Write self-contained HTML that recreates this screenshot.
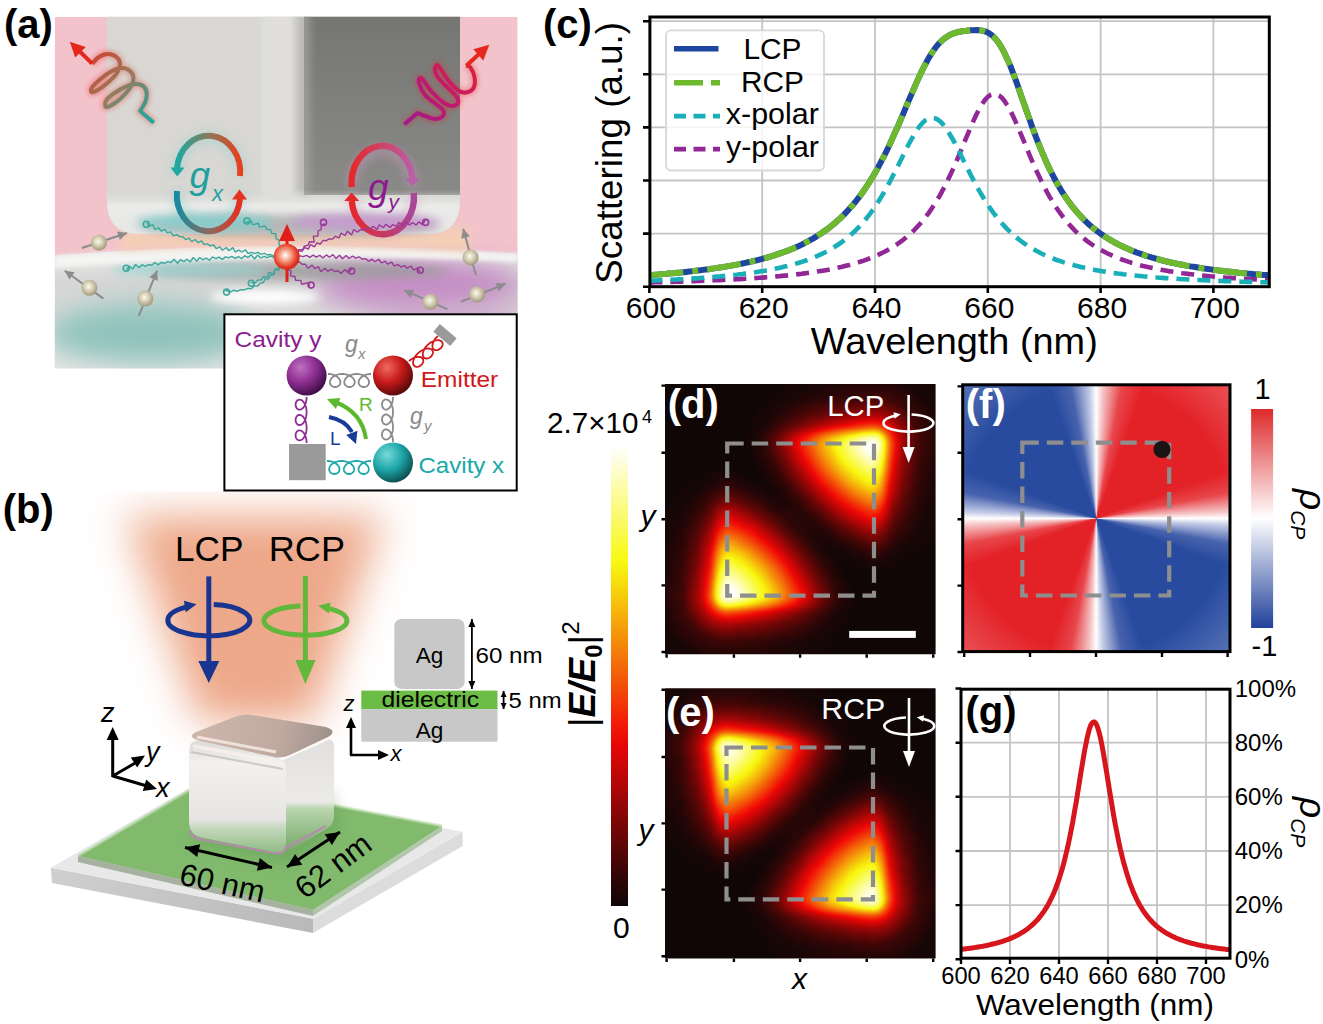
<!DOCTYPE html>
<html><head><meta charset="utf-8"><style>
html,body{margin:0;padding:0;background:#fff;}
body{width:1323px;height:1024px;position:relative;overflow:hidden;font-family:"Liberation Sans",sans-serif;}
svg{position:absolute;left:0;top:0;font-family:"Liberation Sans",sans-serif;}
#fmap{position:absolute;left:964px;top:386px;width:265px;height:265px;background:radial-gradient(circle at 132.2px 132.4px,rgba(255,255,255,0) 135px,rgba(255,255,255,0.22) 190px),conic-gradient(from 0deg at 132.2px 132.4px,#fff 0deg,#f5c4c6 3deg,#e8464b 11deg,#e32228 20deg,#e32228 70deg,#e8464b 79deg,#f5c4c6 87deg,#fff 90deg,#c4cbe6 93deg,#4863ad 101deg,#284ba0 110deg,#284ba0 160deg,#4863ad 169deg,#c4cbe6 177deg,#fff 180deg,#f5c4c6 183deg,#e8464b 191deg,#e32228 200deg,#e32228 250deg,#e8464b 259deg,#f5c4c6 267deg,#fff 270deg,#c4cbe6 273deg,#4863ad 281deg,#284ba0 290deg,#284ba0 340deg,#4863ad 349deg,#c4cbe6 357deg,#fff 360deg);}
</style></head><body>
<div id="fmap"></div>
<svg width="1323" height="1024" viewBox="0 0 1323 1024">
<defs><clipPath id="clipC"><rect x="651" y="18.5" width="617" height="266.7"/></clipPath></defs>
<path d="M762.2,18V286M875,18V286M987.8,18V286M1100.6,18V286M1213.4,18V286M651,21.2H1268M651,74.3H1268M651,127.4H1268M651,180.5H1268M651,233.6H1268" stroke="#c4c4c4" stroke-width="1.8" fill="none"/>
<g clip-path="url(#clipC)" fill="none" stroke-linejoin="round">
<path d="M649.4,282.5 L652.2,282.4 L655,282.3 L657.9,282.3 L660.7,282.2 L663.5,282.1 L666.3,282 L669.1,281.9 L672,281.9 L674.8,281.8 L677.6,281.7 L680.4,281.6 L683.2,281.5 L686.1,281.4 L688.9,281.3 L691.7,281.2 L694.5,281.1 L697.3,281 L700.2,280.9 L703,280.8 L705.8,280.7 L708.6,280.6 L711.4,280.5 L714.3,280.3 L717.1,280.2 L719.9,280.1 L722.7,280 L725.5,279.8 L728.4,279.7 L731.2,279.5 L734,279.4 L736.8,279.2 L739.6,279.1 L742.5,278.9 L745.3,278.7 L748.1,278.6 L750.9,278.4 L753.7,278.2 L756.6,278 L759.4,277.8 L762.2,277.6 L765,277.4 L767.8,277.2 L770.7,276.9 L773.5,276.7 L776.3,276.4 L779.1,276.2 L781.9,275.9 L784.8,275.6 L787.6,275.4 L790.4,275.1 L793.2,274.8 L796,274.4 L798.9,274.1 L801.7,273.8 L804.5,273.4 L807.3,273 L810.1,272.6 L813,272.2 L815.8,271.8 L818.6,271.3 L821.4,270.9 L824.2,270.4 L827.1,269.9 L829.9,269.4 L832.7,268.8 L835.5,268.2 L838.3,267.6 L841.2,267 L844,266.3 L846.8,265.6 L849.6,264.9 L852.4,264.1 L855.3,263.3 L858.1,262.4 L860.9,261.5 L863.7,260.6 L866.5,259.6 L869.4,258.5 L872.2,257.4 L875,256.2 L877.8,255 L880.6,253.7 L883.5,252.3 L886.3,250.8 L889.1,249.2 L891.9,247.6 L894.7,245.8 L897.6,243.9 L900.4,241.9 L903.2,239.8 L906,237.5 L908.8,235.1 L911.7,232.5 L914.5,229.8 L917.3,226.8 L920.1,223.7 L922.9,220.4 L925.8,216.8 L928.6,213.1 L931.4,209 L934.2,204.7 L937,200.2 L939.9,195.3 L942.7,190.2 L945.5,184.8 L948.3,179.1 L951.1,173.2 L954,166.9 L956.8,160.5 L959.6,153.8 L962.4,147.1 L965.2,140.2 L968.1,133.4 L970.9,126.8 L973.7,120.3 L976.5,114.3 L979.3,108.8 L982.2,104 L985,99.9 L987.8,96.8 L990.6,94.8 L993.4,93.9 L996.3,94.1 L999.1,95.4 L1001.9,97.8 L1004.7,101.3 L1007.5,105.6 L1010.4,110.7 L1013.2,116.4 L1016,122.6 L1018.8,129.1 L1021.6,135.9 L1024.5,142.7 L1027.3,149.5 L1030.1,156.3 L1032.9,162.8 L1035.7,169.2 L1038.6,175.3 L1041.4,181.2 L1044.2,186.8 L1047,192.1 L1049.8,197.1 L1052.7,201.8 L1055.5,206.3 L1058.3,210.5 L1061.1,214.4 L1063.9,218.1 L1066.8,221.6 L1069.6,224.9 L1072.4,227.9 L1075.2,230.8 L1078,233.5 L1080.9,236 L1083.7,238.3 L1086.5,240.6 L1089.3,242.6 L1092.1,244.6 L1095,246.4 L1097.8,248.2 L1100.6,249.8 L1103.4,251.3 L1106.2,252.8 L1109.1,254.2 L1111.9,255.4 L1114.7,256.7 L1117.5,257.8 L1120.3,258.9 L1123.2,260 L1126,260.9 L1128.8,261.9 L1131.6,262.8 L1134.4,263.6 L1137.3,264.4 L1140.1,265.2 L1142.9,265.9 L1145.7,266.6 L1148.5,267.2 L1151.4,267.8 L1154.2,268.4 L1157,269 L1159.8,269.6 L1162.6,270.1 L1165.5,270.6 L1168.3,271.1 L1171.1,271.5 L1173.9,271.9 L1176.7,272.4 L1179.6,272.8 L1182.4,273.2 L1185.2,273.5 L1188,273.9 L1190.8,274.2 L1193.7,274.5 L1196.5,274.9 L1199.3,275.2 L1202.1,275.5 L1204.9,275.7 L1207.8,276 L1210.6,276.3 L1213.4,276.5 L1216.2,276.8 L1219,277 L1221.9,277.2 L1224.7,277.5 L1227.5,277.7 L1230.3,277.9 L1233.1,278.1 L1236,278.3 L1238.8,278.4 L1241.6,278.6 L1244.4,278.8 L1247.2,279 L1250.1,279.1 L1252.9,279.3 L1255.7,279.4 L1258.5,279.6 L1261.3,279.7 L1264.2,279.9 L1267,280 L1269.8,280.1" stroke="#912896" stroke-width="4.6" stroke-dasharray="13 8"/>
<path d="M649.4,280.7 L652.2,280.6 L655,280.5 L657.9,280.4 L660.7,280.2 L663.5,280.1 L666.3,280 L669.1,279.8 L672,279.7 L674.8,279.5 L677.6,279.4 L680.4,279.2 L683.2,279.1 L686.1,278.9 L688.9,278.7 L691.7,278.6 L694.5,278.4 L697.3,278.2 L700.2,278 L703,277.8 L705.8,277.6 L708.6,277.3 L711.4,277.1 L714.3,276.9 L717.1,276.6 L719.9,276.4 L722.7,276.1 L725.5,275.9 L728.4,275.6 L731.2,275.3 L734,275 L736.8,274.7 L739.6,274.3 L742.5,274 L745.3,273.6 L748.1,273.3 L750.9,272.9 L753.7,272.5 L756.6,272 L759.4,271.6 L762.2,271.1 L765,270.7 L767.8,270.2 L770.7,269.6 L773.5,269.1 L776.3,268.5 L779.1,267.9 L781.9,267.3 L784.8,266.6 L787.6,265.9 L790.4,265.2 L793.2,264.4 L796,263.6 L798.9,262.8 L801.7,261.9 L804.5,261 L807.3,260 L810.1,258.9 L813,257.8 L815.8,256.6 L818.6,255.4 L821.4,254.1 L824.2,252.7 L827.1,251.3 L829.9,249.7 L832.7,248.1 L835.5,246.3 L838.3,244.5 L841.2,242.5 L844,240.4 L846.8,238.2 L849.6,235.9 L852.4,233.4 L855.3,230.7 L858.1,227.9 L860.9,224.8 L863.7,221.6 L866.5,218.2 L869.4,214.6 L872.2,210.8 L875,206.8 L877.8,202.5 L880.6,198 L883.5,193.3 L886.3,188.3 L889.1,183.1 L891.9,177.8 L894.7,172.3 L897.6,166.7 L900.4,161 L903.2,155.2 L906,149.6 L908.8,144.1 L911.7,138.9 L914.5,134 L917.3,129.5 L920.1,125.7 L922.9,122.5 L925.8,120.1 L928.6,118.5 L931.4,117.8 L934.2,118.1 L937,119.2 L939.9,121.2 L942.7,124 L945.5,127.6 L948.3,131.8 L951.1,136.5 L954,141.5 L956.8,146.9 L959.6,152.5 L962.4,158.2 L965.2,163.9 L968.1,169.6 L970.9,175.2 L973.7,180.6 L976.5,185.8 L979.3,190.9 L982.2,195.7 L985,200.4 L987.8,204.7 L990.6,208.9 L993.4,212.8 L996.3,216.5 L999.1,220 L1001.9,223.3 L1004.7,226.4 L1007.5,229.4 L1010.4,232.1 L1013.2,234.7 L1016,237.1 L1018.8,239.4 L1021.6,241.5 L1024.5,243.6 L1027.3,245.5 L1030.1,247.3 L1032.9,248.9 L1035.7,250.5 L1038.6,252 L1041.4,253.5 L1044.2,254.8 L1047,256.1 L1049.8,257.3 L1052.7,258.4 L1055.5,259.5 L1058.3,260.5 L1061.1,261.4 L1063.9,262.4 L1066.8,263.2 L1069.6,264.1 L1072.4,264.8 L1075.2,265.6 L1078,266.3 L1080.9,267 L1083.7,267.6 L1086.5,268.2 L1089.3,268.8 L1092.1,269.4 L1095,269.9 L1097.8,270.4 L1100.6,270.9 L1103.4,271.4 L1106.2,271.8 L1109.1,272.3 L1111.9,272.7 L1114.7,273.1 L1117.5,273.5 L1120.3,273.8 L1123.2,274.2 L1126,274.5 L1128.8,274.8 L1131.6,275.1 L1134.4,275.4 L1137.3,275.7 L1140.1,276 L1142.9,276.3 L1145.7,276.5 L1148.5,276.8 L1151.4,277 L1154.2,277.2 L1157,277.5 L1159.8,277.7 L1162.6,277.9 L1165.5,278.1 L1168.3,278.3 L1171.1,278.5 L1173.9,278.6 L1176.7,278.8 L1179.6,279 L1182.4,279.2 L1185.2,279.3 L1188,279.5 L1190.8,279.6 L1193.7,279.8 L1196.5,279.9 L1199.3,280 L1202.1,280.2 L1204.9,280.3 L1207.8,280.4 L1210.6,280.6 L1213.4,280.7 L1216.2,280.8 L1219,280.9 L1221.9,281 L1224.7,281.1 L1227.5,281.2 L1230.3,281.3 L1233.1,281.4 L1236,281.5 L1238.8,281.6 L1241.6,281.7 L1244.4,281.8 L1247.2,281.9 L1250.1,281.9 L1252.9,282 L1255.7,282.1 L1258.5,282.2 L1261.3,282.3 L1264.2,282.3 L1267,282.4 L1269.8,282.5" stroke="#19afb9" stroke-width="4.6" stroke-dasharray="13 8"/>
<path d="M649.4,275.1 L652.2,274.9 L655,274.7 L657.9,274.5 L660.7,274.2 L663.5,274 L666.3,273.8 L669.1,273.5 L672,273.3 L674.8,273 L677.6,272.7 L680.4,272.5 L683.2,272.2 L686.1,271.9 L688.9,271.6 L691.7,271.3 L694.5,270.9 L697.3,270.6 L700.2,270.3 L703,269.9 L705.8,269.5 L708.6,269.2 L711.4,268.8 L714.3,268.4 L717.1,267.9 L719.9,267.5 L722.7,267.1 L725.5,266.6 L728.4,266.1 L731.2,265.6 L734,265.1 L736.8,264.6 L739.6,264.1 L742.5,263.5 L745.3,262.9 L748.1,262.3 L750.9,261.7 L753.7,261 L756.6,260.3 L759.4,259.6 L762.2,258.9 L765,258.1 L767.8,257.3 L770.7,256.5 L773.5,255.6 L776.3,254.7 L779.1,253.7 L781.9,252.8 L784.8,251.7 L787.6,250.7 L790.4,249.6 L793.2,248.4 L796,247.2 L798.9,245.9 L801.7,244.6 L804.5,243.2 L807.3,241.7 L810.1,240.2 L813,238.6 L815.8,236.9 L818.6,235.1 L821.4,233.3 L824.2,231.3 L827.1,229.3 L829.9,227.1 L832.7,224.9 L835.5,222.5 L838.3,220 L841.2,217.4 L844,214.6 L846.8,211.7 L849.6,208.6 L852.4,205.4 L855.3,202 L858.1,198.4 L860.9,194.7 L863.7,190.7 L866.5,186.6 L869.4,182.2 L872.2,177.7 L875,172.9 L877.8,167.9 L880.6,162.6 L883.5,157.2 L886.3,151.5 L889.1,145.7 L891.9,139.6 L894.7,133.3 L897.6,126.9 L900.4,120.4 L903.2,113.8 L906,107.1 L908.8,100.4 L911.7,93.8 L914.5,87.3 L917.3,80.9 L920.1,74.8 L922.9,68.9 L925.8,63.4 L928.6,58.3 L931.4,53.6 L934.2,49.5 L937,45.8 L939.9,42.6 L942.7,39.9 L945.5,37.7 L948.3,35.9 L951.1,34.4 L954,33.3 L956.8,32.4 L959.6,31.8 L962.4,31.3 L965.2,30.9 L968.1,30.6 L970.9,30.3 L973.7,30.2 L976.5,30.1 L979.3,30.2 L982.2,30.6 L985,31.4 L987.8,32.5 L990.6,34.3 L993.4,36.6 L996.3,39.7 L999.1,43.5 L1001.9,48.1 L1004.7,53.4 L1007.5,59.4 L1010.4,66.1 L1013.2,73.3 L1016,80.9 L1018.8,88.8 L1021.6,96.9 L1024.5,105 L1027.3,113.1 L1030.1,121.1 L1032.9,128.9 L1035.7,136.4 L1038.6,143.7 L1041.4,150.6 L1044.2,157.2 L1047,163.5 L1049.8,169.5 L1052.7,175.2 L1055.5,180.5 L1058.3,185.5 L1061.1,190.3 L1063.9,194.7 L1066.8,198.9 L1069.6,202.8 L1072.4,206.6 L1075.2,210 L1078,213.3 L1080.9,216.4 L1083.7,219.3 L1086.5,222.1 L1089.3,224.7 L1092.1,227.1 L1095,229.4 L1097.8,231.6 L1100.6,233.7 L1103.4,235.6 L1106.2,237.5 L1109.1,239.2 L1111.9,240.9 L1114.7,242.5 L1117.5,244 L1120.3,245.4 L1123.2,246.8 L1126,248.1 L1128.8,249.3 L1131.6,250.5 L1134.4,251.6 L1137.3,252.7 L1140.1,253.7 L1142.9,254.7 L1145.7,255.6 L1148.5,256.5 L1151.4,257.4 L1154.2,258.2 L1157,259 L1159.8,259.7 L1162.6,260.5 L1165.5,261.2 L1168.3,261.8 L1171.1,262.5 L1173.9,263.1 L1176.7,263.7 L1179.6,264.3 L1182.4,264.8 L1185.2,265.4 L1188,265.9 L1190.8,266.4 L1193.7,266.8 L1196.5,267.3 L1199.3,267.8 L1202.1,268.2 L1204.9,268.6 L1207.8,269 L1210.6,269.4 L1213.4,269.8 L1216.2,270.1 L1219,270.5 L1221.9,270.8 L1224.7,271.2 L1227.5,271.5 L1230.3,271.8 L1233.1,272.1 L1236,272.4 L1238.8,272.7 L1241.6,272.9 L1244.4,273.2 L1247.2,273.5 L1250.1,273.7 L1252.9,274 L1255.7,274.2 L1258.5,274.4 L1261.3,274.7 L1264.2,274.9 L1267,275.1 L1269.8,275.3" stroke="#1e46a0" stroke-width="6"/>
<path d="M649.4,275.1 L652.2,274.9 L655,274.7 L657.9,274.5 L660.7,274.2 L663.5,274 L666.3,273.8 L669.1,273.5 L672,273.3 L674.8,273 L677.6,272.7 L680.4,272.5 L683.2,272.2 L686.1,271.9 L688.9,271.6 L691.7,271.3 L694.5,270.9 L697.3,270.6 L700.2,270.3 L703,269.9 L705.8,269.5 L708.6,269.2 L711.4,268.8 L714.3,268.4 L717.1,267.9 L719.9,267.5 L722.7,267.1 L725.5,266.6 L728.4,266.1 L731.2,265.6 L734,265.1 L736.8,264.6 L739.6,264.1 L742.5,263.5 L745.3,262.9 L748.1,262.3 L750.9,261.7 L753.7,261 L756.6,260.3 L759.4,259.6 L762.2,258.9 L765,258.1 L767.8,257.3 L770.7,256.5 L773.5,255.6 L776.3,254.7 L779.1,253.7 L781.9,252.8 L784.8,251.7 L787.6,250.7 L790.4,249.6 L793.2,248.4 L796,247.2 L798.9,245.9 L801.7,244.6 L804.5,243.2 L807.3,241.7 L810.1,240.2 L813,238.6 L815.8,236.9 L818.6,235.1 L821.4,233.3 L824.2,231.3 L827.1,229.3 L829.9,227.1 L832.7,224.9 L835.5,222.5 L838.3,220 L841.2,217.4 L844,214.6 L846.8,211.7 L849.6,208.6 L852.4,205.4 L855.3,202 L858.1,198.4 L860.9,194.7 L863.7,190.7 L866.5,186.6 L869.4,182.2 L872.2,177.7 L875,172.9 L877.8,167.9 L880.6,162.6 L883.5,157.2 L886.3,151.5 L889.1,145.7 L891.9,139.6 L894.7,133.3 L897.6,126.9 L900.4,120.4 L903.2,113.8 L906,107.1 L908.8,100.4 L911.7,93.8 L914.5,87.3 L917.3,80.9 L920.1,74.8 L922.9,68.9 L925.8,63.4 L928.6,58.3 L931.4,53.6 L934.2,49.5 L937,45.8 L939.9,42.6 L942.7,39.9 L945.5,37.7 L948.3,35.9 L951.1,34.4 L954,33.3 L956.8,32.4 L959.6,31.8 L962.4,31.3 L965.2,30.9 L968.1,30.6 L970.9,30.3 L973.7,30.2 L976.5,30.1 L979.3,30.2 L982.2,30.6 L985,31.4 L987.8,32.5 L990.6,34.3 L993.4,36.6 L996.3,39.7 L999.1,43.5 L1001.9,48.1 L1004.7,53.4 L1007.5,59.4 L1010.4,66.1 L1013.2,73.3 L1016,80.9 L1018.8,88.8 L1021.6,96.9 L1024.5,105 L1027.3,113.1 L1030.1,121.1 L1032.9,128.9 L1035.7,136.4 L1038.6,143.7 L1041.4,150.6 L1044.2,157.2 L1047,163.5 L1049.8,169.5 L1052.7,175.2 L1055.5,180.5 L1058.3,185.5 L1061.1,190.3 L1063.9,194.7 L1066.8,198.9 L1069.6,202.8 L1072.4,206.6 L1075.2,210 L1078,213.3 L1080.9,216.4 L1083.7,219.3 L1086.5,222.1 L1089.3,224.7 L1092.1,227.1 L1095,229.4 L1097.8,231.6 L1100.6,233.7 L1103.4,235.6 L1106.2,237.5 L1109.1,239.2 L1111.9,240.9 L1114.7,242.5 L1117.5,244 L1120.3,245.4 L1123.2,246.8 L1126,248.1 L1128.8,249.3 L1131.6,250.5 L1134.4,251.6 L1137.3,252.7 L1140.1,253.7 L1142.9,254.7 L1145.7,255.6 L1148.5,256.5 L1151.4,257.4 L1154.2,258.2 L1157,259 L1159.8,259.7 L1162.6,260.5 L1165.5,261.2 L1168.3,261.8 L1171.1,262.5 L1173.9,263.1 L1176.7,263.7 L1179.6,264.3 L1182.4,264.8 L1185.2,265.4 L1188,265.9 L1190.8,266.4 L1193.7,266.8 L1196.5,267.3 L1199.3,267.8 L1202.1,268.2 L1204.9,268.6 L1207.8,269 L1210.6,269.4 L1213.4,269.8 L1216.2,270.1 L1219,270.5 L1221.9,270.8 L1224.7,271.2 L1227.5,271.5 L1230.3,271.8 L1233.1,272.1 L1236,272.4 L1238.8,272.7 L1241.6,272.9 L1244.4,273.2 L1247.2,273.5 L1250.1,273.7 L1252.9,274 L1255.7,274.2 L1258.5,274.4 L1261.3,274.7 L1264.2,274.9 L1267,275.1 L1269.8,275.3" stroke="#6eb92d" stroke-width="6" stroke-dasharray="34 9 6 9"/>
</g>
<rect x="666.1" y="30.3" width="157.9" height="140.2" rx="5" fill="#fff" fill-opacity="0.8" stroke="#d8d8d8" stroke-width="1.8"/>
<path d="M674,48.8H718.5" stroke="#1e46a0" stroke-width="5.5"/>
<path d="M674,82.7H720" stroke="#6eb92d" stroke-width="5.5" stroke-dasharray="29 8 9 9"/>
<path d="M674,116.2H720" stroke="#19afb9" stroke-width="4.8" stroke-dasharray="12 7.5"/>
<path d="M674,149.1H720" stroke="#912896" stroke-width="4.8" stroke-dasharray="12 7.5"/>
<text x="743.5" y="58.5" font-size="30" textLength="58" lengthAdjust="spacingAndGlyphs">LCP</text>
<text x="741" y="91.6" font-size="30" textLength="63" lengthAdjust="spacingAndGlyphs">RCP</text>
<text x="725.8" y="123.8" font-size="30" textLength="93" lengthAdjust="spacingAndGlyphs">x-polar</text>
<text x="726" y="156.8" font-size="30" textLength="93" lengthAdjust="spacingAndGlyphs">y-polar</text>
<rect x="649.9" y="17" width="619.4" height="269.7" fill="none" stroke="#000" stroke-width="3"/>
<path d="M643,21.2H650M643,74.3H650M643,127.4H650M643,180.5H650M643,233.6H650M643,286.7H650M649.4,286V293M762.2,286V293M875,286V293M987.8,286V293M1100.6,286V293M1213.4,286V293" stroke="#000" stroke-width="2.6"/>
<text x="650.9" y="318" font-size="30" text-anchor="middle">600</text>
<text x="763.7" y="318" font-size="30" text-anchor="middle">620</text>
<text x="876.5" y="318" font-size="30" text-anchor="middle">640</text>
<text x="989.3" y="318" font-size="30" text-anchor="middle">660</text>
<text x="1102.1" y="318" font-size="30" text-anchor="middle">680</text>
<text x="1214.9" y="318" font-size="30" text-anchor="middle">700</text>
<text x="810.8" y="353.5" font-size="37" textLength="287" lengthAdjust="spacingAndGlyphs">Wavelength (nm)</text>
<text transform="translate(622.4,283.7) rotate(-90)" font-size="37.5" textLength="261.7" lengthAdjust="spacingAndGlyphs">Scattering (a.u.)</text>
<text x="3.9" y="37.5" font-size="40" font-weight="bold">(a)</text>
<text x="542.9" y="37.5" font-size="40" font-weight="bold">(c)</text>
<text x="2.7" y="522.5" font-size="40" font-weight="bold">(b)</text>
<defs><filter id="hotf" x="0" y="0" width="1323" height="1024" filterUnits="userSpaceOnUse" color-interpolation-filters="sRGB"><feGaussianBlur stdDeviation="2.6"/><feComponentTransfer><feFuncR type="table" tableValues="0.063 0.102 0.164 0.226 0.288 0.350 0.412 0.474 0.537 0.599 0.661 0.723 0.785 0.847 0.909 0.947 0.949 0.951 0.953 0.954 0.956 0.958 0.960 0.961 0.963 0.965 0.967 0.968 0.970 0.972 0.974 0.976 0.979 0.982 0.984 0.987 0.990 0.992 0.995 0.997 1.000"/><feFuncG type="table" tableValues="0.024 0.024 0.024 0.024 0.024 0.024 0.024 0.024 0.024 0.024 0.024 0.024 0.024 0.024 0.026 0.052 0.114 0.176 0.238 0.300 0.362 0.424 0.486 0.548 0.611 0.673 0.735 0.797 0.859 0.921 0.974 0.976 0.979 0.982 0.984 0.987 0.990 0.992 0.995 0.997 1.000"/><feFuncB type="table" tableValues="0.024 0.024 0.024 0.024 0.024 0.024 0.024 0.024 0.024 0.024 0.024 0.024 0.024 0.024 0.026 0.027 0.029 0.031 0.033 0.034 0.036 0.038 0.040 0.041 0.043 0.045 0.047 0.048 0.050 0.052 0.068 0.161 0.255 0.348 0.441 0.534 0.627 0.720 0.814 0.907 1.000"/></feComponentTransfer></filter>
<clipPath id="clipD"><rect x="665" y="384" width="270.6" height="270.3"/></clipPath><clipPath id="clipE"><rect x="665" y="688.2" width="270.6" height="270.3"/></clipPath></defs>
<g clip-path="url(#clipD)"><g filter="url(#hotf)"><rect x="645" y="364" width="310.6" height="310.3" fill="#000"/><path fill="#040404" d="M785 379h40v5h-40zM900 379h30v5h-30zM780 384h30v5h-30zM910 384h25v5h-25zM775 389h25v5h-25zM915 389h25v5h-25zM770 394h25v5h-25zM920 394h25v5h-25zM765 399h20v5h-20zM925 399h25v5h-25zM760 404h15v5h-15zM930 404h20v5h-20zM755 409h15v5h-15zM935 409h15v5h-15zM755 414h15v5h-15zM935 414h15v5h-15zM750 419h15v5h-15zM935 419h15v5h-15zM750 424h10v5h-10zM940 424h10v5h-10zM750 429h5v5h-5zM940 429h10v5h-10zM745 434h10v5h-10zM940 434h10v5h-10zM745 439h5v5h-5zM940 439h10v5h-10zM750 444h5v5h-5zM940 444h10v5h-10zM750 449h5v5h-5zM940 449h10v5h-10zM750 454h5v5h-5zM940 454h10v5h-10zM755 459h5v5h-5zM940 459h10v5h-10zM755 464h5v5h-5zM940 464h10v5h-10zM710 469h25v5h-25zM760 469h5v5h-5zM940 469h10v5h-10zM700 474h15v5h-15zM735 474h10v5h-10zM760 474h5v5h-5zM940 474h10v5h-10zM690 479h20v5h-20zM745 479h10v5h-10zM765 479h5v5h-5zM940 479h10v5h-10zM685 484h20v5h-20zM755 484h20v5h-20zM935 484h15v5h-15zM680 489h20v5h-20zM765 489h10v5h-10zM935 489h15v5h-15zM675 494h15v5h-15zM935 494h15v5h-15zM670 499h20v5h-20zM935 499h10v5h-10zM665 504h20v5h-20zM930 504h15v5h-15zM660 509h20v5h-20zM930 509h15v5h-15zM660 514h20v5h-20zM925 514h15v5h-15zM660 519h15v5h-15zM925 519h15v5h-15zM660 524h10v5h-10zM920 524h20v5h-20zM660 529h10v5h-10zM915 529h20v5h-20zM660 534h10v5h-10zM915 534h20v5h-20zM660 539h5v5h-5zM910 539h20v5h-20zM660 544h5v5h-5zM825 544h10v5h-10zM905 544h20v5h-20zM660 549h5v5h-5zM825 549h20v5h-20zM900 549h15v5h-15zM660 554h5v5h-5zM830 554h5v5h-5zM840 554h10v5h-10zM890 554h20v5h-20zM660 559h5v5h-5zM835 559h5v5h-5zM850 559h15v5h-15zM885 559h20v5h-20zM835 564h5v5h-5zM860 564h35v5h-35zM840 569h5v5h-5zM840 574h5v5h-5zM845 579h5v5h-5zM845 584h5v5h-5zM850 589h5v5h-5zM850 594h5v5h-5zM850 599h5v5h-5zM845 604h10v5h-10zM840 609h10v5h-10zM660 614h5v5h-5zM835 614h15v5h-15zM660 619h5v5h-5zM835 619h15v5h-15zM660 624h5v5h-5zM830 624h15v5h-15zM660 629h10v5h-10zM825 629h15v5h-15zM660 634h15v5h-15zM820 634h15v5h-15zM660 639h20v5h-20zM810 639h20v5h-20zM660 644h25v5h-25zM805 644h25v5h-25zM665 649h25v5h-25zM795 649h30v5h-30zM670 654h30v5h-30zM780 654h40v5h-40zM675 659h40v5h-40zM745 659h65v5h-65zM680 664h105v5h-105z"/><path fill="#080808" d="M825 379h75v5h-75zM810 384h30v5h-30zM895 384h15v5h-15zM800 389h25v5h-25zM905 389h10v5h-10zM795 394h20v5h-20zM915 394h5v5h-5zM785 399h15v5h-15zM920 399h5v5h-5zM775 404h10v5h-10zM925 404h5v5h-5zM770 409h10v5h-10zM925 409h10v5h-10zM770 414h5v5h-5zM930 414h5v5h-5zM765 419h5v5h-5zM930 419h5v5h-5zM760 424h10v5h-10zM935 424h5v5h-5zM755 429h10v5h-10zM935 429h5v5h-5zM755 434h5v5h-5zM935 434h5v5h-5zM750 439h10v5h-10zM935 439h5v5h-5zM755 444h5v5h-5zM935 444h5v5h-5zM755 449h5v5h-5zM935 449h5v5h-5zM755 454h5v5h-5zM935 454h5v5h-5zM760 459h5v5h-5zM935 459h5v5h-5zM760 464h5v5h-5zM935 464h5v5h-5zM765 469h5v5h-5zM930 469h10v5h-10zM715 474h20v5h-20zM765 474h5v5h-5zM930 474h10v5h-10zM710 479h10v5h-10zM735 479h10v5h-10zM770 479h5v5h-5zM930 479h10v5h-10zM705 484h10v5h-10zM745 484h10v5h-10zM775 484h5v5h-5zM930 484h5v5h-5zM700 489h5v5h-5zM755 489h10v5h-10zM775 489h10v5h-10zM925 489h10v5h-10zM690 494h10v5h-10zM765 494h20v5h-20zM925 494h10v5h-10zM690 499h5v5h-5zM770 499h20v5h-20zM925 499h10v5h-10zM685 504h5v5h-5zM780 504h10v5h-10zM920 504h10v5h-10zM680 509h10v5h-10zM920 509h10v5h-10zM680 514h5v5h-5zM915 514h10v5h-10zM675 519h10v5h-10zM915 519h10v5h-10zM670 524h15v5h-15zM915 524h5v5h-5zM670 529h10v5h-10zM810 529h10v5h-10zM910 529h5v5h-5zM670 534h10v5h-10zM810 534h20v5h-20zM905 534h10v5h-10zM665 539h10v5h-10zM815 539h20v5h-20zM900 539h10v5h-10zM665 544h10v5h-10zM815 544h10v5h-10zM835 544h10v5h-10zM895 544h10v5h-10zM665 549h10v5h-10zM820 549h5v5h-5zM845 549h10v5h-10zM890 549h10v5h-10zM665 554h5v5h-5zM825 554h5v5h-5zM850 554h15v5h-15zM885 554h5v5h-5zM665 559h5v5h-5zM830 559h5v5h-5zM865 559h20v5h-20zM660 564h10v5h-10zM830 564h5v5h-5zM660 569h10v5h-10zM835 569h5v5h-5zM660 574h10v5h-10zM835 574h5v5h-5zM660 579h5v5h-5zM840 579h5v5h-5zM660 584h5v5h-5zM840 584h5v5h-5zM660 589h5v5h-5zM840 589h10v5h-10zM660 594h5v5h-5zM845 594h5v5h-5zM660 599h5v5h-5zM840 599h10v5h-10zM660 604h5v5h-5zM840 604h5v5h-5zM660 609h10v5h-10zM835 609h5v5h-5zM665 614h5v5h-5zM830 614h5v5h-5zM665 619h5v5h-5zM825 619h10v5h-10zM665 624h10v5h-10zM820 624h10v5h-10zM670 629h5v5h-5zM815 629h10v5h-10zM675 634h5v5h-5zM805 634h15v5h-15zM680 639h5v5h-5zM790 639h20v5h-20zM685 644h10v5h-10zM780 644h25v5h-25zM690 649h10v5h-10zM765 649h30v5h-30zM700 654h20v5h-20zM735 654h45v5h-45zM715 659h30v5h-30z"/><path fill="#0c0c0c" d="M840 384h55v5h-55zM825 389h25v5h-25zM895 389h10v5h-10zM815 394h20v5h-20zM905 394h10v5h-10zM800 399h10v5h-10zM910 399h10v5h-10zM785 404h10v5h-10zM915 404h10v5h-10zM780 409h10v5h-10zM920 409h5v5h-5zM775 414h10v5h-10zM920 414h10v5h-10zM770 419h5v5h-5zM925 419h5v5h-5zM925 424h10v5h-10zM930 429h5v5h-5zM760 434h5v5h-5zM930 434h5v5h-5zM760 439h5v5h-5zM930 439h5v5h-5zM760 444h5v5h-5zM930 444h5v5h-5zM760 449h5v5h-5zM930 449h5v5h-5zM760 454h5v5h-5zM930 454h5v5h-5zM765 459h5v5h-5zM925 459h10v5h-10zM765 464h5v5h-5zM925 464h10v5h-10zM770 469h5v5h-5zM925 469h5v5h-5zM770 474h10v5h-10zM925 474h5v5h-5zM720 479h15v5h-15zM775 479h5v5h-5zM920 479h10v5h-10zM715 484h5v5h-5zM735 484h10v5h-10zM780 484h5v5h-5zM920 484h10v5h-10zM705 489h5v5h-5zM745 489h10v5h-10zM785 489h5v5h-5zM920 489h5v5h-5zM700 494h5v5h-5zM755 494h10v5h-10zM785 494h5v5h-5zM920 494h5v5h-5zM695 499h10v5h-10zM765 499h5v5h-5zM790 499h5v5h-5zM915 499h10v5h-10zM690 504h10v5h-10zM770 504h10v5h-10zM790 504h10v5h-10zM915 504h5v5h-5zM690 509h5v5h-5zM775 509h30v5h-30zM915 509h5v5h-5zM685 514h5v5h-5zM785 514h25v5h-25zM685 519h5v5h-5zM790 519h25v5h-25zM910 519h5v5h-5zM795 524h30v5h-30zM910 524h5v5h-5zM680 529h5v5h-5zM800 529h10v5h-10zM820 529h10v5h-10zM905 529h5v5h-5zM680 534h5v5h-5zM805 534h5v5h-5zM830 534h5v5h-5zM900 534h5v5h-5zM675 539h10v5h-10zM810 539h5v5h-5zM835 539h10v5h-10zM895 539h5v5h-5zM675 544h10v5h-10zM810 544h5v5h-5zM845 544h10v5h-10zM890 544h5v5h-5zM675 549h5v5h-5zM815 549h5v5h-5zM855 549h10v5h-10zM885 549h5v5h-5zM670 554h10v5h-10zM820 554h5v5h-5zM865 554h20v5h-20zM670 559h10v5h-10zM820 559h10v5h-10zM670 564h5v5h-5zM825 564h5v5h-5zM670 569h5v5h-5zM830 569h5v5h-5zM670 574h5v5h-5zM830 574h5v5h-5zM665 579h10v5h-10zM835 579h5v5h-5zM665 584h10v5h-10zM835 584h5v5h-5zM665 589h5v5h-5zM835 589h5v5h-5zM665 594h5v5h-5zM840 594h5v5h-5zM665 599h5v5h-5zM835 599h5v5h-5zM665 604h10v5h-10zM835 604h5v5h-5zM670 609h5v5h-5zM830 609h5v5h-5zM670 614h5v5h-5zM825 614h5v5h-5zM670 619h10v5h-10zM820 619h5v5h-5zM675 624h5v5h-5zM815 624h5v5h-5zM675 629h10v5h-10zM805 629h10v5h-10zM680 634h10v5h-10zM795 634h10v5h-10zM685 639h10v5h-10zM770 639h20v5h-20zM695 644h10v5h-10zM755 644h25v5h-25zM700 649h65v5h-65zM720 654h15v5h-15z"/><path fill="#101010" d="M850 389h45v5h-45zM835 394h25v5h-25zM890 394h15v5h-15zM810 399h15v5h-15zM900 399h10v5h-10zM795 404h10v5h-10zM905 404h10v5h-10zM790 409h5v5h-5zM910 409h10v5h-10zM785 414h5v5h-5zM915 414h5v5h-5zM775 419h5v5h-5zM920 419h5v5h-5zM770 424h5v5h-5zM920 424h5v5h-5zM765 429h5v5h-5zM920 429h10v5h-10zM925 434h5v5h-5zM925 439h5v5h-5zM925 444h5v5h-5zM765 449h5v5h-5zM925 449h5v5h-5zM765 454h5v5h-5zM920 454h10v5h-10zM770 459h5v5h-5zM920 459h5v5h-5zM770 464h5v5h-5zM920 464h5v5h-5zM775 469h5v5h-5zM920 469h5v5h-5zM920 474h5v5h-5zM780 479h5v5h-5zM720 484h15v5h-15zM785 484h5v5h-5zM915 484h5v5h-5zM710 489h5v5h-5zM740 489h5v5h-5zM915 489h5v5h-5zM705 494h5v5h-5zM750 494h5v5h-5zM790 494h5v5h-5zM915 494h5v5h-5zM760 499h5v5h-5zM795 499h5v5h-5zM700 504h5v5h-5zM765 504h5v5h-5zM800 504h5v5h-5zM695 509h5v5h-5zM770 509h5v5h-5zM805 509h5v5h-5zM910 509h5v5h-5zM690 514h5v5h-5zM780 514h5v5h-5zM810 514h5v5h-5zM910 514h5v5h-5zM690 519h5v5h-5zM785 519h5v5h-5zM815 519h5v5h-5zM905 519h5v5h-5zM685 524h5v5h-5zM790 524h5v5h-5zM900 524h10v5h-10zM685 529h5v5h-5zM795 529h5v5h-5zM830 529h5v5h-5zM900 529h5v5h-5zM800 534h5v5h-5zM835 534h5v5h-5zM895 534h5v5h-5zM805 539h5v5h-5zM845 539h5v5h-5zM890 539h5v5h-5zM855 544h5v5h-5zM885 544h5v5h-5zM680 549h5v5h-5zM810 549h5v5h-5zM865 549h20v5h-20zM680 554h5v5h-5zM815 554h5v5h-5zM680 559h5v5h-5zM675 564h10v5h-10zM820 564h5v5h-5zM675 569h5v5h-5zM825 569h5v5h-5zM675 574h5v5h-5zM675 579h5v5h-5zM830 579h5v5h-5zM675 584h5v5h-5zM830 584h5v5h-5zM670 589h10v5h-10zM670 594h5v5h-5zM835 594h5v5h-5zM670 599h10v5h-10zM675 604h5v5h-5zM830 604h5v5h-5zM675 609h5v5h-5zM825 609h5v5h-5zM675 614h5v5h-5zM820 614h5v5h-5zM680 619h5v5h-5zM815 619h5v5h-5zM680 624h10v5h-10zM805 624h10v5h-10zM685 629h10v5h-10zM795 629h10v5h-10zM690 634h10v5h-10zM780 634h15v5h-15zM695 639h15v5h-15zM745 639h25v5h-25zM705 644h50v5h-50z"/><path fill="#141414" d="M860 394h30v5h-30zM825 399h15v5h-15zM890 399h10v5h-10zM805 404h10v5h-10zM900 404h5v5h-5zM795 409h10v5h-10zM905 409h5v5h-5zM790 414h5v5h-5zM910 414h5v5h-5zM780 419h5v5h-5zM915 419h5v5h-5zM775 424h5v5h-5zM915 424h5v5h-5zM770 429h5v5h-5zM915 429h5v5h-5zM765 434h5v5h-5zM920 434h5v5h-5zM765 439h5v5h-5zM920 439h5v5h-5zM765 444h5v5h-5zM920 444h5v5h-5zM920 449h5v5h-5zM770 454h5v5h-5zM775 464h5v5h-5zM915 464h5v5h-5zM915 469h5v5h-5zM780 474h5v5h-5zM915 474h5v5h-5zM915 479h5v5h-5zM715 489h5v5h-5zM735 489h5v5h-5zM790 489h5v5h-5zM710 494h5v5h-5zM745 494h5v5h-5zM795 494h5v5h-5zM910 494h5v5h-5zM705 499h5v5h-5zM755 499h5v5h-5zM800 499h5v5h-5zM910 499h5v5h-5zM760 504h5v5h-5zM910 504h5v5h-5zM700 509h5v5h-5zM905 509h5v5h-5zM695 514h5v5h-5zM775 514h5v5h-5zM815 514h5v5h-5zM905 514h5v5h-5zM780 519h5v5h-5zM820 519h5v5h-5zM900 519h5v5h-5zM690 524h5v5h-5zM785 524h5v5h-5zM825 524h5v5h-5zM790 529h5v5h-5zM895 529h5v5h-5zM685 534h5v5h-5zM795 534h5v5h-5zM840 534h5v5h-5zM890 534h5v5h-5zM685 539h5v5h-5zM800 539h5v5h-5zM850 539h5v5h-5zM685 544h5v5h-5zM805 544h5v5h-5zM860 544h5v5h-5zM815 559h5v5h-5zM680 569h5v5h-5zM680 574h5v5h-5zM825 574h5v5h-5zM680 579h5v5h-5zM680 584h5v5h-5zM680 589h5v5h-5zM830 589h5v5h-5zM675 594h5v5h-5zM680 599h5v5h-5zM830 599h5v5h-5zM680 604h5v5h-5zM680 609h5v5h-5zM820 609h5v5h-5zM680 614h5v5h-5zM815 614h5v5h-5zM685 619h5v5h-5zM810 619h5v5h-5zM690 624h5v5h-5zM800 624h5v5h-5zM695 629h5v5h-5zM790 629h5v5h-5zM700 634h10v5h-10zM770 634h10v5h-10zM710 639h35v5h-35z"/><path fill="#181818" d="M840 399h20v5h-20zM885 399h5v5h-5zM815 404h10v5h-10zM895 404h5v5h-5zM805 409h5v5h-5zM795 414h5v5h-5zM785 419h5v5h-5zM910 419h5v5h-5zM780 424h5v5h-5zM915 434h5v5h-5zM915 439h5v5h-5zM915 444h5v5h-5zM770 449h5v5h-5zM915 449h5v5h-5zM915 454h5v5h-5zM915 459h5v5h-5zM780 469h5v5h-5zM785 479h5v5h-5zM790 484h5v5h-5zM910 484h5v5h-5zM720 489h15v5h-15zM910 489h5v5h-5zM740 494h5v5h-5zM710 499h5v5h-5zM750 499h5v5h-5zM705 504h5v5h-5zM805 504h5v5h-5zM905 504h5v5h-5zM765 509h5v5h-5zM810 509h5v5h-5zM700 514h5v5h-5zM900 514h5v5h-5zM695 519h5v5h-5zM695 524h5v5h-5zM830 524h5v5h-5zM895 524h5v5h-5zM690 529h5v5h-5zM835 529h5v5h-5zM890 529h5v5h-5zM690 534h5v5h-5zM845 534h5v5h-5zM855 539h5v5h-5zM885 539h5v5h-5zM865 544h5v5h-5zM880 544h5v5h-5zM685 549h5v5h-5zM685 554h5v5h-5zM810 554h5v5h-5zM820 569h5v5h-5zM825 579h5v5h-5zM680 594h5v5h-5zM830 594h5v5h-5zM825 604h5v5h-5zM685 614h5v5h-5zM810 614h5v5h-5zM690 619h5v5h-5zM805 619h5v5h-5zM790 624h10v5h-10zM700 629h5v5h-5zM780 629h10v5h-10zM710 634h5v5h-5zM755 634h15v5h-15z"/><path fill="#1c1c1c" d="M860 399h25v5h-25zM825 404h10v5h-10zM810 409h10v5h-10zM900 409h5v5h-5zM800 414h5v5h-5zM905 414h5v5h-5zM790 419h5v5h-5zM785 424h5v5h-5zM910 424h5v5h-5zM775 429h5v5h-5zM770 434h5v5h-5zM770 439h5v5h-5zM770 444h5v5h-5zM775 459h5v5h-5zM785 474h5v5h-5zM910 474h5v5h-5zM910 479h5v5h-5zM795 489h5v5h-5zM715 494h5v5h-5zM735 494h5v5h-5zM800 494h5v5h-5zM905 494h5v5h-5zM745 499h5v5h-5zM805 499h5v5h-5zM905 499h5v5h-5zM755 504h5v5h-5zM705 509h5v5h-5zM815 509h5v5h-5zM900 509h5v5h-5zM770 514h5v5h-5zM820 514h5v5h-5zM700 519h5v5h-5zM775 519h5v5h-5zM825 519h5v5h-5zM895 519h5v5h-5zM780 524h5v5h-5zM695 529h5v5h-5zM785 529h5v5h-5zM840 529h5v5h-5zM790 534h5v5h-5zM850 534h5v5h-5zM885 534h5v5h-5zM690 539h5v5h-5zM795 539h5v5h-5zM860 539h5v5h-5zM690 544h5v5h-5zM800 544h5v5h-5zM870 544h10v5h-10zM805 549h5v5h-5zM685 559h5v5h-5zM810 559h5v5h-5zM685 564h5v5h-5zM815 564h5v5h-5zM685 569h5v5h-5zM820 574h5v5h-5zM825 584h5v5h-5zM825 599h5v5h-5zM685 609h5v5h-5zM815 609h5v5h-5zM800 619h5v5h-5zM695 624h5v5h-5zM785 624h5v5h-5zM770 629h10v5h-10zM715 634h5v5h-5zM735 634h20v5h-20z"/><path fill="#202020" d="M835 404h15v5h-15zM890 404h5v5h-5zM820 409h5v5h-5zM805 414h5v5h-5zM795 419h5v5h-5zM905 419h5v5h-5zM910 429h5v5h-5zM775 454h5v5h-5zM910 459h5v5h-5zM780 464h5v5h-5zM910 464h5v5h-5zM910 469h5v5h-5zM790 479h5v5h-5zM905 489h5v5h-5zM720 494h5v5h-5zM730 494h5v5h-5zM740 499h5v5h-5zM900 499h5v5h-5zM710 504h5v5h-5zM750 504h5v5h-5zM810 504h5v5h-5zM900 504h5v5h-5zM760 509h5v5h-5zM765 514h5v5h-5zM895 514h5v5h-5zM830 519h5v5h-5zM835 524h5v5h-5zM890 524h5v5h-5zM845 529h5v5h-5zM695 534h5v5h-5zM865 539h5v5h-5zM880 539h5v5h-5zM690 549h5v5h-5zM690 554h5v5h-5zM805 554h5v5h-5zM815 569h5v5h-5zM685 574h5v5h-5zM685 579h5v5h-5zM820 579h5v5h-5zM685 584h5v5h-5zM825 589h5v5h-5zM825 594h5v5h-5zM685 599h5v5h-5zM685 604h5v5h-5zM820 604h5v5h-5zM810 609h5v5h-5zM690 614h5v5h-5zM805 614h5v5h-5zM795 619h5v5h-5zM780 624h5v5h-5zM705 629h5v5h-5zM760 629h10v5h-10zM720 634h15v5h-15z"/><path fill="#242424" d="M850 404h10v5h-10zM885 404h5v5h-5zM825 409h10v5h-10zM895 409h5v5h-5zM810 414h10v5h-10zM900 414h5v5h-5zM800 419h5v5h-5zM790 424h5v5h-5zM780 429h5v5h-5zM775 434h5v5h-5zM910 434h5v5h-5zM910 439h5v5h-5zM910 444h5v5h-5zM775 449h5v5h-5zM910 449h5v5h-5zM910 454h5v5h-5zM780 459h5v5h-5zM785 469h5v5h-5zM905 479h5v5h-5zM795 484h5v5h-5zM905 484h5v5h-5zM800 489h5v5h-5zM725 494h5v5h-5zM805 494h5v5h-5zM900 494h5v5h-5zM715 499h5v5h-5zM735 499h5v5h-5zM810 499h5v5h-5zM745 504h5v5h-5zM815 504h5v5h-5zM755 509h5v5h-5zM820 509h5v5h-5zM895 509h5v5h-5zM705 514h5v5h-5zM825 514h5v5h-5zM770 519h5v5h-5zM890 519h5v5h-5zM700 524h5v5h-5zM775 524h5v5h-5zM840 524h5v5h-5zM780 529h5v5h-5zM885 529h5v5h-5zM785 534h5v5h-5zM855 534h5v5h-5zM695 539h5v5h-5zM790 539h5v5h-5zM870 539h10v5h-10zM695 544h5v5h-5zM795 544h5v5h-5zM800 549h5v5h-5zM690 559h5v5h-5zM690 564h5v5h-5zM810 564h5v5h-5zM815 574h5v5h-5zM820 584h5v5h-5zM685 589h5v5h-5zM685 594h5v5h-5zM820 599h5v5h-5zM800 614h5v5h-5zM695 619h5v5h-5zM785 619h10v5h-10zM700 624h5v5h-5zM770 624h10v5h-10zM710 629h5v5h-5zM750 629h10v5h-10z"/><path fill="#282828" d="M860 404h25v5h-25zM835 409h10v5h-10zM890 409h5v5h-5zM820 414h5v5h-5zM795 424h5v5h-5zM905 424h5v5h-5zM775 439h5v5h-5zM775 444h5v5h-5zM780 454h5v5h-5zM785 464h5v5h-5zM905 469h5v5h-5zM790 474h5v5h-5zM905 474h5v5h-5zM795 479h5v5h-5zM900 489h5v5h-5zM720 499h5v5h-5zM730 499h5v5h-5zM895 504h5v5h-5zM710 509h5v5h-5zM750 509h5v5h-5zM760 514h5v5h-5zM705 519h5v5h-5zM765 519h5v5h-5zM835 519h5v5h-5zM700 529h5v5h-5zM850 529h5v5h-5zM860 534h5v5h-5zM880 534h5v5h-5zM695 549h5v5h-5zM800 554h5v5h-5zM805 559h5v5h-5zM690 569h5v5h-5zM810 569h5v5h-5zM690 574h5v5h-5zM815 579h5v5h-5zM820 589h5v5h-5zM820 594h5v5h-5zM815 604h5v5h-5zM690 609h5v5h-5zM805 609h5v5h-5zM795 614h5v5h-5zM780 619h5v5h-5zM765 624h5v5h-5zM715 629h5v5h-5zM735 629h15v5h-15z"/><path fill="#2d2d2d" d="M845 409h5v5h-5zM825 414h5v5h-5zM895 414h5v5h-5zM805 419h5v5h-5zM900 419h5v5h-5zM785 429h5v5h-5zM905 429h5v5h-5zM780 434h5v5h-5zM780 449h5v5h-5zM785 459h5v5h-5zM905 459h5v5h-5zM905 464h5v5h-5zM790 469h5v5h-5zM900 479h5v5h-5zM800 484h5v5h-5zM900 484h5v5h-5zM805 489h5v5h-5zM810 494h5v5h-5zM725 499h5v5h-5zM815 499h5v5h-5zM715 504h5v5h-5zM740 504h5v5h-5zM820 504h5v5h-5zM825 509h5v5h-5zM710 514h5v5h-5zM755 514h5v5h-5zM830 514h5v5h-5zM890 514h5v5h-5zM705 524h5v5h-5zM770 524h5v5h-5zM845 524h5v5h-5zM885 524h5v5h-5zM775 529h5v5h-5zM855 529h5v5h-5zM700 534h5v5h-5zM780 534h5v5h-5zM865 534h5v5h-5zM875 534h5v5h-5zM785 539h5v5h-5zM790 544h5v5h-5zM795 549h5v5h-5zM695 554h5v5h-5zM695 559h5v5h-5zM805 564h5v5h-5zM690 579h5v5h-5zM690 584h5v5h-5zM815 584h5v5h-5zM690 604h5v5h-5zM800 609h5v5h-5zM695 614h5v5h-5zM790 614h5v5h-5zM700 619h5v5h-5zM775 619h5v5h-5zM705 624h5v5h-5zM755 624h10v5h-10zM720 629h15v5h-15z"/><path fill="#313131" d="M850 409h10v5h-10zM885 409h5v5h-5zM830 414h5v5h-5zM810 419h5v5h-5zM800 424h5v5h-5zM905 434h5v5h-5zM780 439h5v5h-5zM905 439h5v5h-5zM780 444h5v5h-5zM905 444h5v5h-5zM905 449h5v5h-5zM905 454h5v5h-5zM795 474h5v5h-5zM900 474h5v5h-5zM895 499h5v5h-5zM735 504h5v5h-5zM745 509h5v5h-5zM890 509h5v5h-5zM760 519h5v5h-5zM840 519h5v5h-5zM850 524h5v5h-5zM860 529h5v5h-5zM880 529h5v5h-5zM870 534h5v5h-5zM700 539h5v5h-5zM800 559h5v5h-5zM695 564h5v5h-5zM810 574h5v5h-5zM690 589h5v5h-5zM690 594h5v5h-5zM690 599h5v5h-5zM815 599h5v5h-5zM810 604h5v5h-5zM695 609h5v5h-5zM770 619h5v5h-5zM710 624h5v5h-5zM745 624h10v5h-10z"/><path fill="#353535" d="M860 409h25v5h-25zM835 414h10v5h-10zM890 414h5v5h-5zM815 419h5v5h-5zM895 419h5v5h-5zM805 424h5v5h-5zM900 424h5v5h-5zM790 429h5v5h-5zM785 454h5v5h-5zM790 464h5v5h-5zM900 464h5v5h-5zM900 469h5v5h-5zM800 479h5v5h-5zM805 484h5v5h-5zM895 494h5v5h-5zM720 504h5v5h-5zM730 504h5v5h-5zM890 504h5v5h-5zM830 509h5v5h-5zM750 514h5v5h-5zM835 514h5v5h-5zM710 519h5v5h-5zM885 519h5v5h-5zM765 524h5v5h-5zM705 529h5v5h-5zM700 544h5v5h-5zM790 549h5v5h-5zM795 554h5v5h-5zM695 569h5v5h-5zM805 569h5v5h-5zM695 574h5v5h-5zM810 579h5v5h-5zM815 589h5v5h-5zM815 594h5v5h-5zM795 609h5v5h-5zM700 614h5v5h-5zM785 614h5v5h-5zM705 619h5v5h-5zM765 619h5v5h-5zM715 624h5v5h-5zM735 624h10v5h-10z"/><path fill="#393939" d="M845 414h5v5h-5zM820 419h5v5h-5zM900 429h5v5h-5zM785 434h5v5h-5zM785 449h5v5h-5zM900 454h5v5h-5zM900 459h5v5h-5zM795 469h5v5h-5zM810 489h5v5h-5zM895 489h5v5h-5zM815 494h5v5h-5zM820 499h5v5h-5zM725 504h5v5h-5zM825 504h5v5h-5zM715 509h5v5h-5zM740 509h5v5h-5zM755 519h5v5h-5zM845 519h5v5h-5zM855 524h5v5h-5zM770 529h5v5h-5zM865 529h5v5h-5zM875 529h5v5h-5zM705 534h5v5h-5zM775 534h5v5h-5zM780 539h5v5h-5zM785 544h5v5h-5zM700 549h5v5h-5zM800 564h5v5h-5zM695 579h5v5h-5zM695 584h5v5h-5zM695 604h5v5h-5zM805 604h5v5h-5zM780 614h5v5h-5zM760 619h5v5h-5zM720 624h15v5h-15z"/><path fill="#3d3d3d" d="M850 414h10v5h-10zM885 414h5v5h-5zM825 419h5v5h-5zM890 419h5v5h-5zM810 424h5v5h-5zM895 424h5v5h-5zM795 429h5v5h-5zM900 434h5v5h-5zM900 444h5v5h-5zM900 449h5v5h-5zM790 459h5v5h-5zM800 474h5v5h-5zM895 484h5v5h-5zM890 499h5v5h-5zM735 509h5v5h-5zM745 514h5v5h-5zM840 514h5v5h-5zM885 514h5v5h-5zM710 524h5v5h-5zM760 524h5v5h-5zM880 524h5v5h-5zM870 529h5v5h-5zM705 539h5v5h-5zM700 554h5v5h-5zM700 559h5v5h-5zM795 559h5v5h-5zM805 574h5v5h-5zM810 584h5v5h-5zM695 589h5v5h-5zM695 594h5v5h-5zM695 599h5v5h-5zM810 599h5v5h-5zM700 609h5v5h-5zM790 609h5v5h-5zM775 614h5v5h-5zM710 619h5v5h-5zM750 619h10v5h-10z"/><path fill="#414141" d="M860 414h5v5h-5zM880 414h5v5h-5zM830 419h5v5h-5zM815 424h5v5h-5zM785 439h5v5h-5zM900 439h5v5h-5zM785 444h5v5h-5zM790 454h5v5h-5zM795 464h5v5h-5zM805 479h5v5h-5zM895 479h5v5h-5zM810 484h5v5h-5zM890 494h5v5h-5zM830 504h5v5h-5zM720 509h5v5h-5zM835 509h5v5h-5zM715 514h5v5h-5zM850 519h5v5h-5zM860 524h5v5h-5zM765 529h5v5h-5zM770 534h5v5h-5zM785 549h5v5h-5zM790 554h5v5h-5zM700 564h5v5h-5zM800 569h5v5h-5zM805 579h5v5h-5zM810 589h5v5h-5zM785 609h5v5h-5zM705 614h5v5h-5zM745 619h5v5h-5z"/><path fill="#454545" d="M865 414h15v5h-15zM835 419h5v5h-5zM800 429h5v5h-5zM790 434h5v5h-5zM800 469h5v5h-5zM895 469h5v5h-5zM895 474h5v5h-5zM815 489h5v5h-5zM820 494h5v5h-5zM825 499h5v5h-5zM730 509h5v5h-5zM885 509h5v5h-5zM740 514h5v5h-5zM845 514h5v5h-5zM750 519h5v5h-5zM855 519h5v5h-5zM865 524h5v5h-5zM875 524h5v5h-5zM710 529h5v5h-5zM775 539h5v5h-5zM705 544h5v5h-5zM780 544h5v5h-5zM795 564h5v5h-5zM700 569h5v5h-5zM810 594h5v5h-5zM700 604h5v5h-5zM800 604h5v5h-5zM770 614h5v5h-5zM715 619h5v5h-5zM740 619h5v5h-5z"/><path fill="#494949" d="M840 419h5v5h-5zM820 424h5v5h-5zM895 429h5v5h-5zM790 449h5v5h-5zM795 459h5v5h-5zM895 464h5v5h-5zM805 474h5v5h-5zM890 489h5v5h-5zM725 509h5v5h-5zM840 509h5v5h-5zM735 514h5v5h-5zM745 519h5v5h-5zM880 519h5v5h-5zM755 524h5v5h-5zM870 524h5v5h-5zM760 529h5v5h-5zM705 549h5v5h-5zM790 559h5v5h-5zM700 574h5v5h-5zM800 574h5v5h-5zM805 584h5v5h-5zM805 599h5v5h-5zM780 609h5v5h-5zM765 614h5v5h-5zM720 619h5v5h-5zM730 619h10v5h-10z"/><path fill="#4d4d4d" d="M845 419h5v5h-5zM885 419h5v5h-5zM825 424h5v5h-5zM805 429h5v5h-5zM790 439h5v5h-5zM790 444h5v5h-5zM795 454h5v5h-5zM895 459h5v5h-5zM800 464h5v5h-5zM810 479h5v5h-5zM815 484h5v5h-5zM890 484h5v5h-5zM820 489h5v5h-5zM825 494h5v5h-5zM830 499h5v5h-5zM835 504h5v5h-5zM885 504h5v5h-5zM720 514h5v5h-5zM850 514h5v5h-5zM715 519h5v5h-5zM860 519h5v5h-5zM710 534h5v5h-5zM765 534h5v5h-5zM770 539h5v5h-5zM775 544h5v5h-5zM780 549h5v5h-5zM705 554h5v5h-5zM785 554h5v5h-5zM795 569h5v5h-5zM700 579h5v5h-5zM700 584h5v5h-5zM805 589h5v5h-5zM700 599h5v5h-5zM795 604h5v5h-5zM775 609h5v5h-5zM710 614h5v5h-5zM760 614h5v5h-5zM725 619h5v5h-5z"/><path fill="#515151" d="M850 419h5v5h-5zM890 424h5v5h-5zM795 434h5v5h-5zM895 434h5v5h-5zM895 454h5v5h-5zM805 469h5v5h-5zM890 479h5v5h-5zM845 509h5v5h-5zM730 514h5v5h-5zM740 519h5v5h-5zM865 519h5v5h-5zM875 519h5v5h-5zM750 524h5v5h-5zM710 539h5v5h-5zM705 559h5v5h-5zM790 564h5v5h-5zM800 579h5v5h-5zM700 589h5v5h-5zM700 594h5v5h-5zM805 594h5v5h-5zM705 609h5v5h-5zM755 614h5v5h-5z"/><path fill="#555555" d="M855 419h5v5h-5zM880 419h5v5h-5zM830 424h5v5h-5zM895 439h5v5h-5zM895 444h5v5h-5zM795 449h5v5h-5zM895 449h5v5h-5zM800 459h5v5h-5zM810 474h5v5h-5zM890 474h5v5h-5zM885 499h5v5h-5zM840 504h5v5h-5zM725 514h5v5h-5zM855 514h5v5h-5zM880 514h5v5h-5zM715 524h5v5h-5zM755 529h5v5h-5zM760 534h5v5h-5zM785 559h5v5h-5zM705 564h5v5h-5zM795 574h5v5h-5zM800 584h5v5h-5zM800 599h5v5h-5zM770 609h5v5h-5zM750 614h5v5h-5z"/><path fill="#595959" d="M860 419h5v5h-5zM835 424h5v5h-5zM810 429h5v5h-5zM795 439h5v5h-5zM795 444h5v5h-5zM805 464h5v5h-5zM815 479h5v5h-5zM820 484h5v5h-5zM825 489h5v5h-5zM830 494h5v5h-5zM835 499h5v5h-5zM850 509h5v5h-5zM860 514h5v5h-5zM720 519h5v5h-5zM735 519h5v5h-5zM870 519h5v5h-5zM745 524h5v5h-5zM765 539h5v5h-5zM710 544h5v5h-5zM770 544h5v5h-5zM775 549h5v5h-5zM780 554h5v5h-5zM705 569h5v5h-5zM790 569h5v5h-5zM790 604h5v5h-5zM765 609h5v5h-5zM715 614h5v5h-5zM745 614h5v5h-5z"/><path fill="#5d5d5d" d="M865 419h15v5h-15zM840 424h5v5h-5zM890 429h5v5h-5zM800 434h5v5h-5zM800 454h5v5h-5zM810 469h5v5h-5zM890 469h5v5h-5zM885 494h5v5h-5zM845 504h5v5h-5zM880 509h5v5h-5zM875 514h5v5h-5zM730 519h5v5h-5zM740 524h5v5h-5zM750 529h5v5h-5zM785 564h5v5h-5zM705 574h5v5h-5zM795 579h5v5h-5zM800 589h5v5h-5zM800 594h5v5h-5zM705 604h5v5h-5zM740 614h5v5h-5z"/><path fill="#616161" d="M845 424h5v5h-5zM885 424h5v5h-5zM815 429h5v5h-5zM800 449h5v5h-5zM805 459h5v5h-5zM890 464h5v5h-5zM815 474h5v5h-5zM840 499h5v5h-5zM855 509h5v5h-5zM865 514h5v5h-5zM725 519h5v5h-5zM715 529h5v5h-5zM755 534h5v5h-5zM760 539h5v5h-5zM710 549h5v5h-5zM780 559h5v5h-5zM790 574h5v5h-5zM705 579h5v5h-5zM795 599h5v5h-5zM785 604h5v5h-5zM710 609h5v5h-5zM760 609h5v5h-5zM720 614h5v5h-5zM730 614h10v5h-10z"/><path fill="#656565" d="M805 434h5v5h-5zM800 439h5v5h-5zM890 459h5v5h-5zM820 479h5v5h-5zM825 484h5v5h-5zM830 489h5v5h-5zM885 489h5v5h-5zM835 494h5v5h-5zM850 504h5v5h-5zM860 509h5v5h-5zM870 514h5v5h-5zM720 524h5v5h-5zM735 524h5v5h-5zM745 529h5v5h-5zM765 544h5v5h-5zM770 549h5v5h-5zM775 554h5v5h-5zM705 584h5v5h-5zM795 584h5v5h-5zM755 609h5v5h-5zM725 614h5v5h-5z"/><path fill="#696969" d="M850 424h5v5h-5zM820 429h5v5h-5zM890 434h5v5h-5zM800 444h5v5h-5zM805 454h5v5h-5zM890 454h5v5h-5zM810 464h5v5h-5zM815 469h5v5h-5zM885 484h5v5h-5zM845 499h5v5h-5zM880 504h5v5h-5zM730 524h5v5h-5zM750 534h5v5h-5zM710 554h5v5h-5zM785 569h5v5h-5zM790 579h5v5h-5zM705 589h5v5h-5zM795 589h5v5h-5zM795 594h5v5h-5zM705 599h5v5h-5zM780 604h5v5h-5zM750 609h5v5h-5z"/><path fill="#6d6d6d" d="M855 424h5v5h-5zM880 424h5v5h-5zM890 449h5v5h-5zM810 459h5v5h-5zM820 474h5v5h-5zM835 489h5v5h-5zM840 494h5v5h-5zM855 504h5v5h-5zM865 509h5v5h-5zM875 509h5v5h-5zM740 529h5v5h-5zM715 534h5v5h-5zM755 539h5v5h-5zM760 544h5v5h-5zM710 559h5v5h-5zM775 559h5v5h-5zM780 564h5v5h-5zM705 594h5v5h-5zM790 599h5v5h-5z"/><path fill="#717171" d="M860 424h5v5h-5zM825 429h5v5h-5zM885 429h5v5h-5zM810 434h5v5h-5zM805 439h5v5h-5zM890 439h5v5h-5zM890 444h5v5h-5zM805 449h5v5h-5zM825 479h5v5h-5zM885 479h5v5h-5zM830 484h5v5h-5zM850 499h5v5h-5zM870 509h5v5h-5zM725 524h5v5h-5zM720 529h5v5h-5zM735 529h5v5h-5zM745 534h5v5h-5zM765 549h5v5h-5zM770 554h5v5h-5zM710 564h5v5h-5zM785 574h5v5h-5zM790 584h5v5h-5zM710 604h5v5h-5zM715 609h5v5h-5zM745 609h5v5h-5z"/><path fill="#757575" d="M865 424h5v5h-5zM875 424h5v5h-5zM805 444h5v5h-5zM810 454h5v5h-5zM815 464h5v5h-5zM845 494h5v5h-5zM880 499h5v5h-5zM860 504h5v5h-5zM715 539h5v5h-5zM750 539h5v5h-5zM780 569h5v5h-5zM790 589h5v5h-5zM775 604h5v5h-5zM740 609h5v5h-5z"/><path fill="#797979" d="M870 424h5v5h-5zM830 429h5v5h-5zM820 469h5v5h-5zM825 474h5v5h-5zM885 474h5v5h-5zM830 479h5v5h-5zM835 484h5v5h-5zM840 489h5v5h-5zM855 499h5v5h-5zM865 504h5v5h-5zM875 504h5v5h-5zM730 529h5v5h-5zM740 534h5v5h-5zM755 544h5v5h-5zM760 549h5v5h-5zM765 554h5v5h-5zM770 559h5v5h-5zM775 564h5v5h-5zM710 569h5v5h-5zM785 579h5v5h-5zM790 594h5v5h-5zM785 599h5v5h-5zM735 609h5v5h-5z"/><path fill="#7d7d7d" d="M815 434h5v5h-5zM810 449h5v5h-5zM815 459h5v5h-5zM885 469h5v5h-5zM725 529h5v5h-5zM720 534h5v5h-5zM745 539h5v5h-5zM710 574h5v5h-5zM780 574h5v5h-5zM785 584h5v5h-5zM770 604h5v5h-5zM720 609h5v5h-5zM730 609h5v5h-5z"/><path fill="#828282" d="M835 429h5v5h-5zM810 439h5v5h-5zM810 444h5v5h-5zM820 464h5v5h-5zM845 489h5v5h-5zM850 494h5v5h-5zM880 494h5v5h-5zM860 499h5v5h-5zM870 504h5v5h-5zM735 534h5v5h-5zM715 544h5v5h-5zM750 544h5v5h-5zM775 569h5v5h-5zM710 599h5v5h-5zM725 609h5v5h-5z"/><path fill="#868686" d="M815 454h5v5h-5zM885 464h5v5h-5zM825 469h5v5h-5zM830 474h5v5h-5zM835 479h5v5h-5zM840 484h5v5h-5zM875 499h5v5h-5zM730 534h5v5h-5zM740 539h5v5h-5zM755 549h5v5h-5zM760 554h5v5h-5zM765 559h5v5h-5zM770 564h5v5h-5zM710 579h5v5h-5zM780 579h5v5h-5zM785 589h5v5h-5zM785 594h5v5h-5zM780 599h5v5h-5zM765 604h5v5h-5z"/><path fill="#8a8a8a" d="M840 429h5v5h-5zM820 434h5v5h-5zM885 434h5v5h-5zM815 449h5v5h-5zM820 459h5v5h-5zM885 459h5v5h-5zM880 489h5v5h-5zM855 494h5v5h-5zM865 499h5v5h-5zM725 534h5v5h-5zM720 539h5v5h-5zM745 544h5v5h-5zM715 549h5v5h-5zM775 574h5v5h-5zM710 584h5v5h-5z"/><path fill="#8e8e8e" d="M880 429h5v5h-5zM815 439h5v5h-5zM825 464h5v5h-5zM850 489h5v5h-5zM860 494h5v5h-5zM870 499h5v5h-5zM735 539h5v5h-5zM750 549h5v5h-5zM770 569h5v5h-5zM780 584h5v5h-5zM710 589h5v5h-5zM760 604h5v5h-5z"/><path fill="#929292" d="M845 429h5v5h-5zM815 444h5v5h-5zM820 454h5v5h-5zM885 454h5v5h-5zM830 469h5v5h-5zM835 474h5v5h-5zM840 479h5v5h-5zM845 484h5v5h-5zM875 494h5v5h-5zM740 544h5v5h-5zM715 554h5v5h-5zM755 554h5v5h-5zM760 559h5v5h-5zM765 564h5v5h-5zM775 579h5v5h-5zM780 589h5v5h-5zM710 594h5v5h-5zM780 594h5v5h-5zM775 599h5v5h-5zM715 604h5v5h-5z"/><path fill="#969696" d="M850 429h5v5h-5zM825 434h5v5h-5zM885 449h5v5h-5zM825 459h5v5h-5zM880 484h5v5h-5zM855 489h5v5h-5zM865 494h5v5h-5zM730 539h5v5h-5zM770 574h5v5h-5zM755 604h5v5h-5z"/><path fill="#9a9a9a" d="M820 439h5v5h-5zM885 439h5v5h-5zM885 444h5v5h-5zM820 449h5v5h-5zM830 464h5v5h-5zM850 484h5v5h-5zM870 494h5v5h-5zM725 539h5v5h-5zM720 544h5v5h-5zM735 544h5v5h-5zM745 549h5v5h-5zM750 554h5v5h-5zM765 569h5v5h-5zM775 584h5v5h-5z"/><path fill="#9e9e9e" d="M855 429h5v5h-5zM820 444h5v5h-5zM825 454h5v5h-5zM835 469h5v5h-5zM840 474h5v5h-5zM845 479h5v5h-5zM880 479h5v5h-5zM860 489h5v5h-5zM875 489h5v5h-5zM715 559h5v5h-5zM755 559h5v5h-5zM760 564h5v5h-5zM770 579h5v5h-5zM775 589h5v5h-5zM770 599h5v5h-5zM750 604h5v5h-5z"/><path fill="#a2a2a2" d="M830 434h5v5h-5zM830 459h5v5h-5zM855 484h5v5h-5zM865 489h5v5h-5zM730 544h5v5h-5zM740 549h5v5h-5zM765 574h5v5h-5zM775 594h5v5h-5z"/><path fill="#a6a6a6" d="M860 429h5v5h-5zM825 439h5v5h-5zM825 449h5v5h-5zM835 464h5v5h-5zM845 474h5v5h-5zM880 474h5v5h-5zM850 479h5v5h-5zM725 544h5v5h-5zM720 549h5v5h-5zM745 554h5v5h-5zM750 559h5v5h-5zM715 564h5v5h-5zM755 564h5v5h-5zM760 569h5v5h-5zM770 584h5v5h-5zM765 599h5v5h-5zM745 604h5v5h-5z"/><path fill="#aaaaaa" d="M865 429h5v5h-5zM875 429h5v5h-5zM835 434h5v5h-5zM825 444h5v5h-5zM830 454h5v5h-5zM840 469h5v5h-5zM860 484h5v5h-5zM875 484h5v5h-5zM870 489h5v5h-5zM735 549h5v5h-5z"/><path fill="#aeaeae" d="M870 429h5v5h-5zM855 479h5v5h-5zM730 549h5v5h-5zM720 554h5v5h-5zM740 554h5v5h-5zM715 569h5v5h-5zM765 579h5v5h-5zM770 589h5v5h-5zM770 594h5v5h-5zM740 604h5v5h-5z"/><path fill="#b2b2b2" d="M840 434h5v5h-5zM830 439h5v5h-5zM830 449h5v5h-5zM835 459h5v5h-5zM840 464h5v5h-5zM845 469h5v5h-5zM880 469h5v5h-5zM850 474h5v5h-5zM865 484h5v5h-5zM725 549h5v5h-5zM745 559h5v5h-5zM750 564h5v5h-5zM755 569h5v5h-5zM760 574h5v5h-5zM765 584h5v5h-5zM760 599h5v5h-5zM720 604h5v5h-5z"/><path fill="#b6b6b6" d="M830 444h5v5h-5zM835 454h5v5h-5zM860 479h5v5h-5zM875 479h5v5h-5zM870 484h5v5h-5zM735 554h5v5h-5zM715 574h5v5h-5zM760 579h5v5h-5zM735 604h5v5h-5z"/><path fill="#bababa" d="M880 434h5v5h-5zM840 459h5v5h-5zM845 464h5v5h-5zM880 464h5v5h-5zM850 469h5v5h-5zM855 474h5v5h-5zM730 554h5v5h-5zM720 559h5v5h-5zM740 559h5v5h-5zM745 564h5v5h-5zM750 569h5v5h-5zM755 574h5v5h-5zM765 589h5v5h-5zM765 594h5v5h-5zM715 599h5v5h-5zM755 599h5v5h-5zM730 604h5v5h-5z"/><path fill="#bebebe" d="M845 434h5v5h-5zM835 439h5v5h-5zM835 449h5v5h-5zM875 474h5v5h-5zM865 479h5v5h-5zM725 554h5v5h-5zM735 559h5v5h-5zM715 579h5v5h-5zM760 584h5v5h-5zM725 604h5v5h-5z"/><path fill="#c2c2c2" d="M835 444h5v5h-5zM840 454h5v5h-5zM880 459h5v5h-5zM855 469h5v5h-5zM860 474h5v5h-5zM870 479h5v5h-5zM720 564h5v5h-5zM740 564h5v5h-5zM755 579h5v5h-5zM760 589h5v5h-5zM750 599h5v5h-5z"/><path fill="#c6c6c6" d="M850 434h5v5h-5zM840 439h5v5h-5zM845 459h5v5h-5zM850 464h5v5h-5zM865 474h5v5h-5zM730 559h5v5h-5zM745 569h5v5h-5zM750 574h5v5h-5zM715 584h5v5h-5zM760 594h5v5h-5z"/><path fill="#cacaca" d="M840 449h5v5h-5zM880 454h5v5h-5zM860 469h5v5h-5zM875 469h5v5h-5zM870 474h5v5h-5zM725 559h5v5h-5zM735 564h5v5h-5zM755 584h5v5h-5zM715 589h5v5h-5z"/><path fill="#cecece" d="M855 434h5v5h-5zM840 444h5v5h-5zM845 454h5v5h-5zM850 459h5v5h-5zM855 464h5v5h-5zM720 569h5v5h-5zM740 569h5v5h-5zM745 574h5v5h-5zM750 579h5v5h-5zM755 589h5v5h-5zM715 594h5v5h-5zM755 594h5v5h-5zM745 599h5v5h-5z"/><path fill="#d2d2d2" d="M845 439h5v5h-5zM845 449h5v5h-5zM880 449h5v5h-5zM875 464h5v5h-5zM865 469h5v5h-5zM730 564h5v5h-5zM750 584h5v5h-5z"/><path fill="#d7d7d7" d="M880 439h5v5h-5zM880 444h5v5h-5zM850 454h5v5h-5zM855 459h5v5h-5zM860 464h5v5h-5zM870 469h5v5h-5zM725 564h5v5h-5zM735 569h5v5h-5zM720 574h5v5h-5zM740 574h5v5h-5zM745 579h5v5h-5zM740 599h5v5h-5z"/><path fill="#dbdbdb" d="M860 434h5v5h-5zM845 444h5v5h-5zM730 569h5v5h-5zM750 589h5v5h-5zM750 594h5v5h-5z"/><path fill="#dfdfdf" d="M865 434h5v5h-5zM850 439h5v5h-5zM850 449h5v5h-5zM855 454h5v5h-5zM860 459h5v5h-5zM875 459h5v5h-5zM865 464h5v5h-5zM725 569h5v5h-5zM735 574h5v5h-5zM720 579h5v5h-5zM740 579h5v5h-5zM745 584h5v5h-5zM735 599h5v5h-5z"/><path fill="#e3e3e3" d="M870 434h10v5h-10zM850 444h5v5h-5zM870 464h5v5h-5zM720 599h5v5h-5z"/><path fill="#e7e7e7" d="M855 439h5v5h-5zM855 449h5v5h-5zM875 454h5v5h-5zM865 459h5v5h-5zM730 574h5v5h-5zM740 584h5v5h-5zM745 589h5v5h-5zM745 594h5v5h-5zM730 599h5v5h-5z"/><path fill="#ebebeb" d="M860 454h5v5h-5zM725 574h5v5h-5zM735 579h5v5h-5zM720 584h5v5h-5zM725 599h5v5h-5z"/><path fill="#efefef" d="M855 444h5v5h-5zM875 449h5v5h-5zM870 459h5v5h-5zM730 579h5v5h-5zM720 589h5v5h-5zM740 589h5v5h-5zM740 594h5v5h-5z"/><path fill="#f3f3f3" d="M860 439h5v5h-5zM860 449h5v5h-5zM865 454h5v5h-5zM735 584h5v5h-5zM720 594h5v5h-5z"/><path fill="#f7f7f7" d="M875 439h5v5h-5zM875 444h5v5h-5zM870 454h5v5h-5zM725 579h5v5h-5z"/><path fill="#fbfbfb" d="M865 439h5v5h-5zM860 444h5v5h-5zM865 449h5v5h-5zM730 584h5v5h-5zM735 589h5v5h-5zM735 594h5v5h-5z"/><path fill="#ffffff" d="M870 439h5v5h-5zM865 444h10v5h-10zM870 449h5v5h-5zM725 584h5v5h-5zM725 589h10v5h-10zM725 594h10v5h-10z"/></g></g>
<g clip-path="url(#clipE)"><g filter="url(#hotf)"><rect x="645" y="668.2" width="310.6" height="310.3" fill="#000"/><path fill="#040404" d="M670 683.2h30v5h-30zM775 683.2h40v5h-40zM665 688.2h25v5h-25zM790 688.2h35v5h-35zM660 693.2h25v5h-25zM800 693.2h30v5h-30zM660 698.2h20v5h-20zM810 698.2h20v5h-20zM660 703.2h15v5h-15zM815 703.2h20v5h-20zM660 708.2h10v5h-10zM825 708.2h15v5h-15zM660 713.2h5v5h-5zM830 713.2h15v5h-15zM660 718.2h5v5h-5zM830 718.2h15v5h-15zM660 723.2h5v5h-5zM835 723.2h15v5h-15zM840 728.2h10v5h-10zM845 733.2h10v5h-10zM845 738.2h10v5h-10zM850 743.2h5v5h-5zM845 748.2h10v5h-10zM845 753.2h5v5h-5zM845 758.2h5v5h-5zM840 763.2h5v5h-5zM840 768.2h5v5h-5zM835 773.2h5v5h-5zM865 773.2h25v5h-25zM835 778.2h5v5h-5zM850 778.2h15v5h-15zM885 778.2h15v5h-15zM660 783.2h5v5h-5zM830 783.2h5v5h-5zM840 783.2h10v5h-10zM890 783.2h20v5h-20zM660 788.2h5v5h-5zM825 788.2h20v5h-20zM895 788.2h20v5h-20zM660 793.2h5v5h-5zM825 793.2h10v5h-10zM905 793.2h15v5h-15zM660 798.2h5v5h-5zM910 798.2h20v5h-20zM660 803.2h5v5h-5zM915 803.2h15v5h-15zM660 808.2h10v5h-10zM915 808.2h20v5h-20zM660 813.2h10v5h-10zM920 813.2h20v5h-20zM660 818.2h15v5h-15zM920 818.2h20v5h-20zM660 823.2h15v5h-15zM925 823.2h15v5h-15zM660 828.2h20v5h-20zM930 828.2h10v5h-10zM665 833.2h20v5h-20zM930 833.2h15v5h-15zM665 838.2h20v5h-20zM930 838.2h15v5h-15zM670 843.2h20v5h-20zM935 843.2h10v5h-10zM680 848.2h15v5h-15zM765 848.2h10v5h-10zM935 848.2h15v5h-15zM685 853.2h20v5h-20zM755 853.2h20v5h-20zM935 853.2h15v5h-15zM690 858.2h20v5h-20zM750 858.2h10v5h-10zM765 858.2h5v5h-5zM935 858.2h15v5h-15zM695 863.2h20v5h-20zM735 863.2h15v5h-15zM760 863.2h5v5h-5zM935 863.2h15v5h-15zM705 868.2h35v5h-35zM760 868.2h5v5h-5zM940 868.2h10v5h-10zM755 873.2h5v5h-5zM940 873.2h10v5h-10zM755 878.2h5v5h-5zM940 878.2h10v5h-10zM750 883.2h5v5h-5zM940 883.2h10v5h-10zM750 888.2h5v5h-5zM940 888.2h10v5h-10zM745 893.2h5v5h-5zM940 893.2h10v5h-10zM745 898.2h5v5h-5zM940 898.2h10v5h-10zM745 903.2h5v5h-5zM940 903.2h10v5h-10zM745 908.2h10v5h-10zM940 908.2h10v5h-10zM750 913.2h10v5h-10zM940 913.2h10v5h-10zM750 918.2h15v5h-15zM935 918.2h15v5h-15zM755 923.2h10v5h-10zM935 923.2h15v5h-15zM755 928.2h15v5h-15zM930 928.2h20v5h-20zM760 933.2h15v5h-15zM930 933.2h20v5h-20zM765 938.2h15v5h-15zM925 938.2h20v5h-20zM770 943.2h20v5h-20zM920 943.2h25v5h-25zM770 948.2h30v5h-30zM915 948.2h25v5h-25zM775 953.2h30v5h-30zM910 953.2h25v5h-25zM780 958.2h40v5h-40zM900 958.2h30v5h-30zM795 963.2h65v5h-65zM880 963.2h45v5h-45zM815 968.2h105v5h-105z"/><path fill="#080808" d="M700 683.2h75v5h-75zM690 688.2h15v5h-15zM760 688.2h30v5h-30zM685 693.2h10v5h-10zM775 693.2h25v5h-25zM680 698.2h5v5h-5zM790 698.2h20v5h-20zM675 703.2h5v5h-5zM805 703.2h10v5h-10zM670 708.2h10v5h-10zM815 708.2h10v5h-10zM665 713.2h10v5h-10zM820 713.2h10v5h-10zM665 718.2h5v5h-5zM825 718.2h5v5h-5zM665 723.2h5v5h-5zM830 723.2h5v5h-5zM660 728.2h10v5h-10zM835 728.2h5v5h-5zM660 733.2h5v5h-5zM835 733.2h10v5h-10zM660 738.2h5v5h-5zM840 738.2h5v5h-5zM660 743.2h5v5h-5zM845 743.2h5v5h-5zM660 748.2h5v5h-5zM840 748.2h5v5h-5zM660 753.2h5v5h-5zM840 753.2h5v5h-5zM660 758.2h5v5h-5zM840 758.2h5v5h-5zM660 763.2h5v5h-5zM835 763.2h5v5h-5zM660 768.2h10v5h-10zM835 768.2h5v5h-5zM660 773.2h10v5h-10zM830 773.2h5v5h-5zM660 778.2h10v5h-10zM830 778.2h5v5h-5zM865 778.2h20v5h-20zM665 783.2h5v5h-5zM825 783.2h5v5h-5zM850 783.2h15v5h-15zM880 783.2h10v5h-10zM665 788.2h5v5h-5zM820 788.2h5v5h-5zM845 788.2h10v5h-10zM885 788.2h10v5h-10zM665 793.2h10v5h-10zM820 793.2h5v5h-5zM835 793.2h10v5h-10zM895 793.2h10v5h-10zM665 798.2h10v5h-10zM815 798.2h20v5h-20zM900 798.2h10v5h-10zM665 803.2h15v5h-15zM810 803.2h20v5h-20zM905 803.2h10v5h-10zM670 808.2h10v5h-10zM815 808.2h5v5h-5zM910 808.2h5v5h-5zM670 813.2h10v5h-10zM910 813.2h10v5h-10zM675 818.2h10v5h-10zM915 818.2h5v5h-5zM675 823.2h10v5h-10zM915 823.2h10v5h-10zM680 828.2h5v5h-5zM915 828.2h15v5h-15zM685 833.2h5v5h-5zM780 833.2h5v5h-5zM920 833.2h10v5h-10zM685 838.2h10v5h-10zM770 838.2h20v5h-20zM920 838.2h10v5h-10zM690 843.2h10v5h-10zM765 843.2h20v5h-20zM925 843.2h10v5h-10zM695 848.2h10v5h-10zM755 848.2h10v5h-10zM775 848.2h5v5h-5zM925 848.2h10v5h-10zM705 853.2h5v5h-5zM745 853.2h10v5h-10zM775 853.2h5v5h-5zM925 853.2h10v5h-10zM710 858.2h5v5h-5zM735 858.2h15v5h-15zM770 858.2h5v5h-5zM930 858.2h5v5h-5zM715 863.2h20v5h-20zM765 863.2h5v5h-5zM930 863.2h5v5h-5zM765 868.2h5v5h-5zM930 868.2h10v5h-10zM760 873.2h5v5h-5zM930 873.2h10v5h-10zM760 878.2h5v5h-5zM930 878.2h10v5h-10zM755 883.2h5v5h-5zM935 883.2h5v5h-5zM755 888.2h5v5h-5zM935 888.2h5v5h-5zM750 893.2h5v5h-5zM935 893.2h5v5h-5zM750 898.2h5v5h-5zM935 898.2h5v5h-5zM750 903.2h10v5h-10zM935 903.2h5v5h-5zM755 908.2h5v5h-5zM935 908.2h5v5h-5zM760 913.2h5v5h-5zM930 913.2h10v5h-10zM765 918.2h5v5h-5zM930 918.2h5v5h-5zM765 923.2h10v5h-10zM930 923.2h5v5h-5zM770 928.2h10v5h-10zM925 928.2h5v5h-5zM775 933.2h10v5h-10zM920 933.2h10v5h-10zM780 938.2h15v5h-15zM920 938.2h5v5h-5zM790 943.2h20v5h-20zM915 943.2h5v5h-5zM800 948.2h20v5h-20zM905 948.2h10v5h-10zM805 953.2h35v5h-35zM895 953.2h15v5h-15zM820 958.2h80v5h-80zM860 963.2h20v5h-20z"/><path fill="#0c0c0c" d="M705 688.2h55v5h-55zM695 693.2h10v5h-10zM750 693.2h25v5h-25zM685 698.2h10v5h-10zM765 698.2h25v5h-25zM680 703.2h10v5h-10zM790 703.2h15v5h-15zM680 708.2h5v5h-5zM805 708.2h10v5h-10zM675 713.2h5v5h-5zM810 713.2h10v5h-10zM670 718.2h10v5h-10zM820 718.2h5v5h-5zM670 723.2h5v5h-5zM825 723.2h5v5h-5zM670 728.2h5v5h-5zM830 728.2h5v5h-5zM665 733.2h5v5h-5zM665 738.2h5v5h-5zM835 738.2h5v5h-5zM665 743.2h5v5h-5zM835 743.2h10v5h-10zM665 748.2h5v5h-5zM835 748.2h5v5h-5zM665 753.2h5v5h-5zM835 753.2h5v5h-5zM665 758.2h10v5h-10zM835 758.2h5v5h-5zM665 763.2h10v5h-10zM830 763.2h5v5h-5zM670 768.2h5v5h-5zM830 768.2h5v5h-5zM670 773.2h5v5h-5zM825 773.2h5v5h-5zM670 778.2h5v5h-5zM820 778.2h10v5h-10zM670 783.2h10v5h-10zM820 783.2h5v5h-5zM865 783.2h15v5h-15zM670 788.2h10v5h-10zM815 788.2h5v5h-5zM855 788.2h10v5h-10zM880 788.2h5v5h-5zM675 793.2h5v5h-5zM810 793.2h10v5h-10zM845 793.2h10v5h-10zM890 793.2h5v5h-5zM675 798.2h10v5h-10zM810 798.2h5v5h-5zM835 798.2h10v5h-10zM895 798.2h5v5h-5zM680 803.2h5v5h-5zM805 803.2h5v5h-5zM830 803.2h5v5h-5zM900 803.2h5v5h-5zM680 808.2h5v5h-5zM800 808.2h15v5h-15zM820 808.2h10v5h-10zM900 808.2h10v5h-10zM680 813.2h5v5h-5zM795 813.2h30v5h-30zM905 813.2h5v5h-5zM685 818.2h5v5h-5zM790 818.2h25v5h-25zM910 818.2h5v5h-5zM685 823.2h5v5h-5zM785 823.2h25v5h-25zM910 823.2h5v5h-5zM685 828.2h10v5h-10zM775 828.2h30v5h-30zM690 833.2h10v5h-10zM770 833.2h10v5h-10zM785 833.2h15v5h-15zM915 833.2h5v5h-5zM695 838.2h5v5h-5zM765 838.2h5v5h-5zM790 838.2h5v5h-5zM915 838.2h5v5h-5zM700 843.2h5v5h-5zM755 843.2h10v5h-10zM785 843.2h5v5h-5zM915 843.2h10v5h-10zM705 848.2h5v5h-5zM745 848.2h10v5h-10zM780 848.2h10v5h-10zM920 848.2h5v5h-5zM710 853.2h5v5h-5zM735 853.2h10v5h-10zM780 853.2h5v5h-5zM920 853.2h5v5h-5zM715 858.2h20v5h-20zM775 858.2h5v5h-5zM920 858.2h10v5h-10zM770 863.2h5v5h-5zM920 863.2h10v5h-10zM770 868.2h5v5h-5zM925 868.2h5v5h-5zM765 873.2h5v5h-5zM925 873.2h5v5h-5zM765 878.2h5v5h-5zM925 878.2h5v5h-5zM760 883.2h5v5h-5zM925 883.2h10v5h-10zM760 888.2h5v5h-5zM930 888.2h5v5h-5zM755 893.2h10v5h-10zM930 893.2h5v5h-5zM755 898.2h5v5h-5zM930 898.2h5v5h-5zM760 903.2h5v5h-5zM930 903.2h5v5h-5zM760 908.2h5v5h-5zM925 908.2h10v5h-10zM765 913.2h5v5h-5zM925 913.2h5v5h-5zM770 918.2h5v5h-5zM925 918.2h5v5h-5zM775 923.2h5v5h-5zM920 923.2h10v5h-10zM780 928.2h5v5h-5zM920 928.2h5v5h-5zM785 933.2h10v5h-10zM915 933.2h5v5h-5zM795 938.2h15v5h-15zM910 938.2h10v5h-10zM810 943.2h20v5h-20zM905 943.2h10v5h-10zM820 948.2h30v5h-30zM895 948.2h10v5h-10zM840 953.2h55v5h-55z"/><path fill="#101010" d="M705 693.2h45v5h-45zM695 698.2h15v5h-15zM745 698.2h20v5h-20zM690 703.2h10v5h-10zM775 703.2h15v5h-15zM685 708.2h10v5h-10zM795 708.2h10v5h-10zM680 713.2h10v5h-10zM805 713.2h5v5h-5zM680 718.2h5v5h-5zM810 718.2h10v5h-10zM675 723.2h5v5h-5zM820 723.2h5v5h-5zM675 728.2h5v5h-5zM825 728.2h5v5h-5zM670 733.2h10v5h-10zM830 733.2h5v5h-5zM670 738.2h5v5h-5zM670 743.2h5v5h-5zM670 748.2h5v5h-5zM670 753.2h10v5h-10zM830 753.2h5v5h-5zM675 758.2h5v5h-5zM830 758.2h5v5h-5zM675 763.2h5v5h-5zM675 768.2h5v5h-5zM825 768.2h5v5h-5zM675 773.2h5v5h-5zM820 773.2h5v5h-5zM675 778.2h5v5h-5zM680 783.2h5v5h-5zM815 783.2h5v5h-5zM680 788.2h5v5h-5zM810 788.2h5v5h-5zM865 788.2h15v5h-15zM680 793.2h5v5h-5zM855 793.2h5v5h-5zM885 793.2h5v5h-5zM805 798.2h5v5h-5zM845 798.2h5v5h-5zM890 798.2h5v5h-5zM800 803.2h5v5h-5zM835 803.2h5v5h-5zM895 803.2h5v5h-5zM685 808.2h5v5h-5zM795 808.2h5v5h-5zM830 808.2h5v5h-5zM685 813.2h5v5h-5zM790 813.2h5v5h-5zM900 813.2h5v5h-5zM785 818.2h5v5h-5zM815 818.2h5v5h-5zM905 818.2h5v5h-5zM690 823.2h5v5h-5zM780 823.2h5v5h-5zM810 823.2h5v5h-5zM905 823.2h5v5h-5zM695 828.2h5v5h-5zM805 828.2h5v5h-5zM910 828.2h5v5h-5zM765 833.2h5v5h-5zM800 833.2h5v5h-5zM910 833.2h5v5h-5zM700 838.2h5v5h-5zM760 838.2h5v5h-5zM795 838.2h5v5h-5zM705 843.2h5v5h-5zM750 843.2h5v5h-5zM790 843.2h5v5h-5zM710 848.2h5v5h-5zM740 848.2h5v5h-5zM915 848.2h5v5h-5zM715 853.2h20v5h-20zM915 853.2h5v5h-5zM780 858.2h5v5h-5zM915 858.2h5v5h-5zM775 863.2h5v5h-5zM915 863.2h5v5h-5zM915 868.2h10v5h-10zM770 873.2h5v5h-5zM920 873.2h5v5h-5zM920 878.2h5v5h-5zM765 883.2h5v5h-5zM920 883.2h5v5h-5zM765 888.2h5v5h-5zM920 888.2h10v5h-10zM920 893.2h10v5h-10zM760 898.2h5v5h-5zM925 898.2h5v5h-5zM920 903.2h10v5h-10zM765 908.2h5v5h-5zM920 908.2h5v5h-5zM770 913.2h5v5h-5zM920 913.2h5v5h-5zM775 918.2h5v5h-5zM920 918.2h5v5h-5zM780 923.2h5v5h-5zM915 923.2h5v5h-5zM785 928.2h10v5h-10zM910 928.2h10v5h-10zM795 933.2h10v5h-10zM905 933.2h10v5h-10zM810 938.2h10v5h-10zM900 938.2h10v5h-10zM830 943.2h25v5h-25zM890 943.2h15v5h-15zM850 948.2h45v5h-45z"/><path fill="#141414" d="M710 698.2h35v5h-35zM700 703.2h10v5h-10zM760 703.2h15v5h-15zM695 708.2h5v5h-5zM785 708.2h10v5h-10zM690 713.2h5v5h-5zM795 713.2h10v5h-10zM685 718.2h5v5h-5zM805 718.2h5v5h-5zM680 723.2h10v5h-10zM815 723.2h5v5h-5zM680 728.2h5v5h-5zM820 728.2h5v5h-5zM680 733.2h5v5h-5zM825 733.2h5v5h-5zM675 738.2h5v5h-5zM830 738.2h5v5h-5zM675 743.2h5v5h-5zM830 743.2h5v5h-5zM675 748.2h5v5h-5zM830 748.2h5v5h-5zM680 758.2h5v5h-5zM680 763.2h5v5h-5zM825 763.2h5v5h-5zM680 768.2h5v5h-5zM680 773.2h5v5h-5zM680 778.2h5v5h-5zM815 778.2h5v5h-5zM805 793.2h5v5h-5zM860 793.2h5v5h-5zM880 793.2h5v5h-5zM685 798.2h5v5h-5zM800 798.2h5v5h-5zM850 798.2h5v5h-5zM885 798.2h5v5h-5zM685 803.2h5v5h-5zM840 803.2h5v5h-5zM890 803.2h5v5h-5zM895 808.2h5v5h-5zM690 813.2h5v5h-5zM825 813.2h5v5h-5zM690 818.2h5v5h-5zM780 818.2h5v5h-5zM820 818.2h5v5h-5zM900 818.2h5v5h-5zM695 823.2h5v5h-5zM775 823.2h5v5h-5zM815 823.2h5v5h-5zM770 828.2h5v5h-5zM905 828.2h5v5h-5zM700 833.2h5v5h-5zM705 838.2h5v5h-5zM755 838.2h5v5h-5zM910 838.2h5v5h-5zM710 843.2h5v5h-5zM745 843.2h5v5h-5zM795 843.2h5v5h-5zM910 843.2h5v5h-5zM735 848.2h5v5h-5zM790 848.2h5v5h-5zM910 848.2h5v5h-5zM785 853.2h5v5h-5zM780 863.2h5v5h-5zM775 868.2h5v5h-5zM915 873.2h5v5h-5zM770 878.2h5v5h-5zM915 878.2h5v5h-5zM915 883.2h5v5h-5zM915 888.2h5v5h-5zM765 893.2h5v5h-5zM920 898.2h5v5h-5zM765 903.2h5v5h-5zM915 903.2h5v5h-5zM915 908.2h5v5h-5zM775 913.2h5v5h-5zM915 913.2h5v5h-5zM780 918.2h5v5h-5zM910 918.2h10v5h-10zM785 923.2h10v5h-10zM910 923.2h5v5h-5zM795 928.2h5v5h-5zM905 928.2h5v5h-5zM805 933.2h10v5h-10zM900 933.2h5v5h-5zM820 938.2h15v5h-15zM890 938.2h10v5h-10zM855 943.2h35v5h-35z"/><path fill="#181818" d="M710 703.2h5v5h-5zM745 703.2h15v5h-15zM700 708.2h5v5h-5zM775 708.2h10v5h-10zM790 713.2h5v5h-5zM690 718.2h5v5h-5zM800 718.2h5v5h-5zM810 723.2h5v5h-5zM815 728.2h5v5h-5zM680 738.2h5v5h-5zM680 743.2h5v5h-5zM680 748.2h5v5h-5zM680 753.2h5v5h-5zM825 758.2h5v5h-5zM820 768.2h5v5h-5zM810 783.2h5v5h-5zM685 788.2h5v5h-5zM685 793.2h5v5h-5zM865 793.2h5v5h-5zM875 793.2h5v5h-5zM855 798.2h5v5h-5zM690 803.2h5v5h-5zM795 803.2h5v5h-5zM845 803.2h5v5h-5zM885 803.2h5v5h-5zM690 808.2h5v5h-5zM790 808.2h5v5h-5zM835 808.2h5v5h-5zM890 808.2h5v5h-5zM785 813.2h5v5h-5zM830 813.2h5v5h-5zM895 813.2h5v5h-5zM695 818.2h5v5h-5zM900 823.2h5v5h-5zM700 828.2h5v5h-5zM765 828.2h5v5h-5zM810 828.2h5v5h-5zM900 828.2h5v5h-5zM705 833.2h5v5h-5zM760 833.2h5v5h-5zM805 833.2h5v5h-5zM905 833.2h5v5h-5zM750 838.2h5v5h-5zM800 838.2h5v5h-5zM905 838.2h5v5h-5zM740 843.2h5v5h-5zM715 848.2h10v5h-10zM730 848.2h5v5h-5zM910 853.2h5v5h-5zM785 858.2h5v5h-5zM910 858.2h5v5h-5zM775 873.2h5v5h-5zM770 883.2h5v5h-5zM915 893.2h5v5h-5zM765 898.2h5v5h-5zM915 898.2h5v5h-5zM770 908.2h5v5h-5zM780 913.2h5v5h-5zM785 918.2h5v5h-5zM795 923.2h5v5h-5zM905 923.2h5v5h-5zM800 928.2h10v5h-10zM900 928.2h5v5h-5zM815 933.2h5v5h-5zM895 933.2h5v5h-5zM835 938.2h15v5h-15zM885 938.2h5v5h-5z"/><path fill="#1c1c1c" d="M715 703.2h30v5h-30zM765 708.2h10v5h-10zM695 713.2h5v5h-5zM780 713.2h10v5h-10zM795 718.2h5v5h-5zM805 723.2h5v5h-5zM685 728.2h5v5h-5zM820 733.2h5v5h-5zM825 738.2h5v5h-5zM825 753.2h5v5h-5zM820 763.2h5v5h-5zM685 773.2h5v5h-5zM815 773.2h5v5h-5zM685 778.2h5v5h-5zM685 783.2h5v5h-5zM805 788.2h5v5h-5zM800 793.2h5v5h-5zM870 793.2h5v5h-5zM690 798.2h5v5h-5zM795 798.2h5v5h-5zM860 798.2h5v5h-5zM880 798.2h5v5h-5zM850 803.2h5v5h-5zM695 808.2h5v5h-5zM840 808.2h5v5h-5zM695 813.2h5v5h-5zM890 813.2h5v5h-5zM775 818.2h5v5h-5zM825 818.2h5v5h-5zM895 818.2h5v5h-5zM700 823.2h5v5h-5zM770 823.2h5v5h-5zM820 823.2h5v5h-5zM755 833.2h5v5h-5zM900 833.2h5v5h-5zM710 838.2h5v5h-5zM715 843.2h5v5h-5zM735 843.2h5v5h-5zM800 843.2h5v5h-5zM905 843.2h5v5h-5zM725 848.2h5v5h-5zM795 848.2h5v5h-5zM905 848.2h5v5h-5zM790 853.2h5v5h-5zM910 863.2h5v5h-5zM780 868.2h5v5h-5zM910 868.2h5v5h-5zM910 873.2h5v5h-5zM775 878.2h5v5h-5zM770 888.2h5v5h-5zM770 903.2h5v5h-5zM775 908.2h5v5h-5zM910 913.2h5v5h-5zM790 918.2h5v5h-5zM800 923.2h5v5h-5zM810 928.2h5v5h-5zM820 933.2h15v5h-15zM850 938.2h20v5h-20zM875 938.2h10v5h-10z"/><path fill="#202020" d="M705 708.2h5v5h-5zM755 708.2h10v5h-10zM775 713.2h5v5h-5zM790 718.2h5v5h-5zM690 723.2h5v5h-5zM800 723.2h5v5h-5zM810 728.2h5v5h-5zM685 733.2h5v5h-5zM825 743.2h5v5h-5zM825 748.2h5v5h-5zM685 758.2h5v5h-5zM820 758.2h5v5h-5zM685 763.2h5v5h-5zM685 768.2h5v5h-5zM815 768.2h5v5h-5zM810 778.2h5v5h-5zM805 783.2h5v5h-5zM690 788.2h5v5h-5zM690 793.2h5v5h-5zM865 798.2h5v5h-5zM875 798.2h5v5h-5zM695 803.2h5v5h-5zM790 803.2h5v5h-5zM785 808.2h5v5h-5zM845 808.2h5v5h-5zM885 808.2h5v5h-5zM780 813.2h5v5h-5zM835 813.2h5v5h-5zM700 818.2h5v5h-5zM895 823.2h5v5h-5zM705 828.2h5v5h-5zM760 828.2h5v5h-5zM815 828.2h5v5h-5zM810 833.2h5v5h-5zM745 838.2h5v5h-5zM805 838.2h5v5h-5zM900 838.2h5v5h-5zM730 843.2h5v5h-5zM905 853.2h5v5h-5zM790 858.2h5v5h-5zM785 863.2h5v5h-5zM780 873.2h5v5h-5zM910 878.2h5v5h-5zM775 883.2h5v5h-5zM910 883.2h5v5h-5zM910 888.2h5v5h-5zM770 893.2h5v5h-5zM770 898.2h5v5h-5zM910 903.2h5v5h-5zM910 908.2h5v5h-5zM785 913.2h5v5h-5zM905 918.2h5v5h-5zM805 923.2h5v5h-5zM815 928.2h10v5h-10zM835 933.2h10v5h-10zM890 933.2h5v5h-5zM870 938.2h5v5h-5z"/><path fill="#242424" d="M710 708.2h5v5h-5zM740 708.2h15v5h-15zM700 713.2h5v5h-5zM765 713.2h10v5h-10zM695 718.2h5v5h-5zM785 718.2h5v5h-5zM805 728.2h5v5h-5zM815 733.2h5v5h-5zM685 738.2h5v5h-5zM820 738.2h5v5h-5zM685 743.2h5v5h-5zM685 748.2h5v5h-5zM685 753.2h5v5h-5zM820 753.2h5v5h-5zM815 763.2h5v5h-5zM810 773.2h5v5h-5zM690 778.2h5v5h-5zM690 783.2h5v5h-5zM800 788.2h5v5h-5zM795 793.2h5v5h-5zM695 798.2h5v5h-5zM790 798.2h5v5h-5zM870 798.2h5v5h-5zM855 803.2h5v5h-5zM880 803.2h5v5h-5zM700 813.2h5v5h-5zM775 813.2h5v5h-5zM840 813.2h5v5h-5zM770 818.2h5v5h-5zM830 818.2h5v5h-5zM890 818.2h5v5h-5zM705 823.2h5v5h-5zM765 823.2h5v5h-5zM825 823.2h5v5h-5zM755 828.2h5v5h-5zM820 828.2h5v5h-5zM895 828.2h5v5h-5zM710 833.2h5v5h-5zM750 833.2h5v5h-5zM715 838.2h5v5h-5zM740 838.2h5v5h-5zM720 843.2h10v5h-10zM805 843.2h5v5h-5zM900 843.2h5v5h-5zM800 848.2h5v5h-5zM900 848.2h5v5h-5zM795 853.2h5v5h-5zM905 858.2h5v5h-5zM905 863.2h5v5h-5zM785 868.2h5v5h-5zM905 868.2h5v5h-5zM780 878.2h5v5h-5zM775 888.2h5v5h-5zM910 893.2h5v5h-5zM910 898.2h5v5h-5zM775 903.2h5v5h-5zM780 908.2h5v5h-5zM790 913.2h5v5h-5zM795 918.2h5v5h-5zM810 923.2h5v5h-5zM900 923.2h5v5h-5zM825 928.2h5v5h-5zM895 928.2h5v5h-5zM845 933.2h10v5h-10zM885 933.2h5v5h-5z"/><path fill="#282828" d="M715 708.2h25v5h-25zM705 713.2h5v5h-5zM760 713.2h5v5h-5zM780 718.2h5v5h-5zM795 723.2h5v5h-5zM690 728.2h5v5h-5zM820 743.2h5v5h-5zM820 748.2h5v5h-5zM815 758.2h5v5h-5zM690 768.2h5v5h-5zM810 768.2h5v5h-5zM690 773.2h5v5h-5zM805 778.2h5v5h-5zM800 783.2h5v5h-5zM695 788.2h5v5h-5zM695 793.2h5v5h-5zM785 803.2h5v5h-5zM860 803.2h5v5h-5zM700 808.2h5v5h-5zM780 808.2h5v5h-5zM850 808.2h5v5h-5zM885 813.2h5v5h-5zM705 818.2h5v5h-5zM835 818.2h5v5h-5zM760 823.2h5v5h-5zM890 823.2h5v5h-5zM710 828.2h5v5h-5zM745 833.2h5v5h-5zM815 833.2h5v5h-5zM895 833.2h5v5h-5zM735 838.2h5v5h-5zM810 838.2h5v5h-5zM900 853.2h5v5h-5zM795 858.2h5v5h-5zM790 863.2h5v5h-5zM785 873.2h5v5h-5zM905 873.2h5v5h-5zM905 878.2h5v5h-5zM780 883.2h5v5h-5zM775 893.2h5v5h-5zM775 898.2h5v5h-5zM905 913.2h5v5h-5zM800 918.2h5v5h-5zM815 923.2h5v5h-5zM830 928.2h10v5h-10zM890 928.2h5v5h-5zM855 933.2h15v5h-15zM875 933.2h10v5h-10z"/><path fill="#2d2d2d" d="M750 713.2h10v5h-10zM700 718.2h5v5h-5zM770 718.2h10v5h-10zM695 723.2h5v5h-5zM790 723.2h5v5h-5zM800 728.2h5v5h-5zM690 733.2h5v5h-5zM810 733.2h5v5h-5zM815 753.2h5v5h-5zM690 758.2h5v5h-5zM690 763.2h5v5h-5zM805 773.2h5v5h-5zM695 783.2h5v5h-5zM795 788.2h5v5h-5zM790 793.2h5v5h-5zM785 798.2h5v5h-5zM700 803.2h5v5h-5zM865 803.2h15v5h-15zM775 808.2h5v5h-5zM855 808.2h5v5h-5zM880 808.2h5v5h-5zM770 813.2h5v5h-5zM845 813.2h5v5h-5zM765 818.2h5v5h-5zM830 823.2h5v5h-5zM750 828.2h5v5h-5zM825 828.2h5v5h-5zM890 828.2h5v5h-5zM740 833.2h5v5h-5zM820 833.2h5v5h-5zM720 838.2h5v5h-5zM730 838.2h5v5h-5zM895 838.2h5v5h-5zM805 848.2h5v5h-5zM800 853.2h5v5h-5zM900 858.2h5v5h-5zM900 863.2h5v5h-5zM790 868.2h5v5h-5zM905 883.2h5v5h-5zM905 888.2h5v5h-5zM905 903.2h5v5h-5zM905 908.2h5v5h-5zM795 913.2h5v5h-5zM805 918.2h5v5h-5zM900 918.2h5v5h-5zM820 923.2h5v5h-5zM895 923.2h5v5h-5zM840 928.2h10v5h-10zM870 933.2h5v5h-5z"/><path fill="#313131" d="M710 713.2h5v5h-5zM740 713.2h10v5h-10zM765 718.2h5v5h-5zM785 723.2h5v5h-5zM695 728.2h5v5h-5zM795 728.2h5v5h-5zM690 738.2h5v5h-5zM815 738.2h5v5h-5zM690 743.2h5v5h-5zM690 748.2h5v5h-5zM690 753.2h5v5h-5zM810 763.2h5v5h-5zM695 773.2h5v5h-5zM695 778.2h5v5h-5zM800 778.2h5v5h-5zM700 798.2h5v5h-5zM780 803.2h5v5h-5zM860 808.2h5v5h-5zM705 813.2h5v5h-5zM850 813.2h5v5h-5zM840 818.2h5v5h-5zM885 818.2h5v5h-5zM710 823.2h5v5h-5zM755 823.2h5v5h-5zM745 828.2h5v5h-5zM715 833.2h5v5h-5zM735 833.2h5v5h-5zM725 838.2h5v5h-5zM815 838.2h5v5h-5zM810 843.2h5v5h-5zM895 843.2h5v5h-5zM795 863.2h5v5h-5zM900 868.2h5v5h-5zM785 878.2h5v5h-5zM780 888.2h5v5h-5zM905 893.2h5v5h-5zM905 898.2h5v5h-5zM780 903.2h5v5h-5zM785 908.2h5v5h-5zM800 913.2h5v5h-5zM900 913.2h5v5h-5zM810 918.2h5v5h-5zM825 923.2h5v5h-5zM850 928.2h5v5h-5zM885 928.2h5v5h-5z"/><path fill="#353535" d="M715 713.2h25v5h-25zM705 718.2h5v5h-5zM760 718.2h5v5h-5zM700 723.2h5v5h-5zM780 723.2h5v5h-5zM805 733.2h5v5h-5zM815 743.2h5v5h-5zM815 748.2h5v5h-5zM810 758.2h5v5h-5zM695 768.2h5v5h-5zM805 768.2h5v5h-5zM795 783.2h5v5h-5zM700 793.2h5v5h-5zM705 808.2h5v5h-5zM765 813.2h5v5h-5zM760 818.2h5v5h-5zM835 823.2h5v5h-5zM885 823.2h5v5h-5zM830 828.2h5v5h-5zM890 833.2h5v5h-5zM895 848.2h5v5h-5zM800 858.2h5v5h-5zM790 873.2h5v5h-5zM900 873.2h5v5h-5zM900 878.2h5v5h-5zM785 883.2h5v5h-5zM780 893.2h5v5h-5zM780 898.2h5v5h-5zM895 918.2h5v5h-5zM830 923.2h10v5h-10zM890 923.2h5v5h-5zM855 928.2h15v5h-15zM880 928.2h5v5h-5z"/><path fill="#393939" d="M710 718.2h5v5h-5zM750 718.2h10v5h-10zM775 723.2h5v5h-5zM790 728.2h5v5h-5zM695 733.2h5v5h-5zM810 738.2h5v5h-5zM695 758.2h5v5h-5zM695 763.2h5v5h-5zM800 773.2h5v5h-5zM700 788.2h5v5h-5zM790 788.2h5v5h-5zM785 793.2h5v5h-5zM780 798.2h5v5h-5zM775 803.2h5v5h-5zM770 808.2h5v5h-5zM865 808.2h5v5h-5zM875 808.2h5v5h-5zM855 813.2h5v5h-5zM880 813.2h5v5h-5zM710 818.2h5v5h-5zM845 818.2h5v5h-5zM750 823.2h5v5h-5zM740 828.2h5v5h-5zM720 833.2h5v5h-5zM730 833.2h5v5h-5zM825 833.2h5v5h-5zM820 838.2h5v5h-5zM890 838.2h5v5h-5zM815 843.2h5v5h-5zM810 848.2h5v5h-5zM805 853.2h5v5h-5zM895 853.2h5v5h-5zM795 868.2h5v5h-5zM900 883.2h5v5h-5zM900 888.2h5v5h-5zM790 908.2h5v5h-5zM900 908.2h5v5h-5zM805 913.2h5v5h-5zM815 918.2h5v5h-5zM840 923.2h5v5h-5zM870 928.2h10v5h-10z"/><path fill="#3d3d3d" d="M745 718.2h5v5h-5zM705 723.2h5v5h-5zM700 728.2h5v5h-5zM785 728.2h5v5h-5zM800 733.2h5v5h-5zM695 738.2h5v5h-5zM695 743.2h5v5h-5zM695 748.2h5v5h-5zM695 753.2h5v5h-5zM810 753.2h5v5h-5zM805 763.2h5v5h-5zM795 778.2h5v5h-5zM700 783.2h5v5h-5zM705 803.2h5v5h-5zM870 808.2h5v5h-5zM755 818.2h5v5h-5zM840 823.2h5v5h-5zM715 828.2h5v5h-5zM885 828.2h5v5h-5zM725 833.2h5v5h-5zM890 843.2h5v5h-5zM895 858.2h5v5h-5zM800 863.2h5v5h-5zM895 863.2h5v5h-5zM790 878.2h5v5h-5zM785 888.2h5v5h-5zM900 893.2h5v5h-5zM900 898.2h5v5h-5zM785 903.2h5v5h-5zM900 903.2h5v5h-5zM895 913.2h5v5h-5zM820 918.2h5v5h-5zM890 918.2h5v5h-5zM845 923.2h5v5h-5zM885 923.2h5v5h-5z"/><path fill="#414141" d="M715 718.2h5v5h-5zM735 718.2h10v5h-10zM770 723.2h5v5h-5zM810 743.2h5v5h-5zM810 748.2h5v5h-5zM805 758.2h5v5h-5zM800 768.2h5v5h-5zM700 778.2h5v5h-5zM790 783.2h5v5h-5zM705 798.2h5v5h-5zM765 808.2h5v5h-5zM710 813.2h5v5h-5zM760 813.2h5v5h-5zM860 813.2h5v5h-5zM850 818.2h5v5h-5zM745 823.2h5v5h-5zM735 828.2h5v5h-5zM835 828.2h5v5h-5zM830 833.2h5v5h-5zM805 858.2h5v5h-5zM895 868.2h5v5h-5zM795 873.2h5v5h-5zM785 893.2h5v5h-5zM785 898.2h5v5h-5zM795 908.2h5v5h-5zM810 913.2h5v5h-5zM825 918.2h5v5h-5zM850 923.2h10v5h-10zM880 923.2h5v5h-5z"/><path fill="#454545" d="M720 718.2h15v5h-15zM765 723.2h5v5h-5zM780 728.2h5v5h-5zM700 733.2h5v5h-5zM805 738.2h5v5h-5zM700 773.2h5v5h-5zM795 773.2h5v5h-5zM785 788.2h5v5h-5zM705 793.2h5v5h-5zM780 793.2h5v5h-5zM775 798.2h5v5h-5zM770 803.2h5v5h-5zM865 813.2h5v5h-5zM875 813.2h5v5h-5zM750 818.2h5v5h-5zM855 818.2h5v5h-5zM880 818.2h5v5h-5zM715 823.2h5v5h-5zM740 823.2h5v5h-5zM845 823.2h5v5h-5zM720 828.2h5v5h-5zM730 828.2h5v5h-5zM885 833.2h5v5h-5zM825 838.2h5v5h-5zM820 843.2h5v5h-5zM815 848.2h5v5h-5zM890 848.2h5v5h-5zM810 853.2h5v5h-5zM895 873.2h5v5h-5zM790 883.2h5v5h-5zM895 908.2h5v5h-5zM815 913.2h5v5h-5zM830 918.2h5v5h-5zM860 923.2h10v5h-10zM875 923.2h5v5h-5z"/><path fill="#494949" d="M760 723.2h5v5h-5zM775 728.2h5v5h-5zM795 733.2h5v5h-5zM805 753.2h5v5h-5zM800 763.2h5v5h-5zM700 768.2h5v5h-5zM790 778.2h5v5h-5zM710 808.2h5v5h-5zM755 813.2h5v5h-5zM870 813.2h5v5h-5zM725 828.2h5v5h-5zM840 828.2h5v5h-5zM890 853.2h5v5h-5zM805 863.2h5v5h-5zM800 868.2h5v5h-5zM795 878.2h5v5h-5zM895 878.2h5v5h-5zM790 888.2h5v5h-5zM790 903.2h5v5h-5zM800 908.2h5v5h-5zM835 918.2h5v5h-5zM870 923.2h5v5h-5z"/><path fill="#4d4d4d" d="M710 723.2h5v5h-5zM755 723.2h5v5h-5zM705 728.2h5v5h-5zM805 743.2h5v5h-5zM805 748.2h5v5h-5zM700 758.2h5v5h-5zM700 763.2h5v5h-5zM795 768.2h5v5h-5zM785 783.2h5v5h-5zM705 788.2h5v5h-5zM780 788.2h5v5h-5zM765 803.2h5v5h-5zM760 808.2h5v5h-5zM745 818.2h5v5h-5zM860 818.2h5v5h-5zM735 823.2h5v5h-5zM850 823.2h5v5h-5zM880 823.2h5v5h-5zM835 833.2h5v5h-5zM830 838.2h5v5h-5zM885 838.2h5v5h-5zM810 858.2h5v5h-5zM890 858.2h5v5h-5zM895 883.2h5v5h-5zM895 888.2h5v5h-5zM790 893.2h5v5h-5zM895 903.2h5v5h-5zM820 913.2h5v5h-5zM890 913.2h5v5h-5zM840 918.2h5v5h-5zM885 918.2h5v5h-5z"/><path fill="#515151" d="M750 723.2h5v5h-5zM770 728.2h5v5h-5zM790 733.2h5v5h-5zM700 738.2h5v5h-5zM800 738.2h5v5h-5zM700 753.2h5v5h-5zM800 758.2h5v5h-5zM705 783.2h5v5h-5zM775 793.2h5v5h-5zM770 798.2h5v5h-5zM710 803.2h5v5h-5zM750 813.2h5v5h-5zM715 818.2h5v5h-5zM865 818.2h5v5h-5zM875 818.2h5v5h-5zM720 823.2h5v5h-5zM730 823.2h5v5h-5zM845 828.2h5v5h-5zM825 843.2h5v5h-5zM820 848.2h5v5h-5zM815 853.2h5v5h-5zM890 863.2h5v5h-5zM800 873.2h5v5h-5zM795 883.2h5v5h-5zM895 893.2h5v5h-5zM790 898.2h5v5h-5zM895 898.2h5v5h-5zM825 913.2h5v5h-5zM845 918.2h5v5h-5z"/><path fill="#555555" d="M715 723.2h5v5h-5zM740 723.2h10v5h-10zM765 728.2h5v5h-5zM700 743.2h5v5h-5zM700 748.2h5v5h-5zM800 753.2h5v5h-5zM795 763.2h5v5h-5zM790 773.2h5v5h-5zM705 778.2h5v5h-5zM785 778.2h5v5h-5zM755 808.2h5v5h-5zM740 818.2h5v5h-5zM870 818.2h5v5h-5zM855 823.2h5v5h-5zM840 833.2h5v5h-5zM885 843.2h5v5h-5zM805 868.2h5v5h-5zM890 868.2h5v5h-5zM800 878.2h5v5h-5zM795 888.2h5v5h-5zM795 903.2h5v5h-5zM805 908.2h5v5h-5zM850 918.2h5v5h-5z"/><path fill="#595959" d="M735 723.2h5v5h-5zM760 728.2h5v5h-5zM785 733.2h5v5h-5zM800 743.2h5v5h-5zM705 773.2h5v5h-5zM780 783.2h5v5h-5zM775 788.2h5v5h-5zM770 793.2h5v5h-5zM710 798.2h5v5h-5zM765 798.2h5v5h-5zM760 803.2h5v5h-5zM745 813.2h5v5h-5zM735 818.2h5v5h-5zM725 823.2h5v5h-5zM860 823.2h5v5h-5zM850 828.2h5v5h-5zM880 828.2h5v5h-5zM835 838.2h5v5h-5zM830 843.2h5v5h-5zM825 848.2h5v5h-5zM885 848.2h5v5h-5zM820 853.2h5v5h-5zM815 858.2h5v5h-5zM810 863.2h5v5h-5zM890 873.2h5v5h-5zM830 913.2h5v5h-5zM855 918.2h5v5h-5zM880 918.2h5v5h-5z"/><path fill="#5d5d5d" d="M720 723.2h5v5h-5zM730 723.2h5v5h-5zM705 733.2h5v5h-5zM795 738.2h5v5h-5zM800 748.2h5v5h-5zM795 758.2h5v5h-5zM705 768.2h5v5h-5zM790 768.2h5v5h-5zM750 808.2h5v5h-5zM715 813.2h5v5h-5zM720 818.2h5v5h-5zM875 823.2h5v5h-5zM845 833.2h5v5h-5zM805 873.2h5v5h-5zM800 883.2h5v5h-5zM795 893.2h5v5h-5zM795 898.2h5v5h-5zM800 903.2h5v5h-5zM810 908.2h5v5h-5zM890 908.2h5v5h-5zM835 913.2h5v5h-5zM860 918.2h5v5h-5z"/><path fill="#616161" d="M725 723.2h5v5h-5zM710 728.2h5v5h-5zM755 728.2h5v5h-5zM780 733.2h5v5h-5zM795 753.2h5v5h-5zM705 763.2h5v5h-5zM790 763.2h5v5h-5zM785 773.2h5v5h-5zM780 778.2h5v5h-5zM710 793.2h5v5h-5zM755 803.2h5v5h-5zM740 813.2h5v5h-5zM730 818.2h5v5h-5zM865 823.2h5v5h-5zM855 828.2h5v5h-5zM880 833.2h5v5h-5zM840 838.2h5v5h-5zM885 853.2h5v5h-5zM815 863.2h5v5h-5zM810 868.2h5v5h-5zM890 878.2h5v5h-5zM840 913.2h5v5h-5zM885 913.2h5v5h-5zM865 918.2h15v5h-15z"/><path fill="#656565" d="M750 728.2h5v5h-5zM705 758.2h5v5h-5zM775 783.2h5v5h-5zM710 788.2h5v5h-5zM770 788.2h5v5h-5zM765 793.2h5v5h-5zM760 798.2h5v5h-5zM715 808.2h5v5h-5zM745 808.2h5v5h-5zM735 813.2h5v5h-5zM725 818.2h5v5h-5zM870 823.2h5v5h-5zM860 828.2h5v5h-5zM850 833.2h5v5h-5zM835 843.2h5v5h-5zM830 848.2h5v5h-5zM825 853.2h5v5h-5zM820 858.2h5v5h-5zM805 878.2h5v5h-5zM890 883.2h5v5h-5zM800 888.2h5v5h-5zM890 903.2h5v5h-5zM815 908.2h5v5h-5zM845 913.2h5v5h-5z"/><path fill="#696969" d="M745 728.2h5v5h-5zM705 738.2h5v5h-5zM790 738.2h5v5h-5zM795 743.2h5v5h-5zM795 748.2h5v5h-5zM705 753.2h5v5h-5zM790 758.2h5v5h-5zM785 768.2h5v5h-5zM750 803.2h5v5h-5zM720 813.2h5v5h-5zM875 828.2h5v5h-5zM845 838.2h5v5h-5zM885 858.2h5v5h-5zM810 873.2h5v5h-5zM805 883.2h5v5h-5zM890 888.2h5v5h-5zM800 893.2h5v5h-5zM890 893.2h5v5h-5zM800 898.2h5v5h-5zM805 903.2h5v5h-5z"/><path fill="#6d6d6d" d="M715 728.2h5v5h-5zM740 728.2h5v5h-5zM775 733.2h5v5h-5zM705 743.2h5v5h-5zM705 748.2h5v5h-5zM780 773.2h5v5h-5zM775 778.2h5v5h-5zM710 783.2h5v5h-5zM755 798.2h5v5h-5zM740 808.2h5v5h-5zM730 813.2h5v5h-5zM865 828.2h5v5h-5zM855 833.2h5v5h-5zM880 838.2h5v5h-5zM840 843.2h5v5h-5zM820 863.2h5v5h-5zM885 863.2h5v5h-5zM815 868.2h5v5h-5zM890 898.2h5v5h-5zM850 913.2h5v5h-5zM880 913.2h5v5h-5z"/><path fill="#717171" d="M735 728.2h5v5h-5zM710 733.2h5v5h-5zM790 753.2h5v5h-5zM785 763.2h5v5h-5zM710 778.2h5v5h-5zM770 783.2h5v5h-5zM765 788.2h5v5h-5zM760 793.2h5v5h-5zM715 803.2h5v5h-5zM745 803.2h5v5h-5zM725 813.2h5v5h-5zM870 828.2h5v5h-5zM850 838.2h5v5h-5zM835 848.2h5v5h-5zM830 853.2h5v5h-5zM825 858.2h5v5h-5zM810 878.2h5v5h-5zM805 888.2h5v5h-5zM820 908.2h5v5h-5zM885 908.2h5v5h-5zM855 913.2h5v5h-5z"/><path fill="#757575" d="M720 728.2h5v5h-5zM730 728.2h5v5h-5zM770 733.2h5v5h-5zM785 738.2h5v5h-5zM790 743.2h5v5h-5zM790 748.2h5v5h-5zM780 768.2h5v5h-5zM750 798.2h5v5h-5zM720 808.2h5v5h-5zM735 808.2h5v5h-5zM860 833.2h5v5h-5zM875 833.2h5v5h-5zM845 843.2h5v5h-5zM885 868.2h5v5h-5zM815 873.2h5v5h-5zM805 893.2h5v5h-5zM805 898.2h5v5h-5zM810 903.2h5v5h-5zM860 913.2h5v5h-5z"/><path fill="#797979" d="M725 728.2h5v5h-5zM785 758.2h5v5h-5zM710 773.2h5v5h-5zM775 773.2h5v5h-5zM770 778.2h5v5h-5zM755 793.2h5v5h-5zM740 803.2h5v5h-5zM730 808.2h5v5h-5zM865 833.2h5v5h-5zM855 838.2h5v5h-5zM880 843.2h5v5h-5zM840 848.2h5v5h-5zM825 863.2h5v5h-5zM820 868.2h5v5h-5zM885 873.2h5v5h-5zM810 883.2h5v5h-5zM825 908.2h5v5h-5zM865 913.2h5v5h-5zM875 913.2h5v5h-5z"/><path fill="#7d7d7d" d="M765 733.2h5v5h-5zM785 753.2h5v5h-5zM780 763.2h5v5h-5zM765 783.2h5v5h-5zM760 788.2h5v5h-5zM715 798.2h5v5h-5zM870 833.2h5v5h-5zM835 853.2h5v5h-5zM830 858.2h5v5h-5zM815 878.2h5v5h-5zM810 888.2h5v5h-5zM870 913.2h5v5h-5z"/><path fill="#828282" d="M710 738.2h5v5h-5zM780 738.2h5v5h-5zM785 743.2h5v5h-5zM710 768.2h5v5h-5zM775 768.2h5v5h-5zM745 798.2h5v5h-5zM720 803.2h5v5h-5zM735 803.2h5v5h-5zM725 808.2h5v5h-5zM860 838.2h5v5h-5zM875 838.2h5v5h-5zM850 843.2h5v5h-5zM880 848.2h5v5h-5zM820 873.2h5v5h-5zM885 878.2h5v5h-5zM815 903.2h5v5h-5zM885 903.2h5v5h-5zM830 908.2h5v5h-5z"/><path fill="#868686" d="M760 733.2h5v5h-5zM785 748.2h5v5h-5zM780 758.2h5v5h-5zM710 763.2h5v5h-5zM770 773.2h5v5h-5zM765 778.2h5v5h-5zM760 783.2h5v5h-5zM755 788.2h5v5h-5zM715 793.2h5v5h-5zM750 793.2h5v5h-5zM845 848.2h5v5h-5zM840 853.2h5v5h-5zM835 858.2h5v5h-5zM830 863.2h5v5h-5zM825 868.2h5v5h-5zM815 883.2h5v5h-5zM885 883.2h5v5h-5zM810 893.2h5v5h-5zM810 898.2h5v5h-5z"/><path fill="#8a8a8a" d="M755 733.2h5v5h-5zM710 758.2h5v5h-5zM775 763.2h5v5h-5zM740 798.2h5v5h-5zM730 803.2h5v5h-5zM865 838.2h5v5h-5zM855 843.2h5v5h-5zM820 878.2h5v5h-5zM885 888.2h5v5h-5zM835 908.2h5v5h-5z"/><path fill="#8e8e8e" d="M715 733.2h5v5h-5zM775 738.2h5v5h-5zM780 743.2h5v5h-5zM780 753.2h5v5h-5zM770 768.2h5v5h-5zM745 793.2h5v5h-5zM720 798.2h5v5h-5zM735 798.2h5v5h-5zM725 803.2h5v5h-5zM870 838.2h5v5h-5zM860 843.2h5v5h-5zM875 843.2h5v5h-5zM850 848.2h5v5h-5zM880 853.2h5v5h-5zM825 873.2h5v5h-5zM815 888.2h5v5h-5zM885 893.2h5v5h-5zM885 898.2h5v5h-5zM820 903.2h5v5h-5zM880 908.2h5v5h-5z"/><path fill="#929292" d="M750 733.2h5v5h-5zM780 748.2h5v5h-5zM710 753.2h5v5h-5zM775 758.2h5v5h-5zM765 773.2h5v5h-5zM760 778.2h5v5h-5zM755 783.2h5v5h-5zM715 788.2h5v5h-5zM750 788.2h5v5h-5zM845 853.2h5v5h-5zM840 858.2h5v5h-5zM835 863.2h5v5h-5zM830 868.2h5v5h-5zM820 883.2h5v5h-5zM815 893.2h5v5h-5zM815 898.2h5v5h-5zM840 908.2h5v5h-5z"/><path fill="#969696" d="M710 743.2h5v5h-5zM710 748.2h5v5h-5zM770 763.2h5v5h-5zM740 793.2h5v5h-5zM730 798.2h5v5h-5zM865 843.2h5v5h-5zM855 848.2h5v5h-5zM880 858.2h5v5h-5zM845 908.2h5v5h-5z"/><path fill="#9a9a9a" d="M745 733.2h5v5h-5zM770 738.2h5v5h-5zM775 753.2h5v5h-5zM765 768.2h5v5h-5zM715 783.2h5v5h-5zM745 788.2h5v5h-5zM725 798.2h5v5h-5zM870 843.2h5v5h-5zM875 848.2h5v5h-5zM850 853.2h5v5h-5zM830 873.2h5v5h-5zM825 878.2h5v5h-5zM820 888.2h5v5h-5zM825 903.2h5v5h-5z"/><path fill="#9e9e9e" d="M775 743.2h5v5h-5zM775 748.2h5v5h-5zM770 758.2h5v5h-5zM760 773.2h5v5h-5zM755 778.2h5v5h-5zM750 783.2h5v5h-5zM720 793.2h5v5h-5zM735 793.2h5v5h-5zM860 848.2h5v5h-5zM845 858.2h5v5h-5zM840 863.2h5v5h-5zM880 863.2h5v5h-5zM835 868.2h5v5h-5zM820 898.2h5v5h-5zM850 908.2h5v5h-5z"/><path fill="#a2a2a2" d="M740 733.2h5v5h-5zM765 738.2h5v5h-5zM715 778.2h5v5h-5zM740 788.2h5v5h-5zM730 793.2h5v5h-5zM865 848.2h5v5h-5zM855 853.2h5v5h-5zM825 883.2h5v5h-5zM820 893.2h5v5h-5z"/><path fill="#a6a6a6" d="M735 733.2h5v5h-5zM770 753.2h5v5h-5zM765 763.2h5v5h-5zM760 768.2h5v5h-5zM745 783.2h5v5h-5zM720 788.2h5v5h-5zM875 853.2h5v5h-5zM850 858.2h5v5h-5zM880 868.2h5v5h-5zM835 873.2h5v5h-5zM830 878.2h5v5h-5zM825 888.2h5v5h-5zM830 903.2h5v5h-5zM855 908.2h5v5h-5z"/><path fill="#aaaaaa" d="M720 733.2h5v5h-5zM760 738.2h5v5h-5zM770 743.2h5v5h-5zM715 773.2h5v5h-5zM755 773.2h5v5h-5zM750 778.2h5v5h-5zM735 788.2h5v5h-5zM725 793.2h5v5h-5zM870 848.2h5v5h-5zM860 853.2h5v5h-5zM845 863.2h5v5h-5zM840 868.2h5v5h-5z"/><path fill="#aeaeae" d="M730 733.2h5v5h-5zM770 748.2h5v5h-5zM765 758.2h5v5h-5zM740 783.2h5v5h-5zM855 858.2h5v5h-5zM875 858.2h5v5h-5zM880 873.2h5v5h-5zM830 883.2h5v5h-5zM825 893.2h5v5h-5zM825 898.2h5v5h-5zM835 903.2h5v5h-5zM860 908.2h5v5h-5zM875 908.2h5v5h-5z"/><path fill="#b2b2b2" d="M725 733.2h5v5h-5zM765 753.2h5v5h-5zM760 763.2h5v5h-5zM715 768.2h5v5h-5zM755 768.2h5v5h-5zM750 773.2h5v5h-5zM745 778.2h5v5h-5zM720 783.2h5v5h-5zM730 788.2h5v5h-5zM865 853.2h5v5h-5zM850 863.2h5v5h-5zM845 868.2h5v5h-5zM840 873.2h5v5h-5zM835 878.2h5v5h-5zM865 908.2h5v5h-5z"/><path fill="#b6b6b6" d="M755 738.2h5v5h-5zM765 743.2h5v5h-5zM735 783.2h5v5h-5zM725 788.2h5v5h-5zM870 853.2h5v5h-5zM860 858.2h5v5h-5zM880 878.2h5v5h-5zM830 888.2h5v5h-5zM830 898.2h5v5h-5zM840 903.2h5v5h-5zM880 903.2h5v5h-5zM870 908.2h5v5h-5z"/><path fill="#bababa" d="M715 738.2h5v5h-5zM765 748.2h5v5h-5zM760 758.2h5v5h-5zM755 763.2h5v5h-5zM740 778.2h5v5h-5zM865 858.2h5v5h-5zM855 863.2h5v5h-5zM875 863.2h5v5h-5zM840 878.2h5v5h-5zM835 883.2h5v5h-5zM830 893.2h5v5h-5z"/><path fill="#bebebe" d="M750 738.2h5v5h-5zM760 743.2h5v5h-5zM760 753.2h5v5h-5zM715 763.2h5v5h-5zM750 768.2h5v5h-5zM745 773.2h5v5h-5zM720 778.2h5v5h-5zM730 783.2h5v5h-5zM850 868.2h5v5h-5zM845 873.2h5v5h-5zM880 883.2h5v5h-5zM835 888.2h5v5h-5z"/><path fill="#c2c2c2" d="M760 748.2h5v5h-5zM755 758.2h5v5h-5zM735 778.2h5v5h-5zM725 783.2h5v5h-5zM870 858.2h5v5h-5zM860 863.2h5v5h-5zM875 868.2h5v5h-5zM840 883.2h5v5h-5zM835 898.2h5v5h-5zM845 903.2h5v5h-5z"/><path fill="#c6c6c6" d="M745 738.2h5v5h-5zM715 758.2h5v5h-5zM750 763.2h5v5h-5zM745 768.2h5v5h-5zM720 773.2h5v5h-5zM740 773.2h5v5h-5zM730 778.2h5v5h-5zM865 863.2h5v5h-5zM855 868.2h5v5h-5zM850 873.2h5v5h-5zM845 878.2h5v5h-5zM880 888.2h5v5h-5zM835 893.2h5v5h-5z"/><path fill="#cacaca" d="M755 743.2h5v5h-5zM715 753.2h5v5h-5zM755 753.2h5v5h-5zM735 773.2h5v5h-5zM725 778.2h5v5h-5zM870 863.2h5v5h-5zM860 868.2h5v5h-5zM840 888.2h5v5h-5zM880 893.2h5v5h-5zM850 903.2h5v5h-5z"/><path fill="#cecece" d="M755 748.2h5v5h-5zM750 758.2h5v5h-5zM745 763.2h5v5h-5zM740 768.2h5v5h-5zM855 873.2h5v5h-5zM875 873.2h5v5h-5zM850 878.2h5v5h-5zM845 883.2h5v5h-5zM840 893.2h5v5h-5zM840 898.2h5v5h-5zM880 898.2h5v5h-5z"/><path fill="#d2d2d2" d="M740 738.2h5v5h-5zM715 743.2h5v5h-5zM715 748.2h5v5h-5zM750 753.2h5v5h-5zM720 768.2h5v5h-5zM730 773.2h5v5h-5zM865 868.2h5v5h-5zM855 903.2h5v5h-5z"/><path fill="#d7d7d7" d="M750 743.2h5v5h-5zM745 758.2h5v5h-5zM740 763.2h5v5h-5zM735 768.2h5v5h-5zM725 773.2h5v5h-5zM870 868.2h5v5h-5zM860 873.2h5v5h-5zM855 878.2h5v5h-5zM875 878.2h5v5h-5zM850 883.2h5v5h-5zM845 888.2h5v5h-5zM845 898.2h5v5h-5z"/><path fill="#dbdbdb" d="M735 738.2h5v5h-5zM750 748.2h5v5h-5zM720 763.2h5v5h-5zM845 893.2h5v5h-5z"/><path fill="#dfdfdf" d="M745 743.2h5v5h-5zM745 753.2h5v5h-5zM735 763.2h5v5h-5zM730 768.2h5v5h-5zM865 873.2h5v5h-5zM860 878.2h5v5h-5zM850 888.2h5v5h-5zM860 903.2h5v5h-5z"/><path fill="#e3e3e3" d="M720 738.2h5v5h-5zM730 738.2h5v5h-5zM720 758.2h5v5h-5zM740 758.2h5v5h-5zM725 768.2h5v5h-5zM870 873.2h5v5h-5zM855 883.2h5v5h-5zM875 883.2h5v5h-5zM850 898.2h5v5h-5zM865 903.2h5v5h-5zM875 903.2h5v5h-5z"/><path fill="#e7e7e7" d="M725 738.2h5v5h-5zM745 748.2h5v5h-5zM730 763.2h5v5h-5zM865 878.2h5v5h-5zM850 893.2h5v5h-5z"/><path fill="#ebebeb" d="M740 743.2h5v5h-5zM720 753.2h5v5h-5zM740 753.2h5v5h-5zM735 758.2h5v5h-5zM870 878.2h5v5h-5zM860 883.2h5v5h-5zM855 888.2h5v5h-5zM875 888.2h5v5h-5zM855 898.2h5v5h-5zM870 903.2h5v5h-5z"/><path fill="#efefef" d="M740 748.2h5v5h-5zM725 763.2h5v5h-5zM855 893.2h5v5h-5zM875 893.2h5v5h-5z"/><path fill="#f3f3f3" d="M720 743.2h5v5h-5zM735 743.2h5v5h-5zM720 748.2h5v5h-5zM735 753.2h5v5h-5zM730 758.2h5v5h-5zM865 883.2h5v5h-5zM860 888.2h5v5h-5zM875 898.2h5v5h-5z"/><path fill="#f7f7f7" d="M725 758.2h5v5h-5zM870 883.2h5v5h-5zM860 898.2h5v5h-5z"/><path fill="#fbfbfb" d="M730 743.2h5v5h-5zM735 748.2h5v5h-5zM730 753.2h5v5h-5zM865 888.2h5v5h-5zM860 893.2h5v5h-5z"/><path fill="#ffffff" d="M725 743.2h5v5h-5zM725 748.2h10v5h-10zM725 753.2h5v5h-5zM870 888.2h5v5h-5zM865 893.2h10v5h-10zM865 898.2h10v5h-10z"/></g></g>
<path d="M727.2,443.5H874V595.7H727.2Z" fill="none" stroke="#8e8e8e" stroke-width="4.2" stroke-dasharray="16.5 8" stroke-dashoffset="0"/>
<path d="M726.5,747.5H873V899.3H726.5Z" fill="none" stroke="#8e8e8e" stroke-width="4.2" stroke-dasharray="16.5 8" stroke-dashoffset="0"/>
<path d="M661.5,385.6H665M661.5,452.8H665M661.5,519.2H665M661.5,585.4H665M661.5,652H665M666.6,654.3V657.8M733.9,654.3V657.8M800.1,654.3V657.8M866.7,654.3V657.8M933.2,654.3V657.8M661.5,689.8H665M661.5,757H665M661.5,823.4H665M661.5,889.6H665M661.5,956.2H665M666.6,958.5V962M733.9,958.5V962M800.1,958.5V962M866.7,958.5V962M933.2,958.5V962" stroke="#000" stroke-width="2.4"/>
<rect x="849.2" y="630.9" width="66.6" height="7" fill="#fff"/>
<defs><linearGradient id="cbh" x1="0" y1="0" x2="0" y2="1"><stop offset="0.000" stop-color="rgb(255,255,255)"/><stop offset="0.050" stop-color="rgb(253,253,207)"/><stop offset="0.100" stop-color="rgb(252,252,159)"/><stop offset="0.150" stop-color="rgb(250,250,112)"/><stop offset="0.200" stop-color="rgb(249,249,64)"/><stop offset="0.250" stop-color="rgb(248,248,17)"/><stop offset="0.300" stop-color="rgb(247,219,12)"/><stop offset="0.350" stop-color="rgb(246,187,11)"/><stop offset="0.400" stop-color="rgb(245,155,10)"/><stop offset="0.450" stop-color="rgb(244,124,10)"/><stop offset="0.500" stop-color="rgb(243,92,9)"/><stop offset="0.550" stop-color="rgb(242,60,8)"/><stop offset="0.600" stop-color="rgb(242,28,7)"/><stop offset="0.650" stop-color="rgb(231,6,6)"/><stop offset="0.700" stop-color="rgb(200,6,6)"/><stop offset="0.750" stop-color="rgb(168,6,6)"/><stop offset="0.800" stop-color="rgb(136,6,6)"/><stop offset="0.850" stop-color="rgb(105,6,6)"/><stop offset="0.900" stop-color="rgb(73,6,6)"/><stop offset="0.950" stop-color="rgb(41,6,6)"/><stop offset="1.000" stop-color="rgb(16,6,6)"/></linearGradient></defs>
<rect x="611" y="446.5" width="17" height="459.5" fill="url(#cbh)"/>
<text x="547.1" y="433.1" font-size="30" textLength="91.3" lengthAdjust="spacingAndGlyphs">2.7×10</text>
<text x="642" y="423.4" font-size="18">4</text>
<text x="613" y="937.5" font-size="30">0</text>
<text x="640.5" y="526" font-size="30" font-style="italic">y</text>
<text x="638.6" y="840" font-size="30" font-style="italic">y</text>
<text x="792" y="989.2" font-size="30" font-style="italic">x</text>
<text transform="translate(595.2,727) rotate(-90)" font-size="37"><tspan>|</tspan><tspan font-weight="bold" font-style="italic">E/E</tspan><tspan font-weight="bold" font-size="24" dy="7">0</tspan><tspan dy="-7">|</tspan><tspan font-size="24" dy="-16">2</tspan></text>
<text x="667.8" y="418" font-size="40" fill="#fff" font-weight="bold">(d)</text>
<text x="666" y="726" font-size="40" fill="#fff" font-weight="bold">(e)</text>
<text x="827.3" y="415.6" font-size="29" fill="#fff" textLength="57" lengthAdjust="spacingAndGlyphs">LCP</text>
<text x="821.3" y="718.7" font-size="29" fill="#fff" textLength="64" lengthAdjust="spacingAndGlyphs">RCP</text>
<g stroke="#fff" fill="none" stroke-width="2.6"><path d="M911.6,414.5 A25,8.6 0 1 1 894.9,415.8"/><path d="M908.6,395V448"/></g><path d="M902.6,447L908.6,463L914.6,447Z" fill="#fff"/><path d="M900.8,414.2L893.5,412.2L894.5,418.8Z" fill="#fff"/>
<g stroke="#fff" fill="none" stroke-width="2.6"><path d="M922.8,718.8 A25,8.6 0 1 1 906,717.5"/><path d="M909,698V752"/></g><path d="M903,751L909,767L915,751Z" fill="#fff"/><path d="M916.8,717.2L924.1,715.2L923.1,721.8Z" fill="#fff"/>
<rect x="962.7" y="384.8" width="267.3" height="266.8" fill="none" stroke="#000" stroke-width="3"/>
<path d="M957.5,386.4H962M957.5,452.8H962M957.5,519.2H962M957.5,585.6H962M957.5,652H962M964.2,651V657M1030,651V657M1096,651V657M1162,651V657M1227.6,651V657" stroke="#000" stroke-width="2.4"/>
<path d="M1022.3,442.7H1169.2V595.5H1022.3Z" fill="none" stroke="#8e8e8e" stroke-width="4.2" stroke-dasharray="16.5 8" stroke-dashoffset="0"/>
<circle cx="1162" cy="449.3" r="8.6" fill="#1a1414"/>
<text x="965.8" y="418" font-size="40" fill="#fff" font-weight="bold">(f)</text>
<defs><linearGradient id="cbf" x1="0" y1="0" x2="0" y2="1"><stop offset="0" stop-color="#dd2a2a"/><stop offset="0.5" stop-color="#fff"/><stop offset="1" stop-color="#20409a"/></linearGradient></defs>
<rect x="1251.1" y="409" width="22" height="219" fill="url(#cbf)"/>
<text x="1254.5" y="399.3" font-size="29">1</text>
<text x="1251.5" y="656" font-size="29">-1</text>
<text transform="translate(1300,489) rotate(90)" font-size="37" font-style="italic">ρ<tspan font-size="21" dy="9">CP</tspan></text>
<path d="M1010,690V958M1059,690V958M1108,690V958M1157,690V958M1206,690V958M962,905.1H1229M962,851H1229M962,796.8H1229M962,742.7H1229" stroke="#c4c4c4" stroke-width="1.8" fill="none"/>
<path d="M961,949.4 L962.2,949.2 L963.5,949.1 L964.7,949 L965.9,948.8 L967.1,948.6 L968.4,948.5 L969.6,948.3 L970.8,948.2 L972,948 L973.2,947.8 L974.5,947.6 L975.7,947.4 L976.9,947.2 L978.1,947 L979.4,946.8 L980.6,946.6 L981.8,946.4 L983,946.2 L984.3,945.9 L985.5,945.7 L986.7,945.4 L988,945.2 L989.2,944.9 L990.4,944.6 L991.6,944.3 L992.9,944 L994.1,943.7 L995.3,943.4 L996.5,943.1 L997.8,942.8 L999,942.4 L1000.2,942 L1001.4,941.7 L1002.6,941.3 L1003.9,940.9 L1005.1,940.4 L1006.3,940 L1007.5,939.6 L1008.8,939.1 L1010,938.6 L1011.2,938.1 L1012.5,937.6 L1013.7,937 L1014.9,936.4 L1016.1,935.8 L1017.4,935.2 L1018.6,934.6 L1019.8,933.9 L1021,933.2 L1022.2,932.4 L1023.5,931.7 L1024.7,930.8 L1025.9,930 L1027.2,929.1 L1028.4,928.2 L1029.6,927.2 L1030.8,926.2 L1032,925.1 L1033.3,924 L1034.5,922.8 L1035.7,921.6 L1037,920.3 L1038.2,918.9 L1039.4,917.4 L1040.6,915.9 L1041.8,914.3 L1043.1,912.6 L1044.3,910.8 L1045.5,908.9 L1046.8,906.9 L1048,904.8 L1049.2,902.6 L1050.4,900.2 L1051.7,897.7 L1052.9,895 L1054.1,892.2 L1055.3,889.2 L1056.5,886 L1057.8,882.7 L1059,879.1 L1060.2,875.3 L1061.5,871.3 L1062.7,867.1 L1063.9,862.6 L1065.1,857.8 L1066.3,852.7 L1067.6,847.4 L1068.8,841.8 L1070,835.9 L1071.2,829.7 L1072.5,823.2 L1073.7,816.4 L1074.9,809.4 L1076.2,802.2 L1077.4,794.7 L1078.6,787.2 L1079.8,779.5 L1081,771.9 L1082.3,764.4 L1083.5,757.1 L1084.7,750.1 L1086,743.7 L1087.2,737.8 L1088.4,732.7 L1089.6,728.4 L1090.8,725.1 L1092.1,723 L1093.3,721.9 L1094.5,722 L1095.8,723.3 L1097,725.7 L1098.2,729.2 L1099.4,733.6 L1100.7,738.9 L1101.9,744.9 L1103.1,751.5 L1104.3,758.5 L1105.5,765.9 L1106.8,773.4 L1108,781 L1109.2,788.7 L1110.5,796.2 L1111.7,803.6 L1112.9,810.8 L1114.1,817.8 L1115.3,824.5 L1116.6,830.9 L1117.8,837.1 L1119,842.9 L1120.2,848.5 L1121.5,853.8 L1122.7,858.8 L1123.9,863.5 L1125.2,867.9 L1126.4,872.1 L1127.6,876.1 L1128.8,879.8 L1130,883.4 L1131.3,886.7 L1132.5,889.8 L1133.7,892.8 L1135,895.6 L1136.2,898.2 L1137.4,900.7 L1138.6,903 L1139.8,905.2 L1141.1,907.3 L1142.3,909.3 L1143.5,911.2 L1144.8,913 L1146,914.6 L1147.2,916.2 L1148.4,917.7 L1149.7,919.2 L1150.9,920.5 L1152.1,921.8 L1153.3,923.1 L1154.5,924.2 L1155.8,925.3 L1157,926.4 L1158.2,927.4 L1159.5,928.4 L1160.7,929.3 L1161.9,930.2 L1163.1,931 L1164.3,931.8 L1165.6,932.6 L1166.8,933.3 L1168,934 L1169.2,934.7 L1170.5,935.3 L1171.7,936 L1172.9,936.6 L1174.2,937.1 L1175.4,937.7 L1176.6,938.2 L1177.8,938.7 L1179,939.2 L1180.3,939.7 L1181.5,940.1 L1182.7,940.5 L1184,941 L1185.2,941.4 L1186.4,941.7 L1187.6,942.1 L1188.8,942.5 L1190.1,942.8 L1191.3,943.2 L1192.5,943.5 L1193.8,943.8 L1195,944.1 L1196.2,944.4 L1197.4,944.7 L1198.7,945 L1199.9,945.2 L1201.1,945.5 L1202.3,945.7 L1203.5,946 L1204.8,946.2 L1206,946.4 L1207.2,946.6 L1208.5,946.9 L1209.7,947.1 L1210.9,947.3 L1212.1,947.5 L1213.3,947.7 L1214.6,947.8 L1215.8,948 L1217,948.2 L1218.2,948.4 L1219.5,948.5 L1220.7,948.7 L1221.9,948.8 L1223.2,949 L1224.4,949.1 L1225.6,949.3 L1226.8,949.4 L1228,949.5 L1229.3,949.7 L1230.5,949.8" fill="none" stroke="#d6161c" stroke-width="5" stroke-linejoin="round"/>
<rect x="961" y="689.2" width="269" height="269" fill="none" stroke="#000" stroke-width="3"/>
<path d="M955.5,959.3H961M955.5,905.1H961M955.5,851H961M955.5,796.8H961M955.5,742.7H961M955.5,688.5H961M961,958V964M1010,958V964M1059,958V964M1108,958V964M1157,958V964M1206,958V964" stroke="#000" stroke-width="2.4"/>
<text x="961" y="984" font-size="23.5" textLength="39.5" lengthAdjust="spacingAndGlyphs" text-anchor="middle">600</text>
<text x="1010" y="984" font-size="23.5" textLength="39.5" lengthAdjust="spacingAndGlyphs" text-anchor="middle">620</text>
<text x="1059" y="984" font-size="23.5" textLength="39.5" lengthAdjust="spacingAndGlyphs" text-anchor="middle">640</text>
<text x="1108" y="984" font-size="23.5" textLength="39.5" lengthAdjust="spacingAndGlyphs" text-anchor="middle">660</text>
<text x="1157" y="984" font-size="23.5" textLength="39.5" lengthAdjust="spacingAndGlyphs" text-anchor="middle">680</text>
<text x="1206" y="984" font-size="23.5" textLength="39.5" lengthAdjust="spacingAndGlyphs" text-anchor="middle">700</text>
<text x="1234.7" y="967.6" font-size="24">0%</text>
<text x="1234.7" y="913.4" font-size="24">20%</text>
<text x="1234.7" y="859.3" font-size="24">40%</text>
<text x="1234.7" y="805.1" font-size="24">60%</text>
<text x="1234.7" y="751" font-size="24">80%</text>
<text x="1234.7" y="696.8" font-size="24">100%</text>
<text x="975.9" y="1014.6" font-size="29" textLength="238" lengthAdjust="spacingAndGlyphs">Wavelength (nm)</text>
<text x="965.5" y="724.5" font-size="40" font-weight="bold">(g)</text>
<text transform="translate(1300,797) rotate(90)" font-size="37" font-style="italic">ρ<tspan font-size="21" dy="9">CP</tspan></text>
<defs>
<filter id="bl2" x="-50%" y="-50%" width="200%" height="200%"><feGaussianBlur stdDeviation="2"/></filter>
<filter id="bl4" x="-50%" y="-50%" width="200%" height="200%"><feGaussianBlur stdDeviation="4"/></filter>
<filter id="bl8" x="-50%" y="-50%" width="200%" height="200%"><feGaussianBlur stdDeviation="8"/></filter>
<filter id="bl14" x="-50%" y="-50%" width="200%" height="200%"><feGaussianBlur stdDeviation="14"/></filter>
<filter id="bl20" x="-60%" y="-60%" width="220%" height="220%"><feGaussianBlur stdDeviation="20"/></filter>
<filter id="bl25" x="-60%" y="-60%" width="220%" height="220%"><feGaussianBlur stdDeviation="25"/></filter>
<clipPath id="clipA"><rect x="54.7" y="16.7" width="462.9" height="351.7"/></clipPath>
<linearGradient id="surfA" x1="0" y1="0" x2="0" y2="1"><stop offset="0" stop-color="#ececeb"/><stop offset="0.3" stop-color="#d6d6d5"/><stop offset="1" stop-color="#e6e6e5"/></linearGradient>
<linearGradient id="darkA" x1="0" y1="0" x2="0" y2="1"><stop offset="0" stop-color="#757573"/><stop offset="1" stop-color="#8a8a88"/></linearGradient>
<radialGradient id="emit" cx="0.45" cy="0.45" r="0.6"><stop offset="0" stop-color="#fff"/><stop offset="0.35" stop-color="#f5a58a"/><stop offset="0.75" stop-color="#e53a24"/><stop offset="1" stop-color="#c42214"/></radialGradient>
<radialGradient id="bead" cx="0.45" cy="0.42" r="0.6"><stop offset="0" stop-color="#fbfaf0"/><stop offset="0.45" stop-color="#d6d0b4"/><stop offset="1" stop-color="#9c9478"/></radialGradient>
</defs>
<g clip-path="url(#clipA)">
<rect x="54.7" y="16.7" width="462.9" height="351.7" fill="#f2c3cb"/>
<path d="M54.7,255.5 Q290,238 517.6,253.5 V368.4 H54.7Z" fill="url(#surfA)"/>
<ellipse cx="150" cy="333" rx="105" ry="30" fill="#8fc3bb" filter="url(#bl14)"/>
<ellipse cx="420" cy="285" rx="105" ry="26" fill="#c48bc4" filter="url(#bl14)"/>
<ellipse cx="445" cy="318" rx="80" ry="18" fill="#c9a0c9" opacity="0.7" filter="url(#bl14)"/>
<ellipse cx="300" cy="271" rx="150" ry="9" fill="#9a9a9a" opacity="0.8" filter="url(#bl4)"/>
<ellipse cx="190" cy="270" rx="80" ry="7" fill="#9fd4d0" opacity="0.8" filter="url(#bl4)"/>
<ellipse cx="265" cy="297" rx="55" ry="7" fill="#ffffff" filter="url(#bl4)"/>
<path d="M54.7,256 Q290,239 517.6,254 V262 Q290,250 54.7,268Z" fill="#f4f4f3" filter="url(#bl2)"/>
<path d="M120,228 H470 V252 Q300,240 120,250Z" fill="#f4cfb6" filter="url(#bl4)"/>
<path d="M106.8,10 H460 V200 Q460,234 428,234 H139 Q106.8,234 106.8,200Z" fill="#d8d7d3"/>
<rect x="262" y="10" width="41" height="190" fill="#e0dfdb" filter="url(#bl2)"/>
<rect x="304" y="10" width="156" height="185" fill="url(#darkA)"/>
<rect x="296" y="10" width="14" height="185" fill="#a8a8a6" filter="url(#bl4)" opacity="0.7"/>
<defs><linearGradient id="skirt" x1="0" y1="0" x2="0" y2="1"><stop offset="0" stop-color="#d8d7d3" stop-opacity="0"/><stop offset="0.35" stop-color="#ebebea"/><stop offset="1" stop-color="#e6e6e5"/></linearGradient></defs>
<path d="M106.8,190 H460 V200 Q460,234 428,234 H139 Q106.8,234 106.8,200Z" fill="url(#skirt)"/>
<ellipse cx="290" cy="226" rx="150" ry="11" fill="#a6a6a6" opacity="0.75" filter="url(#bl4)"/>
<ellipse cx="205" cy="222" rx="70" ry="8" fill="#86cfcc" opacity="0.9" filter="url(#bl4)"/>
<ellipse cx="365" cy="222" rx="75" ry="8" fill="#c69ad0" opacity="0.9" filter="url(#bl4)"/>
</g>
<defs><linearGradient id="spA" gradientUnits="userSpaceOnUse" x1="75" y1="45" x2="150" y2="120"><stop offset="0" stop-color="#e5281e"/><stop offset="0.55" stop-color="#9a7a5a"/><stop offset="1" stop-color="#1fa89c"/></linearGradient><linearGradient id="spB" gradientUnits="userSpaceOnUse" x1="485" y1="48" x2="405" y2="125"><stop offset="0" stop-color="#e5281e"/><stop offset="0.5" stop-color="#c8186a"/><stop offset="1" stop-color="#9a1a90"/></linearGradient><linearGradient id="gxU" gradientUnits="userSpaceOnUse" x1="177" y1="0" x2="240" y2="0"><stop offset="0" stop-color="#1fa8a0"/><stop offset="0.5" stop-color="#8a7a5a"/><stop offset="1" stop-color="#e8401e"/></linearGradient><linearGradient id="gxL" gradientUnits="userSpaceOnUse" x1="177" y1="0" x2="240" y2="0"><stop offset="0" stop-color="#1a8aa0"/><stop offset="0.5" stop-color="#8a6a60"/><stop offset="1" stop-color="#e8301e"/></linearGradient><linearGradient id="gyU" gradientUnits="userSpaceOnUse" x1="351" y1="0" x2="414" y2="0"><stop offset="0" stop-color="#e5282a"/><stop offset="1" stop-color="#b860a8"/></linearGradient><linearGradient id="gyL" gradientUnits="userSpaceOnUse" x1="351" y1="0" x2="414" y2="0"><stop offset="0" stop-color="#e5282a"/><stop offset="1" stop-color="#a84898"/></linearGradient></defs>
<g clip-path="url(#clipA)">
<path d="M92.2,63.7 C93.3,62.6 96.4,58.6 99,57 C101.6,55.4 105,53.9 108,54 C111,54.1 115,55.8 117,57.5 C119,59.2 120,61.4 120,64 C120,66.6 119,69.9 117,73 C115,76.1 111.3,79.6 108,82.5 C104.7,85.4 99.8,88.9 97,90.5 C94.2,92.1 92.3,92.5 91.5,92 C90.7,91.5 90.6,89.6 92,87.5 C93.4,85.4 96.7,82.2 100,79.5 C103.3,76.8 108.3,72.9 112,71 C115.7,69.1 119,68 122,68 C125,68 128.1,69.3 130,71 C131.9,72.7 133.5,75.2 133.5,78 C133.5,80.8 132.2,84.5 130,88 C127.8,91.5 123.3,96 120,99 C116.7,102 112.4,104.8 110,106 C107.6,107.2 106.1,107.5 105.5,106.5 C104.9,105.5 104.8,102.4 106.5,100 C108.2,97.6 112.1,94.5 116,92 C119.9,89.5 126,86.2 130,85 C134,83.8 137.3,83.7 140,84.5 C142.7,85.3 145,87.4 146,90 C147,92.6 146.7,97 146,100 C145.3,103 143,106.2 142,108 C141,109.8 140.4,110.6 140.1,111.1 L153.8,122.8" fill="none" stroke="#e5281e" stroke-width="8" opacity="0.3" filter="url(#bl2)"/>
<path d="M92.2,63.7 C93.3,62.6 96.4,58.6 99,57 C101.6,55.4 105,53.9 108,54 C111,54.1 115,55.8 117,57.5 C119,59.2 120,61.4 120,64 C120,66.6 119,69.9 117,73 C115,76.1 111.3,79.6 108,82.5 C104.7,85.4 99.8,88.9 97,90.5 C94.2,92.1 92.3,92.5 91.5,92 C90.7,91.5 90.6,89.6 92,87.5 C93.4,85.4 96.7,82.2 100,79.5 C103.3,76.8 108.3,72.9 112,71 C115.7,69.1 119,68 122,68 C125,68 128.1,69.3 130,71 C131.9,72.7 133.5,75.2 133.5,78 C133.5,80.8 132.2,84.5 130,88 C127.8,91.5 123.3,96 120,99 C116.7,102 112.4,104.8 110,106 C107.6,107.2 106.1,107.5 105.5,106.5 C104.9,105.5 104.8,102.4 106.5,100 C108.2,97.6 112.1,94.5 116,92 C119.9,89.5 126,86.2 130,85 C134,83.8 137.3,83.7 140,84.5 C142.7,85.3 145,87.4 146,90 C147,92.6 146.7,97 146,100 C145.3,103 143,106.2 142,108 C141,109.8 140.4,110.6 140.1,111.1 L153.8,122.8" fill="none" stroke="url(#spA)" stroke-width="4" stroke-linejoin="round"/>
<path d="M92.2,63.7L78.8,50.5" stroke="#e5281e" stroke-width="4"/>
<path d="M69.8,41.7L85.8,46.9L75.2,57.6Z" fill="#e5281e"/>
<path d="M466.3,65.7 C466.9,65.9 468.8,65.2 470.2,67.1 C471.6,69 473.9,73.5 474.5,77 C475.1,80.5 474.9,85.4 473.5,88 C472.1,90.6 468.5,92.1 466,92.5 C463.5,92.9 461.5,92.7 458.5,90.6 C455.5,88.5 451.1,83.8 448,80 C444.9,76.2 441.8,70.5 440,68 C438.2,65.5 437.8,64.8 437,65 C436.2,65.2 435,67.2 435,69 C435,70.8 435.2,73.2 437,76 C438.8,78.8 442.8,82.7 446,86 C449.2,89.3 454,93.2 456,96 C458,98.8 458.7,101.3 458,103 C457.3,104.7 454.3,106 452,106 C449.7,106 447.3,105.3 444,103 C440.7,100.7 435.5,95.8 432,92 C428.5,88.2 425,82.3 423,80 C421,77.7 420.7,77.5 420,78 C419.3,78.5 418.2,80.2 419,83 C419.8,85.8 422.2,91.5 425,95 C427.8,98.5 433,101.5 436,104 C439,106.5 441.8,108 443,110 C444.2,112 444.3,114.5 443,116 C441.7,117.5 438,119 435,119 C432,119 427.9,117 425,116 C422.1,115 418.8,113.5 417.5,113 L404.3,124.3" fill="none" stroke="#e5281e" stroke-width="8" opacity="0.3" filter="url(#bl2)"/>
<path d="M466.3,65.7 C466.9,65.9 468.8,65.2 470.2,67.1 C471.6,69 473.9,73.5 474.5,77 C475.1,80.5 474.9,85.4 473.5,88 C472.1,90.6 468.5,92.1 466,92.5 C463.5,92.9 461.5,92.7 458.5,90.6 C455.5,88.5 451.1,83.8 448,80 C444.9,76.2 441.8,70.5 440,68 C438.2,65.5 437.8,64.8 437,65 C436.2,65.2 435,67.2 435,69 C435,70.8 435.2,73.2 437,76 C438.8,78.8 442.8,82.7 446,86 C449.2,89.3 454,93.2 456,96 C458,98.8 458.7,101.3 458,103 C457.3,104.7 454.3,106 452,106 C449.7,106 447.3,105.3 444,103 C440.7,100.7 435.5,95.8 432,92 C428.5,88.2 425,82.3 423,80 C421,77.7 420.7,77.5 420,78 C419.3,78.5 418.2,80.2 419,83 C419.8,85.8 422.2,91.5 425,95 C427.8,98.5 433,101.5 436,104 C439,106.5 441.8,108 443,110 C444.2,112 444.3,114.5 443,116 C441.7,117.5 438,119 435,119 C432,119 427.9,117 425,116 C422.1,115 418.8,113.5 417.5,113 L404.3,124.3" fill="none" stroke="url(#spB)" stroke-width="4" stroke-linejoin="round"/>
<path d="M466.3,65.7L480.1,53.1" stroke="#e5281e" stroke-width="4"/>
<path d="M489.3,44.7L483.3,60.4L473.2,49.3Z" fill="#e5281e"/>
<path d="M177,174 A31.5,36 0 0 1 240,174 M177,191 A31.5,36 0 0 0 240,191" fill="none" stroke="#8ad0cc" stroke-width="12" opacity="0.35" filter="url(#bl4)"/>
<path d="M240,176 A31.5,36 0 0 0 177,168" fill="none" stroke="url(#gxU)" stroke-width="6"/>
<path d="M170.5,167.5 L184.5,167.5 L177.3,176.5Z" fill="#1fa8a0"/>
<path d="M177,191 A31.5,36 0 0 0 240,199" fill="none" stroke="url(#gxL)" stroke-width="6"/>
<path d="M232,199.5 L247,199.5 L239.5,189.5Z" fill="#e8301e"/>
<text x="189.5" y="188" font-size="37" fill="#1fa0a0" font-style="italic">g</text>
<text x="212" y="201" font-size="22" fill="#1fa0a0" font-style="italic">x</text>
<path d="M351.7,186 A30.5,37 0 0 1 412.6,186 M351.7,194 A30.5,37 0 0 0 413.8,194" fill="none" stroke="#d8a0c8" stroke-width="12" opacity="0.35" filter="url(#bl4)"/>
<path d="M351.7,187 A30.5,37 0 0 1 412.6,179" fill="none" stroke="url(#gyU)" stroke-width="6.4"/>
<path d="M405,178.6 L420,178.6 L412.6,186Z" fill="#b860a8"/>
<path d="M413.8,193 A31,37 0 0 1 351.7,201" fill="none" stroke="url(#gyL)" stroke-width="6.4"/>
<path d="M344.2,201 L359.2,201 L351.7,192.5Z" fill="#e5282a"/>
<text x="368" y="200" font-size="37" fill="#8c1a8c" font-style="italic">g</text>
<text x="388.5" y="208.5" font-size="21" fill="#8c1a8c" font-style="italic">y</text>
<path d="M286.7,256.7 L283.5,256.3 L280.2,256.4 L277.1,255.6 L273.7,256 L270.8,254.5 L267.4,255 L264.5,253.3 L260.9,254.4 L258.1,252.4 L254.5,253.7 L251.6,252.3 L248,253.5 L245.5,249.9 L241.8,252 L238.9,250.2 L235.2,252 L232.9,247.6 L228.9,250.7 L226.4,247.5 L222.4,250.3 L219.9,246.9 L216.2,248.7 L213.8,245 L210.3,245.8 L207.5,243.9 L204.1,244.5 L201.6,240.8 L197.9,242.6 L195.3,239.5 L191.6,241.7 L189.1,238.1 L185.5,239.6 L182.8,236.8 L179.6,236.6 L176.8,234.5 L173.2,235.8 L170.8,231.9 L167.3,232.9 L164.8,229.4 L161.2,231 L158.6,227.8 L154.9,229.5 L152.8,224.7 L149.1,226.1 L146.6,222.7" fill="none" stroke="#3aa89c" stroke-width="1.4" stroke-linejoin="bevel"/><circle cx="146.3" cy="224.2" r="3" fill="none" stroke="#3aa89c" stroke-width="1.6"/>
<path d="M286.7,256.7 L285.7,252.8 L283,250.8 L282.8,246.1 L279,245.3 L279.1,240.2 L276,238.7 L275.8,233.8 L271.8,233.4 L270.5,229.8 L266.6,229.2 L265,225.9 L259.4,227.1 L258.4,223.3 L252.6,224.8 L251.2,221.3 L245.8,222.3" fill="none" stroke="#3aa89c" stroke-width="1.4" stroke-linejoin="bevel"/><circle cx="247" cy="221" r="3" fill="none" stroke="#3aa89c" stroke-width="1.6"/>
<path d="M286.7,256.7 L283.5,256.5 L280.3,256.9 L277,256 L273.9,257.5 L270.5,256 L267.4,257.6 L264.1,256.3 L261,258 L257.5,255.1 L254.6,259 L251.1,254.7 L248,257.6 L244.7,255.7 L241.7,258.6 L238.3,256.6 L235.2,258.3 L231.8,256.4 L228.7,257.8 L225.4,256.9 L222.4,259.4 L219,257.1 L215.9,258.7 L212.5,256.9 L209.5,260.4 L206.1,258 L203,259.9 L199.6,257.5 L196.7,261.4 L193.2,257.5 L190.3,261.9 L186.9,259.2 L183.8,261.6 L180.4,259.7 L177.5,263.3 L174,259.2 L171,262.5 L167.7,261.6 L164.6,263.5 L161.3,262.3 L158.2,264.9 L154.8,262.5 L151.8,265.3 L148.5,264.6 L145.4,266.5 L142.1,264.7 L139.1,267.8 L135.6,264.5 L132.7,269 L129.3,266.3 L126.3,269.8" fill="none" stroke="#3aa89c" stroke-width="1.4" stroke-linejoin="bevel"/><circle cx="126.2" cy="268.2" r="3" fill="none" stroke="#3aa89c" stroke-width="1.6"/>
<path d="M286.7,256.7 L284.5,259.6 L283,263.5 L279.6,264.3 L279.1,270.1 L274.8,269.3 L274.1,274.5 L270.5,275 L268.8,278.7 L265.1,278.9 L263.4,282.5 L260,283.4 L257.7,286 L253.9,286.1 L251.5,288.6 L247.5,288.4 L244.5,289.8 L240.6,289.7 L237.7,291.2 L233.3,290.3 L230.4,292 L225.5,290.3" fill="none" stroke="#3aa89c" stroke-width="1.4" stroke-linejoin="bevel"/><circle cx="226.6" cy="292.1" r="3" fill="none" stroke="#3aa89c" stroke-width="1.6"/>
<path d="M286.7,256.7 L284.4,259.3 L282.8,262.8 L279.5,264.1 L278.4,268.4 L275,269.5 L274,273.8 L268.6,272.3 L267.9,277.1 L263.4,276.7 L261.4,279.7 L257.5,280.3 L255.2,282.8 L250.8,282.6" fill="none" stroke="#3aa89c" stroke-width="1.4" stroke-linejoin="bevel"/><circle cx="251.3" cy="283.3" r="3" fill="none" stroke="#3aa89c" stroke-width="1.6"/>
<path d="M286.7,256.7 L290.2,255.5 L293.1,253.7 L298,254.1 L298.6,249.8 L302.9,249.5 L304.3,246.1 L308.2,245.3 L309.4,241.7 L314.3,242 L313.3,236.1 L317.9,236.1 L318,231.2 L321,229.6 L321.4,225.1 L324.8,223.8" fill="none" stroke="#9a3a98" stroke-width="1.4" stroke-linejoin="bevel"/><circle cx="323.5" cy="222.4" r="3" fill="none" stroke="#9a3a98" stroke-width="1.6"/>
<path d="M286.7,256.7 L289.8,255.6 L292.7,253.8 L295.8,253 L298.6,250.5 L302.1,251.4 L304.5,247.4 L308.3,249.1 L310.5,244.5 L314.4,246.8 L316.8,243 L320.4,244 L322.9,240.4 L326.3,240.7 L329.2,238.9 L332.6,239.1 L335.3,236.3 L339,237.9 L341.1,233 L345.1,235.5 L347.4,231.2 L351.6,234.9 L353.7,229.5 L357.7,232.1 L360.4,229.5 L363.9,230.4 L366.8,228.3 L370.3,229.1 L373,226.2 L377.1,229.4 L379.3,224.8 L383.3,227.6 L385.9,224.3 L390,227.4 L392.7,224.6 L396.4,226.4 L398.8,222.3 L403,226 L405.4,222 L409.5,224.9 L412.3,222.7 L416.2,225 L418.8,221.9 L422.8,224.6 L425,220.1" fill="none" stroke="#9a3a98" stroke-width="1.4" stroke-linejoin="bevel"/><circle cx="425.6" cy="222.4" r="3" fill="none" stroke="#9a3a98" stroke-width="1.6"/>
<path d="M286.7,256.7 L289.7,258.5 L293.1,258.5 L295.7,262.4 L299.2,261.8 L302,264.3 L305.4,264.3 L308,268.2 L312.1,265.1 L314.7,268.6 L318.5,266.7 L320.8,271.7 L325,268.3 L327.7,271.4 L331.6,269.2 L334.5,271.5 L338.1,270.7 L340.9,273.4 L345.1,269.4 L347.9,272.4 L352.1,268.8" fill="none" stroke="#9a3a98" stroke-width="1.4" stroke-linejoin="bevel"/><circle cx="351.6" cy="271" r="3" fill="none" stroke="#9a3a98" stroke-width="1.6"/>
<path d="M286.7,256.7 L290,256.8 L293.4,256 L296.6,256.6 L300,255.8 L303.2,256.7 L306.6,255.4 L309.7,257.3 L313.2,255.1 L316.3,257.1 L319.8,255.3 L322.8,258.1 L326.4,254.9 L329.4,257.3 L333,254.6 L335.9,258.4 L339.5,255.2 L342.5,258.8 L346.1,255.5 L349.1,258.5 L352.6,256 L355.7,258.1 L359.1,256.8 L362.2,259.2 L365.5,258.6 L368.5,261.3 L372,259.2 L375.1,261.7 L378.6,259.2 L381.5,263 L385,261.2 L388,264.2 L391.5,262 L394.4,266.2 L397.9,264.4 L400.9,267.1 L404.3,265.6 L407.4,268.1 L410.9,266 L413.7,270.1 L417.2,268 L420.1,272.2" fill="none" stroke="#9a3a98" stroke-width="1.4" stroke-linejoin="bevel"/><circle cx="420.3" cy="270.3" r="3" fill="none" stroke="#9a3a98" stroke-width="1.6"/>
<path d="M286.7,256.7 L286.8,261.1 L289,263.7 L287.7,269.3 L291.1,270.9 L290.4,275.9 L295,276.5 L295.6,280.4 L300.9,280.4 L301.7,284.2 L308.5,282.8 L309.5,286.5" fill="none" stroke="#9a3a98" stroke-width="1.4" stroke-linejoin="bevel"/><circle cx="311.1" cy="285.1" r="3" fill="none" stroke="#9a3a98" stroke-width="1.6"/>
<path d="M287,282V240" stroke="#e02018" stroke-width="3"/>
<path d="M287,224L295,241L279,241Z" fill="#e02018"/>
<circle cx="286.7" cy="256.7" r="13" fill="url(#emit)"/>
<path d="M81.9,248L127,233" stroke="#8c8c8c" stroke-width="2"/>
<path d="M127,233L119.9,240.1L117,231.6Z" fill="#8c8c8c"/>
<circle cx="99" cy="242.7" r="8" fill="url(#bead)"/>
<path d="M103.4,298.6L64.7,270.7" stroke="#8c8c8c" stroke-width="2"/>
<path d="M64.7,270.7L74.6,272.3L69.4,279.6Z" fill="#8c8c8c"/>
<circle cx="89.4" cy="287.8" r="8" fill="url(#bead)"/>
<path d="M138.8,315.8L157.1,270.7" stroke="#8c8c8c" stroke-width="2"/>
<path d="M157.1,270.7L157.9,280.7L149.5,277.3Z" fill="#8c8c8c"/>
<circle cx="145.3" cy="298.6" r="8" fill="url(#bead)"/>
<path d="M475.9,275.3L463.2,228.8" stroke="#8c8c8c" stroke-width="2"/>
<path d="M463.2,228.8L469.9,236.3L461.2,238.7Z" fill="#8c8c8c"/>
<circle cx="470.6" cy="257.4" r="8" fill="url(#bead)"/>
<path d="M447.3,309.2L404,290.2" stroke="#8c8c8c" stroke-width="2"/>
<path d="M404,290.2L414,289.7L410.4,297.9Z" fill="#8c8c8c"/>
<circle cx="430.4" cy="301.8" r="8" fill="url(#bead)"/>
<path d="M461,301.8L505.5,283.8" stroke="#8c8c8c" stroke-width="2"/>
<path d="M505.5,283.8L498.8,291.3L495.5,283Z" fill="#8c8c8c"/>
<circle cx="477" cy="294.4" r="8" fill="url(#bead)"/>
</g>
<defs>
<radialGradient id="ballP" cx="0.35" cy="0.3" r="0.75"><stop offset="0" stop-color="#c070c0"/><stop offset="0.5" stop-color="#8e2e92"/><stop offset="1" stop-color="#3a0c40"/></radialGradient>
<radialGradient id="ballR" cx="0.35" cy="0.3" r="0.75"><stop offset="0" stop-color="#f06a60"/><stop offset="0.5" stop-color="#c81a1a"/><stop offset="1" stop-color="#500808"/></radialGradient>
<radialGradient id="ballT" cx="0.35" cy="0.3" r="0.75"><stop offset="0" stop-color="#7ad8d8"/><stop offset="0.5" stop-color="#1fa8aa"/><stop offset="1" stop-color="#0c4a4c"/></radialGradient>
</defs>
<rect x="224.4" y="314.3" width="292.3" height="176.2" fill="#fff" stroke="#000" stroke-width="2"/>
<path d="M328,374 L329.3,374 L330.5,374.2 L331.7,374.4 L332.9,374.7 L334.1,375.1 L335.1,375.6 L336.1,376.1 L337,376.7 L337.8,377.3 L338.5,378 L339.1,378.7 L339.6,379.5 L340,380.2 L340.2,381 L340.4,381.8 L340.4,382.5 L340.3,383.2 L340.1,383.9 L339.8,384.5 L339.4,385.1 L338.9,385.6 L338.4,386 L337.7,386.4 L337.1,386.7 L336.4,386.9 L335.7,387 L334.9,387 L334.2,386.9 L333.5,386.8 L332.8,386.5 L332.2,386.2 L331.6,385.8 L331.1,385.3 L330.7,384.7 L330.3,384.1 L330.1,383.5 L330,382.7 L329.9,382 L330,381.3 L330.2,380.5 L330.6,379.7 L331,379 L331.6,378.3 L332.3,377.5 L333,376.9 L333.9,376.3 L334.9,375.7 L335.9,375.2 L337,374.8 L338.2,374.5 L339.4,374.2 L340.6,374.1 L341.9,374 L343.2,374 L344.4,374.1 L345.7,374.3 L346.9,374.6 L348,375 L349.1,375.4 L350.1,375.9 L351.1,376.5 L351.9,377.1 L352.7,377.8 L353.3,378.5 L353.8,379.2 L354.2,380 L354.5,380.8 L354.7,381.5 L354.7,382.3 L354.7,383 L354.5,383.7 L354.2,384.3 L353.9,384.9 L353.4,385.4 L352.9,385.9 L352.3,386.3 L351.6,386.6 L350.9,386.8 L350.2,387 L349.5,387 L348.8,387 L348.1,386.8 L347.4,386.6 L346.7,386.3 L346.1,385.9 L345.6,385.4 L345.1,384.9 L344.8,384.3 L344.5,383.7 L344.3,383 L344.3,382.3 L344.3,381.5 L344.5,380.8 L344.8,380 L345.2,379.2 L345.7,378.5 L346.3,377.8 L347.1,377.1 L347.9,376.5 L348.9,375.9 L349.9,375.4 L351,375 L352.1,374.6 L353.3,374.3 L354.6,374.1 L355.8,374 L357.1,374 L358.4,374.1 L359.6,374.2 L360.8,374.5 L362,374.8 L363.1,375.2 L364.1,375.7 L365.1,376.3 L366,376.9 L366.7,377.5 L367.4,378.3 L368,379 L368.4,379.7 L368.8,380.5 L369,381.3 L369.1,382 L369,382.7 L368.9,383.5 L368.7,384.1 L368.3,384.7 L367.9,385.3 L367.4,385.8 L366.8,386.2 L366.2,386.5 L365.5,386.8 L364.8,386.9 L364.1,387 L363.3,387 L362.6,386.9 L361.9,386.7 L361.3,386.4 L360.6,386 L360.1,385.6 L359.6,385.1 L359.2,384.5 L358.9,383.9 L358.7,383.2 L358.6,382.5 L358.6,381.8 L358.8,381 L359,380.2 L359.4,379.5 L359.9,378.7 L360.5,378 L361.2,377.3 L362,376.7 L362.9,376.1 L363.9,375.6 L364.9,375.1 L366.1,374.7 L367.3,374.4 L368.5,374.2 L369.7,374 L371,374" fill="none" stroke="#8a8a8a" stroke-width="1.8"/>
<path d="M306.6,397 L306.6,398.3 L306.4,399.6 L306.3,400.8 L306,402 L305.7,403.2 L305.3,404.2 L304.8,405.3 L304.3,406.2 L303.8,407 L303.2,407.7 L302.6,408.3 L302,408.8 L301.3,409.2 L300.7,409.5 L300,409.6 L299.4,409.7 L298.8,409.6 L298.2,409.4 L297.7,409.1 L297.2,408.8 L296.8,408.3 L296.4,407.8 L296.1,407.2 L295.9,406.5 L295.7,405.8 L295.6,405.1 L295.6,404.4 L295.7,403.7 L295.8,403 L296,402.4 L296.3,401.8 L296.7,401.2 L297.1,400.7 L297.5,400.3 L298,400 L298.6,399.8 L299.2,399.7 L299.8,399.7 L300.5,399.8 L301.1,400 L301.7,400.3 L302.4,400.8 L303,401.4 L303.6,402.1 L304.2,402.9 L304.7,403.8 L305.1,404.7 L305.5,405.8 L305.9,406.9 L306.2,408.1 L306.4,409.4 L306.5,410.6 L306.6,411.9 L306.6,413.2 L306.5,414.5 L306.3,415.7 L306.1,416.9 L305.8,418.1 L305.4,419.2 L305,420.3 L304.5,421.2 L304,422.1 L303.4,422.8 L302.8,423.5 L302.2,424 L301.5,424.4 L300.9,424.8 L300.2,424.9 L299.6,425 L299,425 L298.4,424.8 L297.9,424.6 L297.4,424.2 L296.9,423.8 L296.5,423.3 L296.2,422.7 L295.9,422.1 L295.8,421.4 L295.6,420.7 L295.6,420 L295.6,419.3 L295.8,418.6 L295.9,417.9 L296.2,417.3 L296.5,416.7 L296.9,416.2 L297.4,415.8 L297.9,415.4 L298.4,415.2 L299,415 L299.6,415 L300.2,415.1 L300.9,415.2 L301.5,415.6 L302.2,416 L302.8,416.5 L303.4,417.2 L304,417.9 L304.5,418.8 L305,419.7 L305.4,420.8 L305.8,421.9 L306.1,423.1 L306.3,424.3 L306.5,425.5 L306.6,426.8 L306.6,428.1 L306.5,429.4 L306.4,430.6 L306.2,431.9 L305.9,433.1 L305.5,434.2 L305.1,435.3 L304.7,436.2 L304.2,437.1 L303.6,437.9 L303,438.6 L302.4,439.2 L301.7,439.7 L301.1,440 L300.5,440.2 L299.8,440.3 L299.2,440.3 L298.6,440.2 L298,440 L297.5,439.7 L297.1,439.3 L296.7,438.8 L296.3,438.2 L296,437.6 L295.8,437 L295.7,436.3 L295.6,435.6 L295.6,434.9 L295.7,434.2 L295.9,433.5 L296.1,432.8 L296.4,432.2 L296.8,431.7 L297.2,431.2 L297.7,430.9 L298.2,430.6 L298.8,430.4 L299.4,430.3 L300,430.4 L300.7,430.5 L301.3,430.8 L302,431.2 L302.6,431.7 L303.2,432.3 L303.8,433 L304.3,433.8 L304.8,434.7 L305.3,435.8 L305.7,436.8 L306,438 L306.3,439.2 L306.4,440.4 L306.6,441.7 L306.6,443" fill="none" stroke="#8e2e92" stroke-width="1.8"/>
<path d="M393,397 L393,398.3 L392.8,399.5 L392.7,400.8 L392.4,402 L392.1,403.1 L391.7,404.2 L391.2,405.2 L390.7,406.1 L390.2,406.9 L389.6,407.7 L389,408.3 L388.4,408.8 L387.7,409.1 L387.1,409.4 L386.4,409.6 L385.8,409.6 L385.2,409.5 L384.6,409.3 L384.1,409 L383.6,408.6 L383.2,408.2 L382.8,407.6 L382.5,407 L382.3,406.4 L382.1,405.7 L382,405 L382,404.3 L382.1,403.5 L382.2,402.8 L382.4,402.2 L382.7,401.6 L383.1,401 L383.5,400.5 L383.9,400.1 L384.4,399.8 L385,399.6 L385.6,399.4 L386.2,399.4 L386.9,399.5 L387.5,399.8 L388.1,400.1 L388.8,400.5 L389.4,401.1 L390,401.8 L390.6,402.6 L391.1,403.5 L391.5,404.4 L391.9,405.5 L392.3,406.6 L392.6,407.8 L392.8,409 L392.9,410.3 L393,411.6 L393,412.9 L392.9,414.1 L392.7,415.4 L392.5,416.6 L392.2,417.8 L391.8,418.9 L391.4,419.9 L390.9,420.8 L390.4,421.7 L389.8,422.4 L389.2,423.1 L388.6,423.6 L387.9,424 L387.3,424.3 L386.6,424.5 L386,424.6 L385.4,424.5 L384.8,424.4 L384.3,424.1 L383.8,423.8 L383.3,423.3 L382.9,422.8 L382.6,422.2 L382.3,421.6 L382.2,420.9 L382,420.2 L382,419.5 L382,418.8 L382.2,418.1 L382.3,417.4 L382.6,416.8 L382.9,416.2 L383.3,415.7 L383.8,415.2 L384.3,414.9 L384.8,414.6 L385.4,414.5 L386,414.4 L386.6,414.5 L387.3,414.7 L387.9,415 L388.6,415.4 L389.2,415.9 L389.8,416.6 L390.4,417.3 L390.9,418.2 L391.4,419.1 L391.8,420.1 L392.2,421.2 L392.5,422.4 L392.7,423.6 L392.9,424.9 L393,426.1 L393,427.4 L392.9,428.7 L392.8,430 L392.6,431.2 L392.3,432.4 L391.9,433.5 L391.5,434.6 L391.1,435.5 L390.6,436.4 L390,437.2 L389.4,437.9 L388.8,438.5 L388.1,438.9 L387.5,439.2 L386.9,439.5 L386.2,439.6 L385.6,439.6 L385,439.4 L384.4,439.2 L383.9,438.9 L383.5,438.5 L383.1,438 L382.7,437.4 L382.4,436.8 L382.2,436.2 L382.1,435.5 L382,434.7 L382,434 L382.1,433.3 L382.3,432.6 L382.5,432 L382.8,431.4 L383.2,430.8 L383.6,430.4 L384.1,430 L384.6,429.7 L385.2,429.5 L385.8,429.4 L386.4,429.4 L387.1,429.6 L387.7,429.9 L388.4,430.2 L389,430.7 L389.6,431.3 L390.2,432.1 L390.7,432.9 L391.2,433.8 L391.7,434.8 L392.1,435.9 L392.4,437 L392.7,438.2 L392.8,439.5 L393,440.7 L393,442" fill="none" stroke="#8a8a8a" stroke-width="1.8"/>
<path d="M327,461 L328.3,461 L329.5,461.2 L330.8,461.4 L332,461.7 L333.1,462.1 L334.2,462.6 L335.2,463.1 L336.1,463.7 L336.9,464.3 L337.6,465 L338.2,465.7 L338.7,466.5 L339.1,467.2 L339.3,468 L339.5,468.8 L339.5,469.5 L339.4,470.2 L339.2,470.9 L338.9,471.5 L338.5,472.1 L338,472.6 L337.5,473 L336.9,473.4 L336.2,473.7 L335.5,473.9 L334.8,474 L334.1,474 L333.4,473.9 L332.7,473.8 L332,473.5 L331.4,473.2 L330.8,472.8 L330.3,472.3 L329.9,471.7 L329.6,471.1 L329.3,470.5 L329.2,469.7 L329.2,469 L329.3,468.3 L329.5,467.5 L329.8,466.7 L330.3,466 L330.9,465.3 L331.5,464.5 L332.3,463.9 L333.2,463.3 L334.2,462.7 L335.2,462.2 L336.3,461.8 L337.5,461.5 L338.7,461.2 L340,461.1 L341.2,461 L342.5,461 L343.8,461.1 L345,461.3 L346.2,461.6 L347.4,462 L348.5,462.4 L349.5,462.9 L350.5,463.5 L351.3,464.1 L352,464.8 L352.7,465.5 L353.2,466.2 L353.6,467 L353.9,467.8 L354.1,468.5 L354.2,469.3 L354.1,470 L353.9,470.7 L353.7,471.3 L353.3,471.9 L352.9,472.4 L352.3,472.9 L351.8,473.3 L351.1,473.6 L350.4,473.8 L349.7,474 L349,474 L348.3,474 L347.6,473.8 L346.9,473.6 L346.2,473.3 L345.7,472.9 L345.1,472.4 L344.7,471.9 L344.3,471.3 L344.1,470.7 L343.9,470 L343.8,469.3 L343.9,468.5 L344.1,467.8 L344.4,467 L344.8,466.2 L345.3,465.5 L346,464.8 L346.7,464.1 L347.5,463.5 L348.5,462.9 L349.5,462.4 L350.6,462 L351.8,461.6 L353,461.3 L354.2,461.1 L355.5,461 L356.8,461 L358,461.1 L359.3,461.2 L360.5,461.5 L361.7,461.8 L362.8,462.2 L363.8,462.7 L364.8,463.3 L365.7,463.9 L366.5,464.5 L367.1,465.3 L367.7,466 L368.2,466.7 L368.5,467.5 L368.7,468.3 L368.8,469 L368.8,469.7 L368.7,470.5 L368.4,471.1 L368.1,471.7 L367.7,472.3 L367.2,472.8 L366.6,473.2 L366,473.5 L365.3,473.8 L364.6,473.9 L363.9,474 L363.2,474 L362.5,473.9 L361.8,473.7 L361.1,473.4 L360.5,473 L360,472.6 L359.5,472.1 L359.1,471.5 L358.8,470.9 L358.6,470.2 L358.5,469.5 L358.5,468.8 L358.7,468 L358.9,467.2 L359.3,466.5 L359.8,465.7 L360.4,465 L361.1,464.3 L361.9,463.7 L362.8,463.1 L363.8,462.6 L364.9,462.1 L366,461.7 L367.2,461.4 L368.5,461.2 L369.7,461 L371,461" fill="none" stroke="#1fa8aa" stroke-width="1.8"/>
<path d="M409,361 L410,360.2 L411,359.5 L412,358.9 L413,358.3 L414.1,357.8 L415.1,357.5 L416.1,357.2 L417.1,357 L418.1,356.9 L419,356.9 L419.8,357 L420.6,357.2 L421.2,357.4 L421.8,357.8 L422.3,358.2 L422.7,358.7 L423,359.2 L423.2,359.8 L423.3,360.4 L423.3,361.1 L423.2,361.7 L423,362.4 L422.7,363 L422.3,363.7 L421.9,364.3 L421.4,364.8 L420.8,365.3 L420.2,365.8 L419.6,366.2 L418.9,366.5 L418.2,366.7 L417.5,366.8 L416.8,366.8 L416.2,366.8 L415.6,366.6 L415,366.4 L414.5,366 L414.1,365.6 L413.7,365.1 L413.4,364.5 L413.2,363.8 L413.1,363 L413.1,362.2 L413.2,361.3 L413.4,360.4 L413.7,359.5 L414.1,358.5 L414.6,357.6 L415.2,356.6 L415.9,355.6 L416.6,354.7 L417.5,353.8 L418.4,352.9 L419.3,352.1 L420.3,351.4 L421.3,350.7 L422.4,350.2 L423.4,349.7 L424.5,349.2 L425.5,348.9 L426.5,348.7 L427.4,348.6 L428.4,348.5 L429.2,348.6 L430,348.8 L430.7,349 L431.3,349.3 L431.8,349.7 L432.3,350.2 L432.6,350.7 L432.8,351.3 L433,351.9 L433,352.5 L432.9,353.2 L432.7,353.8 L432.5,354.5 L432.1,355.1 L431.7,355.7 L431.2,356.3 L430.7,356.8 L430.1,357.3 L429.4,357.7 L428.8,358 L428.1,358.3 L427.4,358.4 L426.7,358.5 L426.1,358.5 L425.4,358.4 L424.9,358.1 L424.3,357.8 L423.9,357.4 L423.5,356.9 L423.2,356.3 L422.9,355.7 L422.8,355 L422.8,354.2 L422.8,353.3 L423,352.4 L423.3,351.5 L423.6,350.5 L424.1,349.5 L424.7,348.6 L425.3,347.6 L426,346.7 L426.8,345.8 L427.7,344.9 L428.6,344.1 L429.6,343.3 L430.6,342.6 L431.7,342 L432.7,341.5 L433.8,341 L434.8,340.7 L435.8,340.4 L436.8,340.3 L437.7,340.2 L438.6,340.2 L439.4,340.4 L440.1,340.6 L440.8,340.9 L441.3,341.2 L441.8,341.7 L442.2,342.2 L442.4,342.7 L442.6,343.3 L442.7,344 L442.6,344.6 L442.5,345.3 L442.3,345.9 L441.9,346.6 L441.5,347.2 L441.1,347.8 L440.5,348.3 L440,348.8 L439.3,349.2 L438.7,349.6 L438,349.9 L437.3,350.1 L436.6,350.2 L436,350.2 L435.3,350.1 L434.7,349.9 L434.2,349.6 L433.7,349.2 L433.3,348.8 L432.9,348.2 L432.7,347.6 L432.5,346.9 L432.4,346.1 L432.5,345.3 L432.6,344.4 L432.8,343.5 L433.2,342.5 L433.6,341.5 L434.1,340.6 L434.7,339.6 L435.4,338.6 L436.2,337.7 L437.1,336.8 L438,336" fill="none" stroke="#d01818" stroke-width="1.8"/>
<rect x="434" y="330" width="22" height="10" fill="#9a9a9a" transform="rotate(40 445 335)"/>
<rect x="289" y="444" width="36.7" height="36.2" fill="#9a9a9a"/>
<circle cx="306.6" cy="375.5" r="20" fill="url(#ballP)"/>
<circle cx="393" cy="375.5" r="20" fill="url(#ballR)"/>
<circle cx="393" cy="462.6" r="20" fill="url(#ballT)"/>
<text x="234.5" y="347.2" font-size="22" fill="#8a2090" textLength="87" lengthAdjust="spacingAndGlyphs">Cavity y</text>
<text x="420.8" y="387.1" font-size="22" fill="#d01818" textLength="77.4" lengthAdjust="spacingAndGlyphs">Emitter</text>
<text x="418.4" y="473" font-size="22" fill="#18a8a8" textLength="85.8" lengthAdjust="spacingAndGlyphs">Cavity x</text>
<text x="345" y="352" font-size="23" fill="#8a8a8a" font-style="italic">g</text>
<text x="358" y="359" font-size="15" fill="#8a8a8a" font-style="italic">x</text>
<text x="410" y="424" font-size="23" fill="#8a8a8a" font-style="italic">g</text>
<text x="424" y="431" font-size="15" fill="#8a8a8a" font-style="italic">y</text>
<text x="359" y="411.3" font-size="19" fill="#5cb82e">R</text>
<text x="330" y="445.1" font-size="19" fill="#1a3a9a">L</text>
<path d="M366,439 Q362,412 335,402" fill="none" stroke="#5cb82e" stroke-width="4"/>
<path d="M327,399L340.4,397.9L335.9,409Z" fill="#5cb82e"/>
<path d="M329,417 Q345,420 352,432" fill="none" stroke="#1a3a9a" stroke-width="4"/>
<path d="M356,444L346.2,434.9L357.4,430.7Z" fill="#1a3a9a"/>
<defs>
<linearGradient id="cubeF" x1="0" y1="0" x2="0" y2="1"><stop offset="0" stop-color="#e4e2e0"/><stop offset="0.15" stop-color="#f4f3f2"/><stop offset="0.6" stop-color="#e6e5e3"/><stop offset="0.8" stop-color="#d8dcd4"/><stop offset="1" stop-color="#a8c4a0"/></linearGradient>
<linearGradient id="cubeR" x1="0" y1="0" x2="1" y2="0"><stop offset="0" stop-color="#ededec"/><stop offset="0.7" stop-color="#e0e0de"/><stop offset="1" stop-color="#b8b8b6"/></linearGradient>
<linearGradient id="cubeT" x1="0" y1="0" x2="0" y2="1"><stop offset="0" stop-color="#c8aaa0"/><stop offset="1" stop-color="#b0a49e"/></linearGradient>
<linearGradient id="baseL" x1="0" y1="0" x2="1" y2="0"><stop offset="0" stop-color="#cfcfcf"/><stop offset="1" stop-color="#b9b9b9"/></linearGradient>
</defs>
<defs><clipPath id="clipB"><rect x="0" y="491.5" width="560" height="300"/></clipPath></defs>
<g clip-path="url(#clipB)"><path d="M125,515 L385,515 L314,722 L198,722Z" fill="#eeac8e" filter="url(#bl20)"/>
<path d="M175,540 L335,540 L295,690 L215,690Z" fill="#eda284" opacity="0.45" filter="url(#bl14)"/></g>
<path d="M50.8,867.7 L313,918.7 L313,933 L52,883Z" fill="url(#baseL)"/>
<path d="M313,918.7 L462.7,831.8 L462.7,846 L313,933Z" fill="#dcdcdc"/>
<path d="M50.8,867.7 L200.5,781.5 L462.7,831.8 L313,918.7Z" fill="#e8e8e8"/>
<path d="M78,856 L205,781 L442,826 L313,910Z" fill="#6fb257" opacity="0.85"/>
<path d="M78,856 L313,910 L313,916 L78,862Z" fill="#8a9a80" opacity="0.7"/>
<path d="M313,910 L442,826 L442,831 L313,916Z" fill="#9ab890" opacity="0.7"/>
<path d="M78,856 L205,781 L442,826" fill="none" stroke="#b8dca8" stroke-width="3" opacity="0.6"/>
<path d="M190,842 L290,862 L340,828 L330,790 L240,800Z" fill="#4e8a44" opacity="0.35" filter="url(#bl8)"/>
<defs><linearGradient id="cubeT2" gradientUnits="userSpaceOnUse" x1="200" y1="720" x2="330" y2="745"><stop offset="0" stop-color="#cdb5aa"/><stop offset="0.6" stop-color="#c0aaa0"/><stop offset="1" stop-color="#9e928c"/></linearGradient><linearGradient id="cubeF2" x1="0" y1="0" x2="0" y2="1"><stop offset="0" stop-color="#dcdad8"/><stop offset="0.2" stop-color="#f2f1f0"/><stop offset="0.7" stop-color="#e6e5e4"/><stop offset="0.78" stop-color="#c4d8bc"/><stop offset="1" stop-color="#90bc84"/></linearGradient><linearGradient id="cubeR2" x1="0" y1="0" x2="0" y2="1"><stop offset="0" stop-color="#e2e0de"/><stop offset="0.55" stop-color="#ecebea"/><stop offset="0.62" stop-color="#b8d4ac"/><stop offset="1" stop-color="#74a866"/></linearGradient></defs>
<path d="M283,760 L326,741 Q334,737 334,747 V816 Q334,825 326,829 L292,850 Q283,855 283,846Z" fill="url(#cubeR2)"/>
<path d="M200,741 L276,757 Q286,759 286,770 V842 Q286,855 274,852 L203,838 Q189,835 189,822 V752 Q189,739 200,741Z" fill="url(#cubeF2)"/>
<path d="M200,741 L274,757 Q282,759 292,754 L328,737 Q338,731 326,727 L252,715 Q242,713 232,718 L196,732 Q186,737 200,741Z" fill="url(#cubeT2)"/>
<path d="M197,737 L276,752" stroke="#f4e6e0" stroke-width="3" opacity="0.9"/>
<path d="M193,746 L280,762" stroke="#f8f0ec" stroke-width="3.5" opacity="0.85"/>
<path d="M191,752 L283,769" stroke="#a8a4a0" stroke-width="2" opacity="0.5"/>
<path d="M190,830 Q191,838 204,840 L274,853 Q285,855 286,846 M286,848 L326,826" fill="none" stroke="#b888b0" stroke-width="2.2" opacity="0.9"/>
<path d="M185,847.5L272,867.5" stroke="#000" stroke-width="3"/><path d="M185,847.5L200.1,844.3L197.2,857Z" fill="#000"/><path d="M272,867.5L256.9,870.7L259.8,858Z" fill="#000"/>
<path d="M287,867L340,832" stroke="#000" stroke-width="3"/><path d="M287,867L295.1,853.9L302.3,864.7Z" fill="#000"/><path d="M340,832L331.9,845.1L324.7,834.3Z" fill="#000"/>
<text transform="translate(178,884) rotate(12.5)" font-size="31">60 nm</text>
<text transform="translate(305,900) rotate(-37)" font-size="31">62 nm</text>
<path d="M112.7,777 V738 M112.7,776 L137,762 M112.7,776 L147,786" stroke="#000" stroke-width="3" fill="none"/>
<path d="M112.7,727L118.7,740L106.7,740Z" fill="#000"/>
<path d="M145,755.5L137.2,767.5L130.8,757.4Z" fill="#000"/>
<path d="M157,789L142.8,791.1L146.2,779.6Z" fill="#000"/>
<text x="101" y="722" font-size="27" font-style="italic">z</text>
<text x="146" y="760.5" font-size="27" font-style="italic">y</text>
<text x="156" y="796.5" font-size="27" font-style="italic">x</text>
<text x="175" y="560.7" font-size="35.4" textLength="68.6" lengthAdjust="spacingAndGlyphs">LCP</text>
<text x="268.8" y="560.8" font-size="35.4" textLength="76.2" lengthAdjust="spacingAndGlyphs">RCP</text>
<g stroke="#1a3590" fill="none" stroke-width="5"><path d="M213.7,604.6 A41,15.7 0 1 1 186.2,607.1"/><path d="M208.8,576.4V662"/></g><path d="M198.3,661L208.8,683L219.3,661Z" fill="#1a3590"/><path d="M196.6,604.2L183.9,600.7L185.7,612.3Z" fill="#1a3590"/>
<g stroke="#62b83a" fill="none" stroke-width="5"><path d="M328.2,608.4 A41.5,14.6 0 1 1 300.4,606.1"/><path d="M305.4,575.9V661"/></g><path d="M295.4,660L305.4,684L315.4,660Z" fill="#62b83a"/><path d="M318.3,605.7L330.4,602.4L328.8,613.4Z" fill="#62b83a"/>
<rect x="394.3" y="618.9" width="70.3" height="70" rx="7" fill="#c8c8c8"/>
<rect x="361.3" y="690.6" width="136.2" height="18.6" fill="#6cbd45"/>
<rect x="361.3" y="709.2" width="136.2" height="32.5" fill="#c8c8c8"/>
<text x="429.5" y="663" font-size="22.5" text-anchor="middle">Ag</text>
<text x="429.5" y="738" font-size="22.5" text-anchor="middle">Ag</text>
<text x="381.6" y="707.2" font-size="22.5" textLength="97.6" lengthAdjust="spacingAndGlyphs">dielectric</text>
<path d="M471.9,619L471.9,689" stroke="#000" stroke-width="1.8"/><path d="M471.9,619L475.4,627L468.4,627Z" fill="#000"/><path d="M471.9,689L468.4,681L475.4,681Z" fill="#000"/>
<path d="M503.6,691L503.6,709" stroke="#000" stroke-width="1.8"/><path d="M503.6,691L506.6,697L500.6,697Z" fill="#000"/><path d="M503.6,709L500.6,703L506.6,703Z" fill="#000"/>
<text x="475.5" y="662.8" font-size="22" textLength="67.2" lengthAdjust="spacingAndGlyphs">60 nm</text>
<text x="508.5" y="707.5" font-size="22" textLength="53" lengthAdjust="spacingAndGlyphs">5 nm</text>
<path d="M351,755 V727 M350,755 H380" stroke="#000" stroke-width="2.6" fill="none"/>
<path d="M351,717L356,728L346,728Z" fill="#000"/>
<path d="M389,755L378,760L378,750Z" fill="#000"/>
<text x="343.5" y="711" font-size="22" font-style="italic">z</text>
<text x="390.5" y="761" font-size="22" font-style="italic">x</text>
</svg></body></html>
